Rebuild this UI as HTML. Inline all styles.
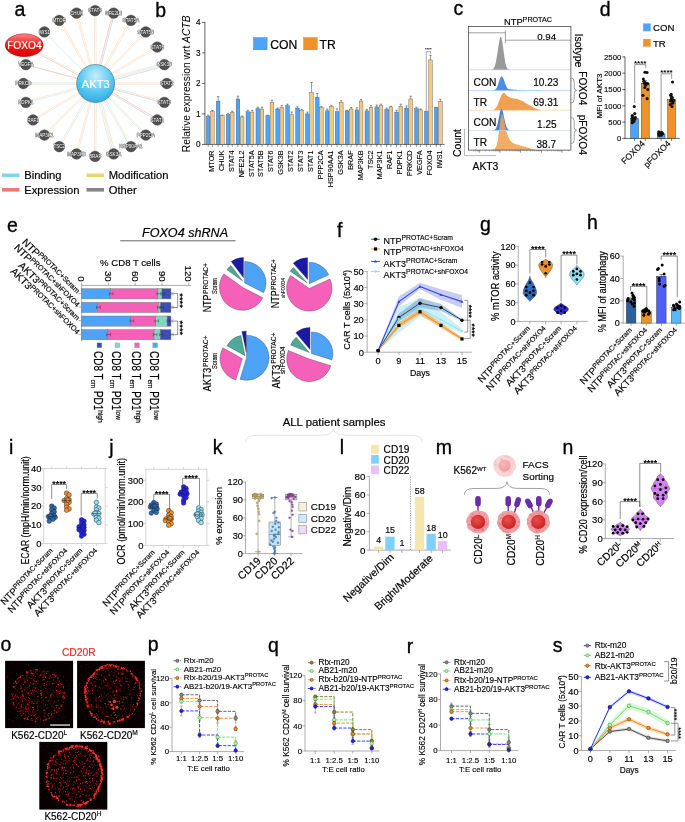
<!DOCTYPE html>
<html lang="en"><head><meta charset="utf-8"><title>Figure</title>
<style>
html,body{margin:0;padding:0;background:#fff;}
body{width:685px;height:822px;overflow:hidden;}
svg{display:block;font-family:"Liberation Sans",Arial,Helvetica,sans-serif;}
</style></head><body>
<svg width="685" height="822" viewBox="0 0 685 822">
<rect width="685" height="822" fill="#fff"/>
<defs><radialGradient id="gAkt" cx="50%" cy="30%" r="75%"><stop offset="0" stop-color="#c9eefc"/><stop offset="0.55" stop-color="#5cc8f2"/><stop offset="1" stop-color="#2aa7de"/></radialGradient><linearGradient id="gFox" x1="0" y1="0" x2="0" y2="1"><stop offset="0" stop-color="#ff8a8a"/><stop offset="0.45" stop-color="#f02222"/><stop offset="1" stop-color="#d80000"/></linearGradient></defs>
<line x1="94.85" y1="83.51" x2="94.35" y2="10.61" stroke="#f8dcc0" stroke-width="0.65" />
<line x1="96.35" y1="83.49" x2="95.85" y2="10.59" stroke="#f8dcc0" stroke-width="0.65" />
<line x1="94.87" y1="83.31" x2="112.93" y2="12.9" stroke="#e9b6b6" stroke-width="0.65" />
<line x1="96.33" y1="83.69" x2="114.38" y2="13.27" stroke="#c9c9cf" stroke-width="0.65" />
<line x1="94.95" y1="83.13" x2="130.3" y2="20" stroke="#f8dcc0" stroke-width="0.65" />
<line x1="96.25" y1="83.87" x2="131.6" y2="20.73" stroke="#f8dcc0" stroke-width="0.65" />
<line x1="95.06" y1="82.98" x2="145.26" y2="31.43" stroke="#f8dcc0" stroke-width="0.65" />
<line x1="96.14" y1="84.02" x2="146.34" y2="32.48" stroke="#f8dcc0" stroke-width="0.65" />
<line x1="95.22" y1="82.85" x2="156.81" y2="46.4" stroke="#f8dcc0" stroke-width="0.65" />
<line x1="95.98" y1="84.15" x2="157.58" y2="47.7" stroke="#f8dcc0" stroke-width="0.65" />
<line x1="95.2" y1="82.05" x2="163.96" y2="63.19" stroke="#f8dcc0" stroke-width="0.65" />
<line x1="95.6" y1="83.5" x2="164.36" y2="64.63" stroke="#bfeaf2" stroke-width="0.65" />
<line x1="96" y1="84.95" x2="164.75" y2="66.08" stroke="#c9c9cf" stroke-width="0.65" />
<line x1="95.6" y1="82.75" x2="166.8" y2="82.75" stroke="#f8dcc0" stroke-width="0.65" />
<line x1="95.6" y1="84.25" x2="166.8" y2="84.25" stroke="#f8dcc0" stroke-width="0.65" />
<line x1="95.8" y1="82.78" x2="164.56" y2="101.64" stroke="#f8dcc0" stroke-width="0.65" />
<line x1="95.4" y1="84.22" x2="164.16" y2="103.09" stroke="#c9c9cf" stroke-width="0.65" />
<line x1="95.98" y1="82.85" x2="157.58" y2="119.3" stroke="#e9b6b6" stroke-width="0.65" />
<line x1="95.22" y1="84.15" x2="156.81" y2="120.6" stroke="#c9c9cf" stroke-width="0.65" />
<line x1="96.14" y1="82.98" x2="146.34" y2="134.52" stroke="#f8dcc0" stroke-width="0.65" />
<line x1="95.06" y1="84.02" x2="145.26" y2="135.57" stroke="#bfeaf2" stroke-width="0.65" />
<line x1="96.25" y1="83.13" x2="131.6" y2="146.27" stroke="#f8dcc0" stroke-width="0.65" />
<line x1="94.95" y1="83.87" x2="130.3" y2="147" stroke="#bfeaf2" stroke-width="0.65" />
<line x1="97.05" y1="83.13" x2="115.11" y2="153.54" stroke="#f8dcc0" stroke-width="0.65" />
<line x1="95.6" y1="83.5" x2="113.66" y2="153.92" stroke="#bfeaf2" stroke-width="0.65" />
<line x1="94.15" y1="83.87" x2="112.2" y2="154.29" stroke="#f8dcc0" stroke-width="0.65" />
<line x1="96.35" y1="83.51" x2="95.85" y2="156.41" stroke="#f8dcc0" stroke-width="0.65" />
<line x1="94.85" y1="83.49" x2="94.35" y2="156.39" stroke="#f8dcc0" stroke-width="0.65" />
<line x1="96.32" y1="83.7" x2="77.27" y2="154.11" stroke="#f8dcc0" stroke-width="0.65" />
<line x1="94.88" y1="83.3" x2="75.82" y2="153.72" stroke="#f8dcc0" stroke-width="0.65" />
<line x1="96.25" y1="83.87" x2="59.9" y2="147.01" stroke="#f8dcc0" stroke-width="0.65" />
<line x1="94.95" y1="83.13" x2="58.6" y2="146.26" stroke="#bfeaf2" stroke-width="0.65" />
<line x1="96.13" y1="84.03" x2="44.93" y2="135.58" stroke="#f8dcc0" stroke-width="0.65" />
<line x1="95.07" y1="82.97" x2="43.87" y2="134.52" stroke="#f8dcc0" stroke-width="0.65" />
<line x1="95.98" y1="84.15" x2="33.38" y2="120.6" stroke="#f8dcc0" stroke-width="0.65" />
<line x1="95.22" y1="82.85" x2="32.63" y2="119.3" stroke="#f8dcc0" stroke-width="0.65" />
<line x1="95.8" y1="84.22" x2="26.04" y2="103.09" stroke="#bfeaf2" stroke-width="0.65" />
<line x1="95.4" y1="82.78" x2="25.65" y2="101.64" stroke="#f8dcc0" stroke-width="0.65" />
<line x1="95.6" y1="84.25" x2="23.4" y2="84.25" stroke="#f8dcc0" stroke-width="0.65" />
<line x1="95.6" y1="82.75" x2="23.4" y2="82.75" stroke="#bfeaf2" stroke-width="0.65" />
<line x1="95.6" y1="83.5" x2="25.84" y2="64.63" stroke="#f0b0a8" stroke-width="0.65" />
<line x1="95.25" y1="84.16" x2="23.85" y2="45.86" stroke="#e9b6b6" stroke-width="0.65" />
<line x1="95.95" y1="82.84" x2="24.55" y2="44.54" stroke="#f8dcc0" stroke-width="0.65" />
<line x1="95.6" y1="83.5" x2="44.4" y2="31.95" stroke="#bfeaf2" stroke-width="0.65" />
<line x1="94.95" y1="83.87" x2="58.6" y2="20.74" stroke="#f8dcc0" stroke-width="0.65" />
<line x1="96.25" y1="83.13" x2="59.9" y2="19.99" stroke="#f8dcc0" stroke-width="0.65" />
<line x1="94.88" y1="83.7" x2="75.82" y2="13.28" stroke="#f8dcc0" stroke-width="0.65" />
<line x1="96.32" y1="83.3" x2="77.27" y2="12.89" stroke="#f8dcc0" stroke-width="0.65" />
<circle cx="95.1" cy="10.6" r="5.4" fill="#505050" stroke="#3a3a3a" stroke-width="0.3" />
<text font-size="4.6" text-anchor="middle" fill="#fff" x="95.1" y="12.2" stroke="#444" stroke-width="0.6" paint-order="stroke" stroke-linejoin="round">STAT4</text>
<circle cx="113.66" cy="13.08" r="5.4" fill="#505050" stroke="#3a3a3a" stroke-width="0.3" />
<text font-size="4.6" text-anchor="middle" fill="#fff" x="113.66" y="14.68" stroke="#444" stroke-width="0.6" paint-order="stroke" stroke-linejoin="round">NFE2L2</text>
<circle cx="130.95" cy="20.37" r="5.4" fill="#505050" stroke="#3a3a3a" stroke-width="0.3" />
<text font-size="4.6" text-anchor="middle" fill="#fff" x="130.95" y="21.97" stroke="#444" stroke-width="0.6" paint-order="stroke" stroke-linejoin="round">STAT5A</text>
<circle cx="145.8" cy="31.95" r="5.4" fill="#505050" stroke="#3a3a3a" stroke-width="0.3" />
<text font-size="4.6" text-anchor="middle" fill="#fff" x="145.8" y="33.55" stroke="#444" stroke-width="0.6" paint-order="stroke" stroke-linejoin="round">STAT5B</text>
<circle cx="157.19" cy="47.05" r="5.4" fill="#505050" stroke="#3a3a3a" stroke-width="0.3" />
<text font-size="4.6" text-anchor="middle" fill="#fff" x="157.19" y="48.65" stroke="#444" stroke-width="0.6" paint-order="stroke" stroke-linejoin="round">STAT6</text>
<circle cx="164.36" cy="64.63" r="5.4" fill="#505050" stroke="#3a3a3a" stroke-width="0.3" />
<text font-size="4.6" text-anchor="middle" fill="#fff" x="164.36" y="66.23" stroke="#444" stroke-width="0.6" paint-order="stroke" stroke-linejoin="round">GSK3B</text>
<circle cx="166.8" cy="83.5" r="5.4" fill="#505050" stroke="#3a3a3a" stroke-width="0.3" />
<text font-size="4.6" text-anchor="middle" fill="#fff" x="166.8" y="85.1" stroke="#444" stroke-width="0.6" paint-order="stroke" stroke-linejoin="round">STAT2</text>
<circle cx="164.36" cy="102.37" r="5.4" fill="#505050" stroke="#3a3a3a" stroke-width="0.3" />
<text font-size="4.6" text-anchor="middle" fill="#fff" x="164.36" y="103.97" stroke="#444" stroke-width="0.6" paint-order="stroke" stroke-linejoin="round">STAT3</text>
<circle cx="157.19" cy="119.95" r="5.4" fill="#505050" stroke="#3a3a3a" stroke-width="0.3" />
<text font-size="4.6" text-anchor="middle" fill="#fff" x="157.19" y="121.55" stroke="#444" stroke-width="0.6" paint-order="stroke" stroke-linejoin="round">STAT1</text>
<circle cx="145.8" cy="135.05" r="5.4" fill="#505050" stroke="#3a3a3a" stroke-width="0.3" />
<text font-size="4.6" text-anchor="middle" fill="#fff" x="145.8" y="136.65" stroke="#444" stroke-width="0.6" paint-order="stroke" stroke-linejoin="round">PPP2CA</text>
<circle cx="130.95" cy="146.63" r="5.4" fill="#505050" stroke="#3a3a3a" stroke-width="0.3" />
<text font-size="4.6" text-anchor="middle" fill="#fff" x="130.95" y="148.23" stroke="#444" stroke-width="0.6" paint-order="stroke" stroke-linejoin="round">HSP90AA1</text>
<circle cx="113.66" cy="153.92" r="5.4" fill="#505050" stroke="#3a3a3a" stroke-width="0.3" />
<text font-size="4.6" text-anchor="middle" fill="#fff" x="113.66" y="155.52" stroke="#444" stroke-width="0.6" paint-order="stroke" stroke-linejoin="round">GSK3A</text>
<circle cx="95.1" cy="156.4" r="5.4" fill="#505050" stroke="#3a3a3a" stroke-width="0.3" />
<text font-size="4.6" text-anchor="middle" fill="#fff" x="95.1" y="158" stroke="#444" stroke-width="0.6" paint-order="stroke" stroke-linejoin="round">BRAF</text>
<circle cx="76.54" cy="153.92" r="5.4" fill="#505050" stroke="#3a3a3a" stroke-width="0.3" />
<text font-size="4.6" text-anchor="middle" fill="#fff" x="76.54" y="155.52" stroke="#444" stroke-width="0.6" paint-order="stroke" stroke-linejoin="round">MAP3KB</text>
<circle cx="59.25" cy="146.63" r="5.4" fill="#505050" stroke="#3a3a3a" stroke-width="0.3" />
<text font-size="4.6" text-anchor="middle" fill="#fff" x="59.25" y="148.23" stroke="#444" stroke-width="0.6" paint-order="stroke" stroke-linejoin="round">TSC2</text>
<circle cx="44.4" cy="135.05" r="5.4" fill="#505050" stroke="#3a3a3a" stroke-width="0.3" />
<text font-size="4.6" text-anchor="middle" fill="#fff" x="44.4" y="136.65" stroke="#444" stroke-width="0.6" paint-order="stroke" stroke-linejoin="round">MAP3K1</text>
<circle cx="33.01" cy="119.95" r="5.4" fill="#505050" stroke="#3a3a3a" stroke-width="0.3" />
<text font-size="4.6" text-anchor="middle" fill="#fff" x="33.01" y="121.55" stroke="#444" stroke-width="0.6" paint-order="stroke" stroke-linejoin="round">RAF1</text>
<circle cx="25.84" cy="102.37" r="5.4" fill="#505050" stroke="#3a3a3a" stroke-width="0.3" />
<text font-size="4.6" text-anchor="middle" fill="#fff" x="25.84" y="103.97" stroke="#444" stroke-width="0.6" paint-order="stroke" stroke-linejoin="round">PDPK1</text>
<circle cx="23.4" cy="83.5" r="5.4" fill="#505050" stroke="#3a3a3a" stroke-width="0.3" />
<text font-size="4.6" text-anchor="middle" fill="#fff" x="23.4" y="85.1" stroke="#444" stroke-width="0.6" paint-order="stroke" stroke-linejoin="round">PRKCD</text>
<circle cx="25.84" cy="64.63" r="5.4" fill="#505050" stroke="#3a3a3a" stroke-width="0.3" />
<text font-size="4.6" text-anchor="middle" fill="#fff" x="25.84" y="66.23" stroke="#444" stroke-width="0.6" paint-order="stroke" stroke-linejoin="round">VEGFA</text>
<circle cx="44.4" cy="31.95" r="5.4" fill="#505050" stroke="#3a3a3a" stroke-width="0.3" />
<text font-size="4.6" text-anchor="middle" fill="#fff" x="44.4" y="33.55" stroke="#444" stroke-width="0.6" paint-order="stroke" stroke-linejoin="round">IWS1</text>
<circle cx="59.25" cy="20.37" r="5.4" fill="#505050" stroke="#3a3a3a" stroke-width="0.3" />
<text font-size="4.6" text-anchor="middle" fill="#fff" x="59.25" y="21.97" stroke="#444" stroke-width="0.6" paint-order="stroke" stroke-linejoin="round">MTOR</text>
<circle cx="76.54" cy="13.08" r="5.4" fill="#505050" stroke="#3a3a3a" stroke-width="0.3" />
<text font-size="4.6" text-anchor="middle" fill="#fff" x="76.54" y="14.68" stroke="#444" stroke-width="0.6" paint-order="stroke" stroke-linejoin="round">CHUK</text>
<ellipse cx="24.2" cy="45.2" rx="19" ry="11.5" fill="url(#gFox)" stroke="#7a1a1a" stroke-width="0.5" />
<text font-size="10.2" text-anchor="middle" fill="#fff" stroke="#fff" stroke-width="0.17" x="24.4" y="48.9" >FOXO4</text>
<circle cx="95.6" cy="83.5" r="19" fill="url(#gAkt)" stroke="#3a5560" stroke-width="0.5" />
<text font-size="11.2" text-anchor="middle" fill="#fff" stroke="#fff" stroke-width="0.19" x="95.8" y="87.5" >AKT3</text>
<line x1="2" y1="175.3" x2="19.5" y2="175.3" stroke="#7fd4f2" stroke-width="3.6" />
<text font-size="11.2" stroke="#000" stroke-width="0.19" x="24.2" y="179.2" >Binding</text>
<line x1="86.5" y1="175.3" x2="104" y2="175.3" stroke="#ead27a" stroke-width="3.6" />
<text font-size="11.2" stroke="#000" stroke-width="0.19" x="108.7" y="179.2" >Modification</text>
<line x1="2" y1="189.8" x2="19.5" y2="189.8" stroke="#f27878" stroke-width="3.6" />
<text font-size="11.2" stroke="#000" stroke-width="0.19" x="24.2" y="193.7" >Expression</text>
<line x1="86.5" y1="189.8" x2="104" y2="189.8" stroke="#858585" stroke-width="3.6" />
<text font-size="11.2" stroke="#000" stroke-width="0.19" x="108.7" y="193.7" >Other</text>
<line x1="204.9" y1="22.1" x2="204.9" y2="144.4" stroke="#222" stroke-width="0.7" />
<line x1="204.6" y1="144.4" x2="444.5" y2="144.4" stroke="#222" stroke-width="0.7" />
<line x1="201.9" y1="144.4" x2="204.9" y2="144.4" stroke="#222" stroke-width="0.7" />
<text font-size="8.2" text-anchor="end" stroke="#000" stroke-width="0.14" x="200.6" y="147.4" >0</text>
<line x1="201.9" y1="113.9" x2="204.9" y2="113.9" stroke="#222" stroke-width="0.7" />
<text font-size="8.2" text-anchor="end" stroke="#000" stroke-width="0.14" x="200.6" y="116.9" >1</text>
<line x1="201.9" y1="83.4" x2="204.9" y2="83.4" stroke="#222" stroke-width="0.7" />
<text font-size="8.2" text-anchor="end" stroke="#000" stroke-width="0.14" x="200.6" y="86.4" >2</text>
<line x1="201.9" y1="52.9" x2="204.9" y2="52.9" stroke="#222" stroke-width="0.7" />
<text font-size="8.2" text-anchor="end" stroke="#000" stroke-width="0.14" x="200.6" y="55.9" >3</text>
<line x1="201.9" y1="22.4" x2="204.9" y2="22.4" stroke="#222" stroke-width="0.7" />
<text font-size="8.2" text-anchor="end" stroke="#000" stroke-width="0.14" x="200.6" y="25.4" >4</text>
<text font-size="10.3" transform="translate(190.2 152.2) rotate(-90)">Relative expression wrt <tspan font-style="italic">ACTB</tspan></text>
<line x1="208.22" y1="116.34" x2="208.22" y2="115.12" stroke="#333" stroke-width="0.5" />
<line x1="207.03" y1="115.12" x2="209.42" y2="115.12" stroke="#333" stroke-width="0.5" />
<rect x="206.4" y="116.34" width="3.65" height="28.06" fill="#4da3f8" stroke="#444" stroke-width="0.35" />
<line x1="208.22" y1="144.4" x2="208.22" y2="147" stroke="#333" stroke-width="0.5" />
<line x1="212.42" y1="111.46" x2="212.42" y2="110.55" stroke="#333" stroke-width="0.5" />
<line x1="211.22" y1="110.55" x2="213.62" y2="110.55" stroke="#333" stroke-width="0.5" />
<rect x="210.6" y="111.46" width="3.65" height="32.94" fill="#f1c884" stroke="#444" stroke-width="0.35" />
<line x1="212.42" y1="144.4" x2="212.42" y2="147" stroke="#333" stroke-width="0.5" />
<text font-size="7.3" text-anchor="end" stroke="#000" stroke-width="0.12" transform="translate(213.9 150.4) rotate(-90)" >MTOR</text>
<line x1="218.14" y1="101.09" x2="218.14" y2="96.52" stroke="#333" stroke-width="0.5" />
<line x1="216.94" y1="96.52" x2="219.34" y2="96.52" stroke="#333" stroke-width="0.5" />
<rect x="216.31" y="101.09" width="3.65" height="43.31" fill="#4da3f8" stroke="#444" stroke-width="0.35" />
<line x1="218.14" y1="144.4" x2="218.14" y2="147" stroke="#333" stroke-width="0.5" />
<line x1="222.34" y1="115.73" x2="222.34" y2="115.12" stroke="#333" stroke-width="0.5" />
<line x1="221.14" y1="115.12" x2="223.54" y2="115.12" stroke="#333" stroke-width="0.5" />
<rect x="220.51" y="115.73" width="3.65" height="28.67" fill="#f1c884" stroke="#444" stroke-width="0.35" />
<line x1="222.34" y1="144.4" x2="222.34" y2="147" stroke="#333" stroke-width="0.5" />
<text font-size="7.3" text-anchor="end" stroke="#000" stroke-width="0.12" transform="translate(223.81 150.4) rotate(-90)" >CHUK</text>
<line x1="228.05" y1="114.51" x2="228.05" y2="113.29" stroke="#333" stroke-width="0.5" />
<line x1="226.85" y1="113.29" x2="229.25" y2="113.29" stroke="#333" stroke-width="0.5" />
<rect x="226.23" y="114.51" width="3.65" height="29.89" fill="#4da3f8" stroke="#444" stroke-width="0.35" />
<line x1="228.05" y1="144.4" x2="228.05" y2="147" stroke="#333" stroke-width="0.5" />
<line x1="232.25" y1="112.38" x2="232.25" y2="111.16" stroke="#333" stroke-width="0.5" />
<line x1="231.05" y1="111.16" x2="233.45" y2="111.16" stroke="#333" stroke-width="0.5" />
<rect x="230.43" y="112.38" width="3.65" height="32.02" fill="#f1c884" stroke="#444" stroke-width="0.35" />
<line x1="232.25" y1="144.4" x2="232.25" y2="147" stroke="#333" stroke-width="0.5" />
<text font-size="7.3" text-anchor="end" stroke="#000" stroke-width="0.12" transform="translate(233.73 150.4) rotate(-90)" >STAT4</text>
<line x1="237.96" y1="98.96" x2="237.96" y2="96.21" stroke="#333" stroke-width="0.5" />
<line x1="236.76" y1="96.21" x2="239.16" y2="96.21" stroke="#333" stroke-width="0.5" />
<rect x="236.14" y="98.96" width="3.65" height="45.45" fill="#4da3f8" stroke="#444" stroke-width="0.35" />
<line x1="237.96" y1="144.4" x2="237.96" y2="147" stroke="#333" stroke-width="0.5" />
<line x1="242.16" y1="116.95" x2="242.16" y2="116.03" stroke="#333" stroke-width="0.5" />
<line x1="240.96" y1="116.03" x2="243.36" y2="116.03" stroke="#333" stroke-width="0.5" />
<rect x="240.34" y="116.95" width="3.65" height="27.45" fill="#f1c884" stroke="#444" stroke-width="0.35" />
<line x1="242.16" y1="144.4" x2="242.16" y2="147" stroke="#333" stroke-width="0.5" />
<text font-size="7.3" text-anchor="end" stroke="#000" stroke-width="0.12" transform="translate(243.64 150.4) rotate(-90)" >NFE2L2</text>
<line x1="247.88" y1="111.77" x2="247.88" y2="110.24" stroke="#333" stroke-width="0.5" />
<line x1="246.68" y1="110.24" x2="249.08" y2="110.24" stroke="#333" stroke-width="0.5" />
<rect x="246.05" y="111.77" width="3.65" height="32.64" fill="#4da3f8" stroke="#444" stroke-width="0.35" />
<line x1="247.88" y1="144.4" x2="247.88" y2="147" stroke="#333" stroke-width="0.5" />
<line x1="252.08" y1="112.07" x2="252.08" y2="110.24" stroke="#333" stroke-width="0.5" />
<line x1="250.88" y1="110.24" x2="253.28" y2="110.24" stroke="#333" stroke-width="0.5" />
<rect x="250.25" y="112.07" width="3.65" height="32.33" fill="#f1c884" stroke="#444" stroke-width="0.35" />
<line x1="252.08" y1="144.4" x2="252.08" y2="147" stroke="#333" stroke-width="0.5" />
<text font-size="7.3" text-anchor="end" stroke="#000" stroke-width="0.12" transform="translate(253.55 150.4) rotate(-90)" >STAT5A</text>
<line x1="257.79" y1="108.72" x2="257.79" y2="107.19" stroke="#333" stroke-width="0.5" />
<line x1="256.59" y1="107.19" x2="258.99" y2="107.19" stroke="#333" stroke-width="0.5" />
<rect x="255.97" y="108.72" width="3.65" height="35.68" fill="#4da3f8" stroke="#444" stroke-width="0.35" />
<line x1="257.79" y1="144.4" x2="257.79" y2="147" stroke="#333" stroke-width="0.5" />
<line x1="261.99" y1="109.02" x2="261.99" y2="107.19" stroke="#333" stroke-width="0.5" />
<line x1="260.79" y1="107.19" x2="263.19" y2="107.19" stroke="#333" stroke-width="0.5" />
<rect x="260.17" y="109.02" width="3.65" height="35.38" fill="#f1c884" stroke="#444" stroke-width="0.35" />
<line x1="261.99" y1="144.4" x2="261.99" y2="147" stroke="#333" stroke-width="0.5" />
<text font-size="7.3" text-anchor="end" stroke="#000" stroke-width="0.12" transform="translate(263.47 150.4) rotate(-90)" >STAT5B</text>
<line x1="267.7" y1="115.73" x2="267.7" y2="115.12" stroke="#333" stroke-width="0.5" />
<line x1="266.5" y1="115.12" x2="268.9" y2="115.12" stroke="#333" stroke-width="0.5" />
<rect x="265.88" y="115.73" width="3.65" height="28.67" fill="#4da3f8" stroke="#444" stroke-width="0.35" />
<line x1="267.7" y1="144.4" x2="267.7" y2="147" stroke="#333" stroke-width="0.5" />
<line x1="271.9" y1="102.31" x2="271.9" y2="100.17" stroke="#333" stroke-width="0.5" />
<line x1="270.7" y1="100.17" x2="273.1" y2="100.17" stroke="#333" stroke-width="0.5" />
<rect x="270.08" y="102.31" width="3.65" height="42.09" fill="#f1c884" stroke="#444" stroke-width="0.35" />
<line x1="271.9" y1="144.4" x2="271.9" y2="147" stroke="#333" stroke-width="0.5" />
<text font-size="7.3" text-anchor="end" stroke="#000" stroke-width="0.12" transform="translate(273.38 150.4) rotate(-90)" >STAT6</text>
<line x1="277.62" y1="109.02" x2="277.62" y2="108.11" stroke="#333" stroke-width="0.5" />
<line x1="276.42" y1="108.11" x2="278.82" y2="108.11" stroke="#333" stroke-width="0.5" />
<rect x="275.79" y="109.02" width="3.65" height="35.38" fill="#4da3f8" stroke="#444" stroke-width="0.35" />
<line x1="277.62" y1="144.4" x2="277.62" y2="147" stroke="#333" stroke-width="0.5" />
<line x1="281.82" y1="107.19" x2="281.82" y2="105.36" stroke="#333" stroke-width="0.5" />
<line x1="280.62" y1="105.36" x2="283.02" y2="105.36" stroke="#333" stroke-width="0.5" />
<rect x="279.99" y="107.19" width="3.65" height="37.21" fill="#f1c884" stroke="#444" stroke-width="0.35" />
<line x1="281.82" y1="144.4" x2="281.82" y2="147" stroke="#333" stroke-width="0.5" />
<text font-size="7.3" text-anchor="end" stroke="#000" stroke-width="0.12" transform="translate(283.29 150.4) rotate(-90)" >GSK3B</text>
<line x1="287.53" y1="105.67" x2="287.53" y2="104.14" stroke="#333" stroke-width="0.5" />
<line x1="286.33" y1="104.14" x2="288.73" y2="104.14" stroke="#333" stroke-width="0.5" />
<rect x="285.7" y="105.67" width="3.65" height="38.73" fill="#4da3f8" stroke="#444" stroke-width="0.35" />
<line x1="287.53" y1="144.4" x2="287.53" y2="147" stroke="#333" stroke-width="0.5" />
<line x1="291.73" y1="114.81" x2="291.73" y2="112.07" stroke="#333" stroke-width="0.5" />
<line x1="290.53" y1="112.07" x2="292.93" y2="112.07" stroke="#333" stroke-width="0.5" />
<rect x="289.9" y="114.81" width="3.65" height="29.59" fill="#f1c884" stroke="#444" stroke-width="0.35" />
<line x1="291.73" y1="144.4" x2="291.73" y2="147" stroke="#333" stroke-width="0.5" />
<text font-size="7.3" text-anchor="end" stroke="#000" stroke-width="0.12" transform="translate(293.2 150.4) rotate(-90)" >STAT2</text>
<line x1="297.44" y1="108.11" x2="297.44" y2="106.89" stroke="#333" stroke-width="0.5" />
<line x1="296.24" y1="106.89" x2="298.64" y2="106.89" stroke="#333" stroke-width="0.5" />
<rect x="295.62" y="108.11" width="3.65" height="36.3" fill="#4da3f8" stroke="#444" stroke-width="0.35" />
<line x1="297.44" y1="144.4" x2="297.44" y2="147" stroke="#333" stroke-width="0.5" />
<line x1="301.64" y1="110.24" x2="301.64" y2="109.33" stroke="#333" stroke-width="0.5" />
<line x1="300.44" y1="109.33" x2="302.84" y2="109.33" stroke="#333" stroke-width="0.5" />
<rect x="299.82" y="110.24" width="3.65" height="34.16" fill="#f1c884" stroke="#444" stroke-width="0.35" />
<line x1="301.64" y1="144.4" x2="301.64" y2="147" stroke="#333" stroke-width="0.5" />
<text font-size="7.3" text-anchor="end" stroke="#000" stroke-width="0.12" transform="translate(303.12 150.4) rotate(-90)" >STAT3</text>
<line x1="307.35" y1="113.9" x2="307.35" y2="112.07" stroke="#333" stroke-width="0.5" />
<line x1="306.15" y1="112.07" x2="308.55" y2="112.07" stroke="#333" stroke-width="0.5" />
<rect x="305.53" y="113.9" width="3.65" height="30.5" fill="#4da3f8" stroke="#444" stroke-width="0.35" />
<line x1="307.35" y1="144.4" x2="307.35" y2="147" stroke="#333" stroke-width="0.5" />
<line x1="311.55" y1="92.55" x2="311.55" y2="82.49" stroke="#333" stroke-width="0.5" />
<line x1="310.35" y1="82.49" x2="312.75" y2="82.49" stroke="#333" stroke-width="0.5" />
<rect x="309.73" y="92.55" width="3.65" height="51.85" fill="#f1c884" stroke="#444" stroke-width="0.35" />
<line x1="311.55" y1="144.4" x2="311.55" y2="147" stroke="#333" stroke-width="0.5" />
<text font-size="7.3" text-anchor="end" stroke="#000" stroke-width="0.12" transform="translate(313.03 150.4) rotate(-90)" >STAT1</text>
<line x1="317.27" y1="97.12" x2="317.27" y2="93.47" stroke="#333" stroke-width="0.5" />
<line x1="316.07" y1="93.47" x2="318.47" y2="93.47" stroke="#333" stroke-width="0.5" />
<rect x="315.44" y="97.12" width="3.65" height="47.27" fill="#4da3f8" stroke="#444" stroke-width="0.35" />
<line x1="317.27" y1="144.4" x2="317.27" y2="147" stroke="#333" stroke-width="0.5" />
<line x1="321.47" y1="107.5" x2="321.47" y2="106.58" stroke="#333" stroke-width="0.5" />
<line x1="320.27" y1="106.58" x2="322.67" y2="106.58" stroke="#333" stroke-width="0.5" />
<rect x="319.64" y="107.5" width="3.65" height="36.91" fill="#f1c884" stroke="#444" stroke-width="0.35" />
<line x1="321.47" y1="144.4" x2="321.47" y2="147" stroke="#333" stroke-width="0.5" />
<text font-size="7.3" text-anchor="end" stroke="#000" stroke-width="0.12" transform="translate(322.94 150.4) rotate(-90)" >PPP2CA</text>
<line x1="327.18" y1="110.85" x2="327.18" y2="109.02" stroke="#333" stroke-width="0.5" />
<line x1="325.98" y1="109.02" x2="328.38" y2="109.02" stroke="#333" stroke-width="0.5" />
<rect x="325.36" y="110.85" width="3.65" height="33.55" fill="#4da3f8" stroke="#444" stroke-width="0.35" />
<line x1="327.18" y1="144.4" x2="327.18" y2="147" stroke="#333" stroke-width="0.5" />
<line x1="331.38" y1="106.58" x2="331.38" y2="105.36" stroke="#333" stroke-width="0.5" />
<line x1="330.18" y1="105.36" x2="332.58" y2="105.36" stroke="#333" stroke-width="0.5" />
<rect x="329.56" y="106.58" width="3.65" height="37.82" fill="#f1c884" stroke="#444" stroke-width="0.35" />
<line x1="331.38" y1="144.4" x2="331.38" y2="147" stroke="#333" stroke-width="0.5" />
<text font-size="7.3" text-anchor="end" stroke="#000" stroke-width="0.12" transform="translate(332.86 150.4) rotate(-90)" >HSP90AA1</text>
<line x1="337.09" y1="111.77" x2="337.09" y2="108.72" stroke="#333" stroke-width="0.5" />
<line x1="335.89" y1="108.72" x2="338.29" y2="108.72" stroke="#333" stroke-width="0.5" />
<rect x="335.27" y="111.77" width="3.65" height="32.64" fill="#4da3f8" stroke="#444" stroke-width="0.35" />
<line x1="337.09" y1="144.4" x2="337.09" y2="147" stroke="#333" stroke-width="0.5" />
<line x1="341.29" y1="102.31" x2="341.29" y2="100.78" stroke="#333" stroke-width="0.5" />
<line x1="340.09" y1="100.78" x2="342.49" y2="100.78" stroke="#333" stroke-width="0.5" />
<rect x="339.47" y="102.31" width="3.65" height="42.09" fill="#f1c884" stroke="#444" stroke-width="0.35" />
<line x1="341.29" y1="144.4" x2="341.29" y2="147" stroke="#333" stroke-width="0.5" />
<text font-size="7.3" text-anchor="end" stroke="#000" stroke-width="0.12" transform="translate(342.77 150.4) rotate(-90)" >GSK3A</text>
<line x1="347.01" y1="110.85" x2="347.01" y2="110.24" stroke="#333" stroke-width="0.5" />
<line x1="345.81" y1="110.24" x2="348.21" y2="110.24" stroke="#333" stroke-width="0.5" />
<rect x="345.18" y="110.85" width="3.65" height="33.55" fill="#4da3f8" stroke="#444" stroke-width="0.35" />
<line x1="347.01" y1="144.4" x2="347.01" y2="147" stroke="#333" stroke-width="0.5" />
<line x1="351.21" y1="109.02" x2="351.21" y2="107.5" stroke="#333" stroke-width="0.5" />
<line x1="350.01" y1="107.5" x2="352.41" y2="107.5" stroke="#333" stroke-width="0.5" />
<rect x="349.38" y="109.02" width="3.65" height="35.38" fill="#f1c884" stroke="#444" stroke-width="0.35" />
<line x1="351.21" y1="144.4" x2="351.21" y2="147" stroke="#333" stroke-width="0.5" />
<text font-size="7.3" text-anchor="end" stroke="#000" stroke-width="0.12" transform="translate(352.68 150.4) rotate(-90)" >BRAF</text>
<line x1="356.92" y1="109.94" x2="356.92" y2="107.8" stroke="#333" stroke-width="0.5" />
<line x1="355.72" y1="107.8" x2="358.12" y2="107.8" stroke="#333" stroke-width="0.5" />
<rect x="355.1" y="109.94" width="3.65" height="34.46" fill="#4da3f8" stroke="#444" stroke-width="0.35" />
<line x1="356.92" y1="144.4" x2="356.92" y2="147" stroke="#333" stroke-width="0.5" />
<line x1="361.12" y1="101.09" x2="361.12" y2="99.56" stroke="#333" stroke-width="0.5" />
<line x1="359.92" y1="99.56" x2="362.32" y2="99.56" stroke="#333" stroke-width="0.5" />
<rect x="359.3" y="101.09" width="3.65" height="43.31" fill="#f1c884" stroke="#444" stroke-width="0.35" />
<line x1="361.12" y1="144.4" x2="361.12" y2="147" stroke="#333" stroke-width="0.5" />
<text font-size="7.3" text-anchor="end" stroke="#000" stroke-width="0.12" transform="translate(362.6 150.4) rotate(-90)" >MAP3KB</text>
<line x1="366.83" y1="110.85" x2="366.83" y2="109.32" stroke="#333" stroke-width="0.5" />
<line x1="365.63" y1="109.32" x2="368.03" y2="109.32" stroke="#333" stroke-width="0.5" />
<rect x="365.01" y="110.85" width="3.65" height="33.55" fill="#4da3f8" stroke="#444" stroke-width="0.35" />
<line x1="366.83" y1="144.4" x2="366.83" y2="147" stroke="#333" stroke-width="0.5" />
<line x1="371.03" y1="107.8" x2="371.03" y2="105.67" stroke="#333" stroke-width="0.5" />
<line x1="369.83" y1="105.67" x2="372.23" y2="105.67" stroke="#333" stroke-width="0.5" />
<rect x="369.21" y="107.8" width="3.65" height="36.6" fill="#f1c884" stroke="#444" stroke-width="0.35" />
<line x1="371.03" y1="144.4" x2="371.03" y2="147" stroke="#333" stroke-width="0.5" />
<text font-size="7.3" text-anchor="end" stroke="#000" stroke-width="0.12" transform="translate(372.51 150.4) rotate(-90)" >TSC2</text>
<line x1="376.75" y1="106.89" x2="376.75" y2="105.06" stroke="#333" stroke-width="0.5" />
<line x1="375.55" y1="105.06" x2="377.95" y2="105.06" stroke="#333" stroke-width="0.5" />
<rect x="374.92" y="106.89" width="3.65" height="37.52" fill="#4da3f8" stroke="#444" stroke-width="0.35" />
<line x1="376.75" y1="144.4" x2="376.75" y2="147" stroke="#333" stroke-width="0.5" />
<line x1="380.95" y1="105.67" x2="380.95" y2="104.14" stroke="#333" stroke-width="0.5" />
<line x1="379.75" y1="104.14" x2="382.15" y2="104.14" stroke="#333" stroke-width="0.5" />
<rect x="379.12" y="105.67" width="3.65" height="38.73" fill="#f1c884" stroke="#444" stroke-width="0.35" />
<line x1="380.95" y1="144.4" x2="380.95" y2="147" stroke="#333" stroke-width="0.5" />
<text font-size="7.3" text-anchor="end" stroke="#000" stroke-width="0.12" transform="translate(382.42 150.4) rotate(-90)" >MAP3K1</text>
<line x1="386.66" y1="109.33" x2="386.66" y2="108.11" stroke="#333" stroke-width="0.5" />
<line x1="385.46" y1="108.11" x2="387.86" y2="108.11" stroke="#333" stroke-width="0.5" />
<rect x="384.83" y="109.33" width="3.65" height="35.07" fill="#4da3f8" stroke="#444" stroke-width="0.35" />
<line x1="386.66" y1="144.4" x2="386.66" y2="147" stroke="#333" stroke-width="0.5" />
<line x1="390.86" y1="106.89" x2="390.86" y2="106.28" stroke="#333" stroke-width="0.5" />
<line x1="389.66" y1="106.28" x2="392.06" y2="106.28" stroke="#333" stroke-width="0.5" />
<rect x="389.03" y="106.89" width="3.65" height="37.52" fill="#f1c884" stroke="#444" stroke-width="0.35" />
<line x1="390.86" y1="144.4" x2="390.86" y2="147" stroke="#333" stroke-width="0.5" />
<text font-size="7.3" text-anchor="end" stroke="#000" stroke-width="0.12" transform="translate(392.33 150.4) rotate(-90)" >RAF1</text>
<line x1="396.57" y1="112.07" x2="396.57" y2="110.24" stroke="#333" stroke-width="0.5" />
<line x1="395.37" y1="110.24" x2="397.77" y2="110.24" stroke="#333" stroke-width="0.5" />
<rect x="394.75" y="112.07" width="3.65" height="32.33" fill="#4da3f8" stroke="#444" stroke-width="0.35" />
<line x1="396.57" y1="144.4" x2="396.57" y2="147" stroke="#333" stroke-width="0.5" />
<line x1="400.77" y1="106.28" x2="400.77" y2="104.14" stroke="#333" stroke-width="0.5" />
<line x1="399.57" y1="104.14" x2="401.97" y2="104.14" stroke="#333" stroke-width="0.5" />
<rect x="398.95" y="106.28" width="3.65" height="38.12" fill="#f1c884" stroke="#444" stroke-width="0.35" />
<line x1="400.77" y1="144.4" x2="400.77" y2="147" stroke="#333" stroke-width="0.5" />
<text font-size="7.3" text-anchor="end" stroke="#000" stroke-width="0.12" transform="translate(402.25 150.4) rotate(-90)" >PDPK1</text>
<line x1="406.48" y1="108.11" x2="406.48" y2="105.97" stroke="#333" stroke-width="0.5" />
<line x1="405.28" y1="105.97" x2="407.68" y2="105.97" stroke="#333" stroke-width="0.5" />
<rect x="404.66" y="108.11" width="3.65" height="36.3" fill="#4da3f8" stroke="#444" stroke-width="0.35" />
<line x1="406.48" y1="144.4" x2="406.48" y2="147" stroke="#333" stroke-width="0.5" />
<line x1="410.68" y1="98.96" x2="410.68" y2="96.21" stroke="#333" stroke-width="0.5" />
<line x1="409.48" y1="96.21" x2="411.88" y2="96.21" stroke="#333" stroke-width="0.5" />
<rect x="408.86" y="98.96" width="3.65" height="45.45" fill="#f1c884" stroke="#444" stroke-width="0.35" />
<line x1="410.68" y1="144.4" x2="410.68" y2="147" stroke="#333" stroke-width="0.5" />
<text font-size="7.3" text-anchor="end" stroke="#000" stroke-width="0.12" transform="translate(412.16 150.4) rotate(-90)" >PRKCD</text>
<line x1="416.4" y1="108.72" x2="416.4" y2="107.19" stroke="#333" stroke-width="0.5" />
<line x1="415.2" y1="107.19" x2="417.6" y2="107.19" stroke="#333" stroke-width="0.5" />
<rect x="414.57" y="108.72" width="3.65" height="35.68" fill="#4da3f8" stroke="#444" stroke-width="0.35" />
<line x1="416.4" y1="144.4" x2="416.4" y2="147" stroke="#333" stroke-width="0.5" />
<line x1="420.6" y1="109.94" x2="420.6" y2="109.02" stroke="#333" stroke-width="0.5" />
<line x1="419.4" y1="109.02" x2="421.8" y2="109.02" stroke="#333" stroke-width="0.5" />
<rect x="418.77" y="109.94" width="3.65" height="34.46" fill="#f1c884" stroke="#444" stroke-width="0.35" />
<line x1="420.6" y1="144.4" x2="420.6" y2="147" stroke="#333" stroke-width="0.5" />
<text font-size="7.3" text-anchor="end" stroke="#000" stroke-width="0.12" transform="translate(422.07 150.4) rotate(-90)" >VEGFA</text>
<line x1="426.31" y1="111.77" x2="426.31" y2="111.16" stroke="#333" stroke-width="0.5" />
<line x1="425.11" y1="111.16" x2="427.51" y2="111.16" stroke="#333" stroke-width="0.5" />
<rect x="424.49" y="111.77" width="3.65" height="32.64" fill="#4da3f8" stroke="#444" stroke-width="0.35" />
<line x1="426.31" y1="144.4" x2="426.31" y2="147" stroke="#333" stroke-width="0.5" />
<line x1="430.51" y1="59.92" x2="430.51" y2="55.34" stroke="#333" stroke-width="0.5" />
<line x1="429.31" y1="55.34" x2="431.71" y2="55.34" stroke="#333" stroke-width="0.5" />
<rect x="428.69" y="59.92" width="3.65" height="84.48" fill="#f1c884" stroke="#444" stroke-width="0.35" />
<line x1="430.51" y1="144.4" x2="430.51" y2="147" stroke="#333" stroke-width="0.5" />
<text font-size="7.3" text-anchor="end" stroke="#000" stroke-width="0.12" transform="translate(431.99 150.4) rotate(-90)" >FOXO4</text>
<line x1="436.22" y1="107.8" x2="436.22" y2="107.19" stroke="#333" stroke-width="0.5" />
<line x1="435.02" y1="107.19" x2="437.42" y2="107.19" stroke="#333" stroke-width="0.5" />
<rect x="434.4" y="107.8" width="3.65" height="36.6" fill="#4da3f8" stroke="#444" stroke-width="0.35" />
<line x1="436.22" y1="144.4" x2="436.22" y2="147" stroke="#333" stroke-width="0.5" />
<line x1="440.42" y1="101.4" x2="440.42" y2="99.26" stroke="#333" stroke-width="0.5" />
<line x1="439.22" y1="99.26" x2="441.62" y2="99.26" stroke="#333" stroke-width="0.5" />
<rect x="438.6" y="101.4" width="3.65" height="43" fill="#f1c884" stroke="#444" stroke-width="0.35" />
<line x1="440.42" y1="144.4" x2="440.42" y2="147" stroke="#333" stroke-width="0.5" />
<text font-size="7.3" text-anchor="end" stroke="#000" stroke-width="0.12" transform="translate(441.9 150.4) rotate(-90)" >IWS1</text>
<rect x="253.5" y="37.6" width="13.6" height="12.2" fill="#4da3f8" stroke="#3b78c0" stroke-width="0.4" />
<text font-size="12.2" stroke="#000" stroke-width="0.21" x="270.2" y="49.2" >CON</text>
<rect x="303.6" y="37.6" width="13.6" height="12.2" fill="#f0922b" stroke="#b87a3a" stroke-width="0.4" />
<text font-size="12.2" stroke="#000" stroke-width="0.21" x="319.6" y="49.2" >TR</text>
<path d="M426.29 110.85 V51.6 H430.49 V54" fill="none" stroke="#444" stroke-width="0.45" />
<text font-size="4.2" text-anchor="middle" font-weight="bold" x="428.39" y="51.2" >****</text>
<text font-size="9.3" stroke="#000" stroke-width="0.16" x="504" y="24.9" >NTP<tspan font-size="7.16" dy="-3.35">PROTAC</tspan><tspan dy="3.35">&#8203;</tspan></text>
<path d="M488 69.8 L488 69.8 L488.4 69.8 L488.8 69.79 L489.2 69.79 L489.6 69.78 L490 69.77 L490.4 69.75 L490.8 69.71 L491.2 69.66 L491.6 69.58 L492 69.47 L492.4 69.3 L492.8 69.06 L493.2 68.73 L493.6 68.28 L494 67.68 L494.4 66.9 L494.8 65.91 L495.2 64.67 L495.6 63.17 L496 61.39 L496.4 59.33 L496.8 57.01 L497.2 54.48 L497.6 51.79 L498 49.03 L498.4 46.3 L498.8 43.71 L499.2 41.37 L499.6 39.42 L500 37.94 L500.4 37.01 L500.8 36.7 L501.2 37.09 L501.6 38.23 L502 40.04 L502.4 42.41 L502.8 45.18 L503.2 48.18 L503.6 51.27 L504 54.28 L504.4 57.11 L504.8 59.66 L505.2 61.89 L505.6 63.78 L506 65.32 L506.4 66.55 L506.8 67.49 L507.2 68.2 L507.6 68.72 L508 69.08 L508.4 69.34 L508.8 69.51 L509.2 69.62 L509.6 69.69 L510 69.74 L510.4 69.76 L510.8 69.78 L511.2 69.79 L511.6 69.79 L512 69.8 L512 69.8 Z" fill="#9a9a9a" stroke="none" stroke-width="0.3" fill-opacity="1"/>
<line x1="468.4" y1="69.8" x2="570.9" y2="69.8" stroke="#b5b5b5" stroke-width="0.5" />
<path d="M491 90.4 L491 90.39 L491.82 90.38 L492.63 90.34 L493.45 90.25 L494.27 90.05 L495.08 89.63 L495.9 88.88 L496.72 87.65 L497.53 85.86 L498.35 83.57 L499.17 81.01 L499.98 78.61 L500.8 76.91 L501.62 76.3 L502.43 76.83 L503.25 78.28 L504.07 80.34 L504.88 82.65 L505.7 84.86 L506.52 86.72 L507.33 88.13 L508.15 88.91 L508.97 89.05 L509.78 89.18 L510.6 89.3 L511.42 89.41 L512.23 89.5 L513.05 89.59 L513.87 89.67 L514.68 89.74 L515.5 89.8 L516.32 89.86 L517.13 89.91 L517.95 89.96 L518.77 90 L519.58 90.04 L520.4 90.08 L521.22 90.11 L522.03 90.14 L522.85 90.16 L523.67 90.19 L524.48 90.21 L525.3 90.23 L526.12 90.24 L526.93 90.26 L527.75 90.27 L528.57 90.28 L529.38 90.3 L530.2 90.31 L531.02 90.31 L531.83 90.32 L532.65 90.33 L533.47 90.34 L534.28 90.34 L535.1 90.35 L535.92 90.35 L536.73 90.36 L537.55 90.36 L538.37 90.37 L539.18 90.37 L540 90.37 L540 90.4 Z" fill="#4a8fe6" stroke="none" stroke-width="0.3" fill-opacity="1"/>
<line x1="468.4" y1="90.4" x2="570.9" y2="90.4" stroke="#8ec4f5" stroke-width="0.6" />
<path d="M492 110.3 L493.1 110.33 L495 108.98 L497.1 106.22 L499.5 99.97 L501.9 94.25 L503.5 92.68 L504.8 93.27 L506.8 95.71 L510 97.55 L513.2 98.49 L516.5 98.78 L519.6 99.88 L523 101.22 L526 103.4 L529 104.98 L532.4 107.04 L535 108.49 L537.3 109.03 L541.3 110.3 Z" fill="#f0a050" stroke="none" stroke-width="0.3" fill-opacity="1"/>
<line x1="468.4" y1="110.3" x2="570.9" y2="110.3" stroke="#f5c79a" stroke-width="0.6" />
<path d="M492 130.4 L492 130.38 L492.37 130.37 L492.73 130.35 L493.1 130.31 L493.47 130.26 L493.83 130.18 L494.2 130.06 L494.57 129.89 L494.93 129.65 L495.3 129.31 L495.67 128.86 L496.03 128.26 L496.4 127.5 L496.77 126.56 L497.13 125.41 L497.5 124.06 L497.87 122.52 L498.23 120.81 L498.6 118.97 L498.97 117.07 L499.33 115.19 L499.7 113.42 L500.07 111.84 L500.43 110.54 L500.8 109.61 L501.17 109.09 L501.53 109.03 L501.9 109.36 L502.27 110.07 L502.63 111.12 L503 112.45 L503.37 113.99 L503.73 115.67 L504.1 117.42 L504.47 119.17 L504.83 120.87 L505.2 122.45 L505.57 123.89 L505.93 125.17 L506.3 126.28 L506.67 127.21 L507.03 127.97 L507.4 128.59 L507.77 129.07 L508.13 129.45 L508.5 129.73 L508.87 129.93 L509.23 130.08 L509.6 130.19 L509.97 130.26 L510.33 130.31 L510.7 130.34 L511.07 130.36 L511.43 130.38 L511.8 130.39 L512.17 130.39 L512.53 130.4 L512.9 130.4 L513.27 130.4 L513.63 130.4 L514 130.4 L514 130.4 Z" fill="#3f86e0" stroke="none" stroke-width="0.3" fill-opacity="1"/>
<path d="M492 150.1 L494.5 149.15 L496.5 145.98 L498 138.99 L499.5 127.73 L500.8 117.53 L501.8 114.01 L502.8 114.89 L504 119.79 L505.2 126.99 L506.3 131.59 L508.5 137.28 L510.7 141.35 L513 143.08 L516 144.28 L520.9 145.69 L525 146.77 L529 148.06 L532.6 149.29 L536.5 150.1 Z" fill="#f0a050" stroke="none" stroke-width="0.3" fill-opacity="0.88"/>
<line x1="468.4" y1="130.4" x2="570.9" y2="130.4" stroke="#b9d9f7" stroke-width="0.7" />
<rect x="468.4" y="26.6" width="102.5" height="123.5" fill="none" stroke="#333" stroke-width="0.7" />
<line x1="468.4" y1="32.8" x2="505.4" y2="32.8" stroke="#444" stroke-width="0.5" />
<line x1="505.4" y1="30.4" x2="505.4" y2="43.3" stroke="#444" stroke-width="0.5" />
<line x1="505.4" y1="40.2" x2="570.9" y2="40.2" stroke="#444" stroke-width="0.5" />
<text font-size="9.7" stroke="#000" stroke-width="0.16" x="537.2" y="40.2" >0.94</text>
<text font-size="10.2" stroke="#000" stroke-width="0.17" x="473.6" y="86.2" >CON</text>
<text font-size="10.2" stroke="#000" stroke-width="0.17" x="473.6" y="105.7" >TR</text>
<text font-size="10.2" stroke="#000" stroke-width="0.17" x="473.6" y="125.6" >CON</text>
<text font-size="10.2" stroke="#000" stroke-width="0.17" x="473.6" y="146.2" >TR</text>
<text font-size="10.05" stroke="#000" stroke-width="0.17" x="533.2" y="86.2" >10.23</text>
<text font-size="10.05" stroke="#000" stroke-width="0.17" x="533.2" y="105.7" >69.31</text>
<text font-size="10.05" stroke="#000" stroke-width="0.17" x="537.1" y="128.2" >1.25</text>
<text font-size="10.05" stroke="#000" stroke-width="0.17" x="536.5" y="148" >38.7</text>
<text font-size="10.5" stroke="#000" stroke-width="0.18" transform="translate(575.3 33.6) rotate(90)" >Isotype</text>
<text font-size="10" stroke="#000" stroke-width="0.17" transform="translate(579 71.3) rotate(90)" >FOXO4</text>
<text font-size="10.2" stroke="#000" stroke-width="0.17" transform="translate(579 114.7) rotate(90)" >pFOXO4</text>
<path d="M571.3 77.9 Q574.2 77.9 574.2 81.9 V87.45 Q574.2 90.45 576.6 90.45 Q574.2 90.45 574.2 93.45 V99 Q574.2 103 571.3 103" fill="none" stroke="#444" stroke-width="0.5" />
<path d="M571.3 117.3 Q574.2 117.3 574.2 121.3 V127.45 Q574.2 130.45 576.6 130.45 Q574.2 130.45 574.2 133.45 V139.6 Q574.2 143.6 571.3 143.6" fill="none" stroke="#444" stroke-width="0.5" />
<line x1="479.6" y1="150.1" x2="479.6" y2="152.7" stroke="#333" stroke-width="0.5" />
<line x1="485.77" y1="150.1" x2="485.77" y2="151.5" stroke="#333" stroke-width="0.35" />
<line x1="489.38" y1="150.1" x2="489.38" y2="151.5" stroke="#333" stroke-width="0.35" />
<line x1="491.94" y1="150.1" x2="491.94" y2="151.5" stroke="#333" stroke-width="0.35" />
<line x1="493.93" y1="150.1" x2="493.93" y2="151.5" stroke="#333" stroke-width="0.35" />
<line x1="495.55" y1="150.1" x2="495.55" y2="151.5" stroke="#333" stroke-width="0.35" />
<line x1="496.92" y1="150.1" x2="496.92" y2="151.5" stroke="#333" stroke-width="0.35" />
<line x1="498.11" y1="150.1" x2="498.11" y2="151.5" stroke="#333" stroke-width="0.35" />
<line x1="499.16" y1="150.1" x2="499.16" y2="151.5" stroke="#333" stroke-width="0.35" />
<line x1="499.9" y1="150.1" x2="499.9" y2="152.7" stroke="#333" stroke-width="0.5" />
<line x1="506.07" y1="150.1" x2="506.07" y2="151.5" stroke="#333" stroke-width="0.35" />
<line x1="509.68" y1="150.1" x2="509.68" y2="151.5" stroke="#333" stroke-width="0.35" />
<line x1="512.24" y1="150.1" x2="512.24" y2="151.5" stroke="#333" stroke-width="0.35" />
<line x1="514.23" y1="150.1" x2="514.23" y2="151.5" stroke="#333" stroke-width="0.35" />
<line x1="515.85" y1="150.1" x2="515.85" y2="151.5" stroke="#333" stroke-width="0.35" />
<line x1="517.22" y1="150.1" x2="517.22" y2="151.5" stroke="#333" stroke-width="0.35" />
<line x1="518.41" y1="150.1" x2="518.41" y2="151.5" stroke="#333" stroke-width="0.35" />
<line x1="519.46" y1="150.1" x2="519.46" y2="151.5" stroke="#333" stroke-width="0.35" />
<line x1="520.5" y1="150.1" x2="520.5" y2="152.7" stroke="#333" stroke-width="0.5" />
<line x1="526.67" y1="150.1" x2="526.67" y2="151.5" stroke="#333" stroke-width="0.35" />
<line x1="530.28" y1="150.1" x2="530.28" y2="151.5" stroke="#333" stroke-width="0.35" />
<line x1="532.84" y1="150.1" x2="532.84" y2="151.5" stroke="#333" stroke-width="0.35" />
<line x1="534.83" y1="150.1" x2="534.83" y2="151.5" stroke="#333" stroke-width="0.35" />
<line x1="536.45" y1="150.1" x2="536.45" y2="151.5" stroke="#333" stroke-width="0.35" />
<line x1="537.82" y1="150.1" x2="537.82" y2="151.5" stroke="#333" stroke-width="0.35" />
<line x1="539.01" y1="150.1" x2="539.01" y2="151.5" stroke="#333" stroke-width="0.35" />
<line x1="540.06" y1="150.1" x2="540.06" y2="151.5" stroke="#333" stroke-width="0.35" />
<line x1="541.5" y1="150.1" x2="541.5" y2="152.7" stroke="#333" stroke-width="0.5" />
<line x1="547.67" y1="150.1" x2="547.67" y2="151.5" stroke="#333" stroke-width="0.35" />
<line x1="551.28" y1="150.1" x2="551.28" y2="151.5" stroke="#333" stroke-width="0.35" />
<line x1="553.84" y1="150.1" x2="553.84" y2="151.5" stroke="#333" stroke-width="0.35" />
<line x1="555.83" y1="150.1" x2="555.83" y2="151.5" stroke="#333" stroke-width="0.35" />
<line x1="557.45" y1="150.1" x2="557.45" y2="151.5" stroke="#333" stroke-width="0.35" />
<line x1="558.82" y1="150.1" x2="558.82" y2="151.5" stroke="#333" stroke-width="0.35" />
<line x1="560.01" y1="150.1" x2="560.01" y2="151.5" stroke="#333" stroke-width="0.35" />
<line x1="561.06" y1="150.1" x2="561.06" y2="151.5" stroke="#333" stroke-width="0.35" />
<line x1="562.1" y1="150.1" x2="562.1" y2="152.7" stroke="#333" stroke-width="0.5" />
<line x1="568.27" y1="150.1" x2="568.27" y2="151.5" stroke="#333" stroke-width="0.35" />
<line x1="473.43" y1="150.1" x2="473.43" y2="151.5" stroke="#333" stroke-width="0.35" />
<line x1="475.05" y1="150.1" x2="475.05" y2="151.5" stroke="#333" stroke-width="0.35" />
<line x1="476.42" y1="150.1" x2="476.42" y2="151.5" stroke="#333" stroke-width="0.35" />
<line x1="477.61" y1="150.1" x2="477.61" y2="151.5" stroke="#333" stroke-width="0.35" />
<line x1="478.66" y1="150.1" x2="478.66" y2="151.5" stroke="#333" stroke-width="0.35" />
<text font-size="10.5" stroke="#000" stroke-width="0.18" transform="translate(460.6 157) rotate(-90)" >Count</text>
<path d="M464.5 128.9 V155.6 H496" fill="none" stroke="#777" stroke-width="0.5" />
<text font-size="10.3" stroke="#000" stroke-width="0.18" x="472.6" y="169.6" >AKT3</text>
<rect x="643.2" y="23.6" width="7.4" height="7.5" fill="#4da3f8" stroke="#4da3f8" stroke-width="0.2" />
<text font-size="9.6" stroke="#000" stroke-width="0.16" x="653" y="30.6" >CON</text>
<rect x="643.2" y="39.1" width="7.4" height="7.5" fill="#f0922b" stroke="#f0922b" stroke-width="0.2" />
<text font-size="9.6" stroke="#000" stroke-width="0.16" x="653" y="46.6" >TR</text>
<line x1="625" y1="56.6" x2="625" y2="138.4" stroke="#222" stroke-width="0.7" />
<line x1="624.7" y1="138.4" x2="679.8" y2="138.4" stroke="#222" stroke-width="0.7" />
<line x1="622.2" y1="138.4" x2="625" y2="138.4" stroke="#222" stroke-width="0.7" />
<text font-size="7.7" text-anchor="end" stroke="#000" stroke-width="0.13" x="621.2" y="141.2" >0</text>
<line x1="622.2" y1="122.1" x2="625" y2="122.1" stroke="#222" stroke-width="0.7" />
<text font-size="7.7" text-anchor="end" stroke="#000" stroke-width="0.13" x="621.2" y="124.9" >500</text>
<line x1="622.2" y1="105.8" x2="625" y2="105.8" stroke="#222" stroke-width="0.7" />
<text font-size="7.7" text-anchor="end" stroke="#000" stroke-width="0.13" x="621.2" y="108.6" >1000</text>
<line x1="622.2" y1="89.5" x2="625" y2="89.5" stroke="#222" stroke-width="0.7" />
<text font-size="7.7" text-anchor="end" stroke="#000" stroke-width="0.13" x="621.2" y="92.3" >1500</text>
<line x1="622.2" y1="73.2" x2="625" y2="73.2" stroke="#222" stroke-width="0.7" />
<text font-size="7.7" text-anchor="end" stroke="#000" stroke-width="0.13" x="621.2" y="76" >2000</text>
<line x1="622.2" y1="56.9" x2="625" y2="56.9" stroke="#222" stroke-width="0.7" />
<text font-size="7.7" text-anchor="end" stroke="#000" stroke-width="0.13" x="621.2" y="59.7" >2500</text>
<text font-size="8.1" stroke="#000" stroke-width="0.14" transform="translate(602.3 118.4) rotate(-90)" >MFI of AKT3</text>
<rect x="630.7" y="118.25" width="7.8" height="20.15" fill="#4da3f8" stroke="#333" stroke-width="0.45" />
<line x1="634.6" y1="119.69" x2="634.6" y2="116.81" stroke="#222" stroke-width="0.5" />
<line x1="632.8" y1="116.81" x2="636.4" y2="116.81" stroke="#222" stroke-width="0.5" />
<line x1="632.8" y1="119.69" x2="636.4" y2="119.69" stroke="#222" stroke-width="0.5" />
<circle cx="633.68" cy="120.14" r="1.55" fill="#111" stroke="none" stroke-width="0.5" />
<circle cx="632.78" cy="118.84" r="1.55" fill="#111" stroke="none" stroke-width="0.5" />
<circle cx="635.38" cy="117.54" r="1.55" fill="#111" stroke="none" stroke-width="0.5" />
<circle cx="632.38" cy="115.58" r="1.55" fill="#111" stroke="none" stroke-width="0.5" />
<circle cx="634.79" cy="113.62" r="1.55" fill="#111" stroke="none" stroke-width="0.5" />
<circle cx="633.9" cy="121.45" r="1.55" fill="#111" stroke="none" stroke-width="0.5" />
<circle cx="632.3" cy="122.75" r="1.55" fill="#111" stroke="none" stroke-width="0.5" />
<circle cx="634.64" cy="119.17" r="1.55" fill="#111" stroke="none" stroke-width="0.5" />
<circle cx="632.19" cy="116.88" r="1.55" fill="#111" stroke="none" stroke-width="0.5" />
<circle cx="634.25" cy="106.45" r="1.55" fill="#111" stroke="none" stroke-width="0.5" />
<circle cx="632.36" cy="120.8" r="1.55" fill="#111" stroke="none" stroke-width="0.5" />
<circle cx="632.47" cy="118.19" r="1.55" fill="#111" stroke="none" stroke-width="0.5" />
<line x1="634.6" y1="138.4" x2="634.6" y2="141" stroke="#222" stroke-width="0.6" />
<rect x="641.4" y="83.31" width="7.8" height="55.09" fill="#f0922b" stroke="#333" stroke-width="0.45" />
<line x1="645.3" y1="85.93" x2="645.3" y2="80.68" stroke="#222" stroke-width="0.5" />
<line x1="643.5" y1="80.68" x2="647.1" y2="80.68" stroke="#222" stroke-width="0.5" />
<line x1="643.5" y1="85.93" x2="647.1" y2="85.93" stroke="#222" stroke-width="0.5" />
<circle cx="644.91" cy="72.22" r="1.55" fill="#111" stroke="none" stroke-width="0.5" />
<circle cx="647" cy="72.55" r="1.55" fill="#111" stroke="none" stroke-width="0.5" />
<circle cx="643.34" cy="79.07" r="1.55" fill="#111" stroke="none" stroke-width="0.5" />
<circle cx="643.86" cy="81.35" r="1.55" fill="#111" stroke="none" stroke-width="0.5" />
<circle cx="645.96" cy="82.98" r="1.55" fill="#111" stroke="none" stroke-width="0.5" />
<circle cx="647.63" cy="83.63" r="1.55" fill="#111" stroke="none" stroke-width="0.5" />
<circle cx="645.7" cy="84.94" r="1.55" fill="#111" stroke="none" stroke-width="0.5" />
<circle cx="644.76" cy="87.54" r="1.55" fill="#111" stroke="none" stroke-width="0.5" />
<circle cx="647.78" cy="89.5" r="1.55" fill="#111" stroke="none" stroke-width="0.5" />
<circle cx="642.94" cy="95.37" r="1.55" fill="#111" stroke="none" stroke-width="0.5" />
<circle cx="647.16" cy="98.63" r="1.55" fill="#111" stroke="none" stroke-width="0.5" />
<circle cx="644.21" cy="83.31" r="1.55" fill="#111" stroke="none" stroke-width="0.5" />
<line x1="645.3" y1="138.4" x2="645.3" y2="141" stroke="#222" stroke-width="0.6" />
<rect x="657.2" y="134" width="7.8" height="4.4" fill="#4da3f8" stroke="#333" stroke-width="0.45" />
<line x1="661.1" y1="134.37" x2="661.1" y2="133.62" stroke="#222" stroke-width="0.5" />
<line x1="659.3" y1="133.62" x2="662.9" y2="133.62" stroke="#222" stroke-width="0.5" />
<line x1="659.3" y1="134.37" x2="662.9" y2="134.37" stroke="#222" stroke-width="0.5" />
<circle cx="659.25" cy="135.47" r="1.55" fill="#111" stroke="none" stroke-width="0.5" />
<circle cx="659.11" cy="134.81" r="1.55" fill="#111" stroke="none" stroke-width="0.5" />
<circle cx="660.1" cy="134.16" r="1.55" fill="#111" stroke="none" stroke-width="0.5" />
<circle cx="662.74" cy="133.51" r="1.55" fill="#111" stroke="none" stroke-width="0.5" />
<circle cx="659.44" cy="132.86" r="1.55" fill="#111" stroke="none" stroke-width="0.5" />
<circle cx="661.52" cy="132.21" r="1.55" fill="#111" stroke="none" stroke-width="0.5" />
<circle cx="661.82" cy="134.49" r="1.55" fill="#111" stroke="none" stroke-width="0.5" />
<circle cx="660.44" cy="133.84" r="1.55" fill="#111" stroke="none" stroke-width="0.5" />
<circle cx="661.35" cy="135.14" r="1.55" fill="#111" stroke="none" stroke-width="0.5" />
<circle cx="658.83" cy="133.18" r="1.55" fill="#111" stroke="none" stroke-width="0.5" />
<circle cx="658.81" cy="131.88" r="1.55" fill="#111" stroke="none" stroke-width="0.5" />
<circle cx="659.57" cy="134.33" r="1.55" fill="#111" stroke="none" stroke-width="0.5" />
<line x1="661.1" y1="138.4" x2="661.1" y2="141" stroke="#222" stroke-width="0.6" />
<rect x="667.7" y="99.61" width="7.8" height="38.79" fill="#f0922b" stroke="#333" stroke-width="0.45" />
<line x1="671.6" y1="101.71" x2="671.6" y2="97.5" stroke="#222" stroke-width="0.5" />
<line x1="669.8" y1="97.5" x2="673.4" y2="97.5" stroke="#222" stroke-width="0.5" />
<line x1="669.8" y1="101.71" x2="673.4" y2="101.71" stroke="#222" stroke-width="0.5" />
<circle cx="672.54" cy="82" r="1.55" fill="#111" stroke="none" stroke-width="0.5" />
<circle cx="671.22" cy="94.39" r="1.55" fill="#111" stroke="none" stroke-width="0.5" />
<circle cx="670.63" cy="95.37" r="1.55" fill="#111" stroke="none" stroke-width="0.5" />
<circle cx="672.04" cy="97.32" r="1.55" fill="#111" stroke="none" stroke-width="0.5" />
<circle cx="671.36" cy="99.28" r="1.55" fill="#111" stroke="none" stroke-width="0.5" />
<circle cx="670.56" cy="100.91" r="1.55" fill="#111" stroke="none" stroke-width="0.5" />
<circle cx="673.13" cy="101.89" r="1.55" fill="#111" stroke="none" stroke-width="0.5" />
<circle cx="672.63" cy="103.19" r="1.55" fill="#111" stroke="none" stroke-width="0.5" />
<circle cx="670.27" cy="104.5" r="1.55" fill="#111" stroke="none" stroke-width="0.5" />
<circle cx="671.99" cy="106.45" r="1.55" fill="#111" stroke="none" stroke-width="0.5" />
<circle cx="671.73" cy="98.3" r="1.55" fill="#111" stroke="none" stroke-width="0.5" />
<circle cx="673.55" cy="100.26" r="1.55" fill="#111" stroke="none" stroke-width="0.5" />
<line x1="671.6" y1="138.4" x2="671.6" y2="141" stroke="#222" stroke-width="0.6" />
<path d="M634.7 103 V64.6 H645.8 V67.9" fill="none" stroke="#333" stroke-width="0.5" />
<text font-size="8" text-anchor="middle" font-weight="bold" x="640.2" y="65.8" >****</text>
<path d="M661.1 131 V73.8 H671.7 V78.8" fill="none" stroke="#333" stroke-width="0.5" />
<text font-size="8" text-anchor="middle" font-weight="bold" x="666.4" y="75" >****</text>
<text font-size="8.6" text-anchor="end" stroke="#000" stroke-width="0.15" transform="translate(645.4 144.2) rotate(-45)" >FOXO4</text>
<text font-size="8.6" text-anchor="end" stroke="#000" stroke-width="0.15" transform="translate(671.2 144.2) rotate(-45)" >pFOXO4</text>
<text font-size="12.6" text-anchor="middle" font-style="italic" stroke="#000" stroke-width="0.21" x="185" y="237.2" >FOXO4 shRNA</text>
<line x1="120.2" y1="240.8" x2="235.6" y2="240.8" stroke="#222" stroke-width="0.7" />
<text font-size="9.6" text-anchor="middle" stroke="#000" stroke-width="0.16" x="130.3" y="266.1" >% CD8 T cells</text>
<line x1="81.6" y1="285.4" x2="191.2" y2="285.4" stroke="#8a8a8a" stroke-width="0.7" />
<line x1="81.6" y1="285.4" x2="81.6" y2="341.2" stroke="#8a8a8a" stroke-width="0.7" />
<line x1="81.6" y1="282.6" x2="81.6" y2="285.4" stroke="#8a8a8a" stroke-width="0.7" />
<text font-size="9.7" text-anchor="end" stroke="#000" stroke-width="0.16" transform="translate(78.1 281.7) rotate(90)" >0</text>
<line x1="108.4" y1="282.6" x2="108.4" y2="285.4" stroke="#8a8a8a" stroke-width="0.7" />
<text font-size="9.7" text-anchor="end" stroke="#000" stroke-width="0.16" transform="translate(104.9 281.7) rotate(90)" >30</text>
<line x1="135.2" y1="282.6" x2="135.2" y2="285.4" stroke="#8a8a8a" stroke-width="0.7" />
<text font-size="9.7" text-anchor="end" stroke="#000" stroke-width="0.16" transform="translate(131.7 281.7) rotate(90)" >60</text>
<line x1="162" y1="282.6" x2="162" y2="285.4" stroke="#8a8a8a" stroke-width="0.7" />
<text font-size="9.7" text-anchor="end" stroke="#000" stroke-width="0.16" transform="translate(158.5 281.7) rotate(90)" >90</text>
<line x1="188.8" y1="282.6" x2="188.8" y2="285.4" stroke="#8a8a8a" stroke-width="0.7" />
<text font-size="9.7" text-anchor="end" stroke="#000" stroke-width="0.16" transform="translate(185.3 281.7) rotate(90)" >120</text>
<rect x="81.6" y="288.7" width="28.59" height="10.2" fill="#4da3f8" stroke="#777" stroke-width="0.45" />
<rect x="110.19" y="288.7" width="47.7" height="10.2" fill="#f561b9" stroke="#777" stroke-width="0.45" />
<rect x="157.89" y="288.7" width="4.11" height="10.2" fill="#86d5c3" stroke="#777" stroke-width="0.45" />
<rect x="162" y="288.7" width="8.93" height="10.2" fill="#3b4db8" stroke="#777" stroke-width="0.45" />
<line x1="109.39" y1="293.7" x2="112.99" y2="293.7" stroke="#333" stroke-width="0.45" />
<line x1="109.39" y1="292" x2="109.39" y2="295.4" stroke="#333" stroke-width="0.45" />
<line x1="112.99" y1="292" x2="112.99" y2="295.4" stroke="#333" stroke-width="0.45" />
<line x1="157.09" y1="293.7" x2="160.69" y2="293.7" stroke="#333" stroke-width="0.45" />
<line x1="157.09" y1="292" x2="157.09" y2="295.4" stroke="#333" stroke-width="0.45" />
<line x1="160.69" y1="292" x2="160.69" y2="295.4" stroke="#333" stroke-width="0.45" />
<line x1="161.9" y1="293.7" x2="164.1" y2="293.7" stroke="#333" stroke-width="0.45" />
<line x1="161.9" y1="292" x2="161.9" y2="295.4" stroke="#333" stroke-width="0.45" />
<line x1="164.1" y1="292" x2="164.1" y2="295.4" stroke="#333" stroke-width="0.45" />
<line x1="170.83" y1="293.7" x2="173.03" y2="293.7" stroke="#333" stroke-width="0.45" />
<line x1="170.83" y1="292" x2="170.83" y2="295.4" stroke="#333" stroke-width="0.45" />
<line x1="173.03" y1="292" x2="173.03" y2="295.4" stroke="#333" stroke-width="0.45" />
<line x1="78.6" y1="293.5" x2="81.6" y2="293.5" stroke="#8a8a8a" stroke-width="0.7" />
<text font-size="10.1" text-anchor="end" stroke="#000" stroke-width="0.17" transform="translate(74.6 295.9) rotate(45)" >NTP<tspan font-size="7.27" dy="-3.03">PROTAC+Scram</tspan><tspan dy="3.03">&#8203;</tspan></text>
<rect x="81.6" y="302.3" width="15.9" height="10.2" fill="#4da3f8" stroke="#777" stroke-width="0.45" />
<rect x="97.5" y="302.3" width="60.74" height="10.2" fill="#f561b9" stroke="#777" stroke-width="0.45" />
<rect x="158.25" y="302.3" width="2.41" height="10.2" fill="#86d5c3" stroke="#777" stroke-width="0.45" />
<rect x="160.66" y="302.3" width="10.27" height="10.2" fill="#3b4db8" stroke="#777" stroke-width="0.45" />
<line x1="96.7" y1="307.3" x2="100.3" y2="307.3" stroke="#333" stroke-width="0.45" />
<line x1="96.7" y1="305.6" x2="96.7" y2="309" stroke="#333" stroke-width="0.45" />
<line x1="100.3" y1="305.6" x2="100.3" y2="309" stroke="#333" stroke-width="0.45" />
<line x1="157.45" y1="307.3" x2="161.05" y2="307.3" stroke="#333" stroke-width="0.45" />
<line x1="157.45" y1="305.6" x2="157.45" y2="309" stroke="#333" stroke-width="0.45" />
<line x1="161.05" y1="305.6" x2="161.05" y2="309" stroke="#333" stroke-width="0.45" />
<line x1="159.86" y1="307.3" x2="163.46" y2="307.3" stroke="#333" stroke-width="0.45" />
<line x1="159.86" y1="305.6" x2="159.86" y2="309" stroke="#333" stroke-width="0.45" />
<line x1="163.46" y1="305.6" x2="163.46" y2="309" stroke="#333" stroke-width="0.45" />
<line x1="170.83" y1="307.3" x2="173.03" y2="307.3" stroke="#333" stroke-width="0.45" />
<line x1="170.83" y1="305.6" x2="170.83" y2="309" stroke="#333" stroke-width="0.45" />
<line x1="173.03" y1="305.6" x2="173.03" y2="309" stroke="#333" stroke-width="0.45" />
<line x1="78.6" y1="307" x2="81.6" y2="307" stroke="#8a8a8a" stroke-width="0.7" />
<text font-size="10.1" text-anchor="end" stroke="#000" stroke-width="0.17" transform="translate(74.6 309.4) rotate(45)" >NTP<tspan font-size="7.27" dy="-3.03">PROTAC+shFOXO4</tspan><tspan dy="3.03">&#8203;</tspan></text>
<rect x="81.6" y="316" width="49.31" height="10.2" fill="#4da3f8" stroke="#777" stroke-width="0.45" />
<rect x="130.91" y="316" width="24.83" height="10.2" fill="#f561b9" stroke="#777" stroke-width="0.45" />
<rect x="155.74" y="316" width="11.43" height="10.2" fill="#86d5c3" stroke="#777" stroke-width="0.45" />
<rect x="167.18" y="316" width="3.75" height="10.2" fill="#3b4db8" stroke="#777" stroke-width="0.45" />
<line x1="130.11" y1="321" x2="133.71" y2="321" stroke="#333" stroke-width="0.45" />
<line x1="130.11" y1="319.3" x2="130.11" y2="322.7" stroke="#333" stroke-width="0.45" />
<line x1="133.71" y1="319.3" x2="133.71" y2="322.7" stroke="#333" stroke-width="0.45" />
<line x1="154.94" y1="321" x2="158.54" y2="321" stroke="#333" stroke-width="0.45" />
<line x1="154.94" y1="319.3" x2="154.94" y2="322.7" stroke="#333" stroke-width="0.45" />
<line x1="158.54" y1="319.3" x2="158.54" y2="322.7" stroke="#333" stroke-width="0.45" />
<line x1="167.08" y1="321" x2="169.28" y2="321" stroke="#333" stroke-width="0.45" />
<line x1="167.08" y1="319.3" x2="167.08" y2="322.7" stroke="#333" stroke-width="0.45" />
<line x1="169.28" y1="319.3" x2="169.28" y2="322.7" stroke="#333" stroke-width="0.45" />
<line x1="170.83" y1="321" x2="173.03" y2="321" stroke="#333" stroke-width="0.45" />
<line x1="170.83" y1="319.3" x2="170.83" y2="322.7" stroke="#333" stroke-width="0.45" />
<line x1="173.03" y1="319.3" x2="173.03" y2="322.7" stroke="#333" stroke-width="0.45" />
<line x1="78.6" y1="320.5" x2="81.6" y2="320.5" stroke="#8a8a8a" stroke-width="0.7" />
<text font-size="10.1" text-anchor="end" stroke="#000" stroke-width="0.17" transform="translate(74.6 322.9) rotate(45)" >AKT3<tspan font-size="7.27" dy="-3.03">PROTAC+Scram</tspan><tspan dy="3.03">&#8203;</tspan></text>
<rect x="81.6" y="329.6" width="26" height="10.2" fill="#4da3f8" stroke="#777" stroke-width="0.45" />
<rect x="107.6" y="329.6" width="46.54" height="10.2" fill="#f561b9" stroke="#777" stroke-width="0.45" />
<rect x="154.14" y="329.6" width="6.16" height="10.2" fill="#86d5c3" stroke="#777" stroke-width="0.45" />
<rect x="160.3" y="329.6" width="10.63" height="10.2" fill="#3b4db8" stroke="#777" stroke-width="0.45" />
<line x1="106.8" y1="334.6" x2="110.4" y2="334.6" stroke="#333" stroke-width="0.45" />
<line x1="106.8" y1="332.9" x2="106.8" y2="336.3" stroke="#333" stroke-width="0.45" />
<line x1="110.4" y1="332.9" x2="110.4" y2="336.3" stroke="#333" stroke-width="0.45" />
<line x1="153.34" y1="334.6" x2="156.94" y2="334.6" stroke="#333" stroke-width="0.45" />
<line x1="153.34" y1="332.9" x2="153.34" y2="336.3" stroke="#333" stroke-width="0.45" />
<line x1="156.94" y1="332.9" x2="156.94" y2="336.3" stroke="#333" stroke-width="0.45" />
<line x1="159.5" y1="334.6" x2="163.1" y2="334.6" stroke="#333" stroke-width="0.45" />
<line x1="159.5" y1="332.9" x2="159.5" y2="336.3" stroke="#333" stroke-width="0.45" />
<line x1="163.1" y1="332.9" x2="163.1" y2="336.3" stroke="#333" stroke-width="0.45" />
<line x1="170.83" y1="334.6" x2="173.03" y2="334.6" stroke="#333" stroke-width="0.45" />
<line x1="170.83" y1="332.9" x2="170.83" y2="336.3" stroke="#333" stroke-width="0.45" />
<line x1="173.03" y1="332.9" x2="173.03" y2="336.3" stroke="#333" stroke-width="0.45" />
<line x1="78.6" y1="334.4" x2="81.6" y2="334.4" stroke="#8a8a8a" stroke-width="0.7" />
<text font-size="10.1" text-anchor="end" stroke="#000" stroke-width="0.17" transform="translate(74.6 336.8) rotate(45)" >AKT3<tspan font-size="7.27" dy="-3.03">PROTAC+shFOXO4</tspan><tspan dy="3.03">&#8203;</tspan></text>
<path d="M173.8 293.6 H177.7 V307.5 H173" fill="none" stroke="#333" stroke-width="0.55" />
<text font-size="9.4" text-anchor="middle" font-weight="bold" transform="translate(177.2 300.55) rotate(90)" stroke="none">****</text>
<path d="M173.8 321.1 H177.7 V334.7 H173" fill="none" stroke="#333" stroke-width="0.55" />
<text font-size="9.4" text-anchor="middle" font-weight="bold" transform="translate(177.2 327.9) rotate(90)" stroke="none">****</text>
<rect x="97" y="342.9" width="4.8" height="4.8" fill="#3b4db8" stroke="#999" stroke-width="0.3" />
<text font-size="9.9" stroke="#000" stroke-width="0.17" transform="translate(93.6 351.1) rotate(90) scale(1 1.2)" >CD8 T<tspan font-size="6.53" dy="1.78">cm</tspan><tspan dy="-1.78">&#8203;</tspan> PD1<tspan font-size="6.53" dy="-3.56">high</tspan><tspan dy="3.56">&#8203;</tspan></text>
<rect x="115" y="342.9" width="4.8" height="4.8" fill="#86d5c3" stroke="#999" stroke-width="0.3" />
<text font-size="9.9" stroke="#000" stroke-width="0.17" transform="translate(111.9 351.1) rotate(90) scale(1 1.2)" >CD8 T<tspan font-size="6.53" dy="1.78">cm</tspan><tspan dy="-1.78">&#8203;</tspan> PD1<tspan font-size="6.53" dy="-3.56">low</tspan><tspan dy="3.56">&#8203;</tspan></text>
<rect x="134.6" y="342.9" width="4.8" height="4.8" fill="#f561b9" stroke="#999" stroke-width="0.3" />
<text font-size="9.9" stroke="#000" stroke-width="0.17" transform="translate(131.8 351.1) rotate(90) scale(1 1.2)" >CD8 T<tspan font-size="6.53" dy="1.78">em</tspan><tspan dy="-1.78">&#8203;</tspan> PD1<tspan font-size="6.53" dy="-3.56">high</tspan><tspan dy="3.56">&#8203;</tspan></text>
<rect x="152.8" y="342.9" width="4.8" height="4.8" fill="#4da3f8" stroke="#999" stroke-width="0.3" />
<text font-size="9.9" stroke="#000" stroke-width="0.17" transform="translate(149.9 351.1) rotate(90) scale(1 1.2)" >CD8 T<tspan font-size="6.53" dy="1.78">em</tspan><tspan dy="-1.78">&#8203;</tspan> PD1<tspan font-size="6.53" dy="-3.56">low</tspan><tspan dy="3.56">&#8203;</tspan></text>
<path d="M244.6 282.9 L244.6 261.5 A21.4 21.4 0 0 1 263.61 292.74 Z" fill="#4da3f8" stroke="#333" stroke-width="0.35" stroke-linejoin="round"/>
<path d="M242.4 287.3 L262.83 297.87 A23 23 0 1 1 223.79 273.78 Z" fill="#f561b9" stroke="#333" stroke-width="0.35" stroke-linejoin="round"/>
<path d="M242.6 281.1 L226.91 269.7 A19.4 19.4 0 0 1 230.9 265.62 Z" fill="#4fa898" stroke="#333" stroke-width="0.35" stroke-linejoin="round"/>
<path d="M243.5 277.8 L231.2 261.52 A20.4 20.4 0 0 1 243.5 257.4 Z" fill="#1a1aa6" stroke="#333" stroke-width="0.35" stroke-linejoin="round"/>
<path d="M309.3 283.7 L309.3 262.3 A21.4 21.4 0 0 1 328.78 274.83 Z" fill="#4da3f8" stroke="#333" stroke-width="0.35" stroke-linejoin="round"/>
<path d="M309.3 288.4 L329.96 278.99 A22.7 22.7 0 1 1 290.61 275.52 Z" fill="#f561b9" stroke="#333" stroke-width="0.35" stroke-linejoin="round"/>
<path d="M307.1 282.9 L290.22 271.27 A20.5 20.5 0 0 1 293.54 267.52 Z" fill="#4fa898" stroke="#333" stroke-width="0.35" stroke-linejoin="round"/>
<path d="M307.7 279.6 L293.28 263.25 A21.8 21.8 0 0 1 307.7 257.8 Z" fill="#1a1aa6" stroke="#333" stroke-width="0.35" stroke-linejoin="round"/>
<path d="M246.6 357.7 L246.6 335.2 A22.5 22.5 0 1 1 240.05 379.23 Z" fill="#4da3f8" stroke="#333" stroke-width="0.35" stroke-linejoin="round"/>
<path d="M242.3 358.7 L235.81 380.03 A22.3 22.3 0 0 1 222.83 347.83 Z" fill="#f561b9" stroke="#333" stroke-width="0.35" stroke-linejoin="round"/>
<path d="M245 355.7 L227.01 345.66 A20.6 20.6 0 0 1 240.76 335.54 Z" fill="#4fa898" stroke="#333" stroke-width="0.35" stroke-linejoin="round"/>
<path d="M246.2 352.1 L241.88 331.55 A21 21 0 0 1 246.2 331.1 Z" fill="#1a1aa6" stroke="#333" stroke-width="0.35" stroke-linejoin="round"/>
<path d="M311.4 353.5 L311.4 332 A21.5 21.5 0 0 1 331.93 359.89 Z" fill="#4da3f8" stroke="#333" stroke-width="0.35" stroke-linejoin="round"/>
<path d="M309.3 359 L330.88 365.71 A22.6 22.6 0 1 1 288.34 350.55 Z" fill="#f561b9" stroke="#333" stroke-width="0.35" stroke-linejoin="round"/>
<path d="M309.3 352.6 L290.57 345.05 A20.2 20.2 0 0 1 296.23 337.2 Z" fill="#4fa898" stroke="#333" stroke-width="0.35" stroke-linejoin="round"/>
<path d="M310 349.5 L295.76 332.73 A22 22 0 0 1 310 327.5 Z" fill="#1a1aa6" stroke="#333" stroke-width="0.35" stroke-linejoin="round"/>
<text font-size="8.9" stroke="#000" stroke-width="0.15" transform="translate(210.6 312.3) rotate(-90) scale(1 1.19)" >NTP</text>
<text font-size="6.6" stroke="#000" stroke-width="0.11" transform="translate(208.2 293.9) rotate(-90) scale(1 1.12)" >PROTAC+</text>
<text font-size="5.6" stroke="#000" stroke-width="0.1" transform="translate(216.8 293.9) rotate(-90) scale(1 1.15)" >Scram</text>
<text font-size="8.9" stroke="#000" stroke-width="0.15" transform="translate(279.1 308.2) rotate(-90) scale(1 1.19)" >NTP</text>
<text font-size="6.6" stroke="#000" stroke-width="0.11" transform="translate(275.6 289.9) rotate(-90) scale(1 1.12)" >PROTAC+</text>
<text font-size="4.5" stroke="#000" stroke-width="0.08" transform="translate(284.8 298) rotate(-90) scale(1 1.15)" >shFOXO4</text>
<text font-size="9.4" stroke="#000" stroke-width="0.16" transform="translate(211.2 391.4) rotate(-90) scale(1 1.19)" >AKT3</text>
<text font-size="6.7" stroke="#000" stroke-width="0.11" transform="translate(208.2 366.9) rotate(-90) scale(1 1.12)" >PROTAC+</text>
<text font-size="5.6" stroke="#000" stroke-width="0.1" transform="translate(216.8 368.9) rotate(-90) scale(1 1.15)" >Scram</text>
<text font-size="9.4" stroke="#000" stroke-width="0.16" transform="translate(279.7 388.4) rotate(-90) scale(1 1.19)" >AKT3</text>
<text font-size="6.7" stroke="#000" stroke-width="0.11" transform="translate(276 363.8) rotate(-90) scale(1 1.12)" >PROTAC+</text>
<text font-size="6.2" stroke="#000" stroke-width="0.11" transform="translate(285.4 374) rotate(-90) scale(1 1.15)" >shFOXO4</text>
<line x1="367.2" y1="271.1" x2="367.2" y2="352.2" stroke="#8a8a8a" stroke-width="0.7" />
<line x1="366.9" y1="352.2" x2="471.9" y2="352.2" stroke="#8a8a8a" stroke-width="0.7" />
<line x1="364.4" y1="352.2" x2="367.2" y2="352.2" stroke="#8a8a8a" stroke-width="0.7" />
<text font-size="9.3" text-anchor="end" stroke="#000" stroke-width="0.16" x="363.8" y="355.5" >0</text>
<line x1="364.4" y1="336.04" x2="367.2" y2="336.04" stroke="#8a8a8a" stroke-width="0.7" />
<text font-size="9.3" text-anchor="end" stroke="#000" stroke-width="0.16" x="363.8" y="339.34" >10</text>
<line x1="364.4" y1="319.88" x2="367.2" y2="319.88" stroke="#8a8a8a" stroke-width="0.7" />
<text font-size="9.3" text-anchor="end" stroke="#000" stroke-width="0.16" x="363.8" y="323.18" >20</text>
<line x1="364.4" y1="303.72" x2="367.2" y2="303.72" stroke="#8a8a8a" stroke-width="0.7" />
<text font-size="9.3" text-anchor="end" stroke="#000" stroke-width="0.16" x="363.8" y="307.02" >30</text>
<line x1="364.4" y1="287.56" x2="367.2" y2="287.56" stroke="#8a8a8a" stroke-width="0.7" />
<text font-size="9.3" text-anchor="end" stroke="#000" stroke-width="0.16" x="363.8" y="290.86" >40</text>
<line x1="364.4" y1="271.4" x2="367.2" y2="271.4" stroke="#8a8a8a" stroke-width="0.7" />
<text font-size="9.3" text-anchor="end" stroke="#000" stroke-width="0.16" x="363.8" y="274.7" >50</text>
<line x1="378.1" y1="352.2" x2="378.1" y2="355" stroke="#8a8a8a" stroke-width="0.7" />
<text font-size="9.3" text-anchor="middle" stroke="#000" stroke-width="0.16" x="378.1" y="364" >0</text>
<line x1="398.9" y1="352.2" x2="398.9" y2="355" stroke="#8a8a8a" stroke-width="0.7" />
<text font-size="9.3" text-anchor="middle" stroke="#000" stroke-width="0.16" x="398.9" y="364" >9</text>
<line x1="420" y1="352.2" x2="420" y2="355" stroke="#8a8a8a" stroke-width="0.7" />
<text font-size="9.3" text-anchor="middle" stroke="#000" stroke-width="0.16" x="420" y="364" >11</text>
<line x1="441" y1="352.2" x2="441" y2="355" stroke="#8a8a8a" stroke-width="0.7" />
<text font-size="9.3" text-anchor="middle" stroke="#000" stroke-width="0.16" x="441" y="364" >13</text>
<line x1="462" y1="352.2" x2="462" y2="355" stroke="#8a8a8a" stroke-width="0.7" />
<text font-size="9.3" text-anchor="middle" stroke="#000" stroke-width="0.16" x="462" y="364" >15</text>
<text font-size="8.8" text-anchor="middle" stroke="#000" stroke-width="0.15" x="420" y="376.1" >Days</text>
<text font-size="9.2" stroke="#000" stroke-width="0.16" transform="translate(350.4 349.8) rotate(-90)" >CAR T cells (5x10<tspan font-size="5.52" dy="-3.31">4</tspan><tspan dy="3.31">&#8203;</tspan>)</text>
<path d="M378.1 350.58 L398.9 306.95 L420 298.06 L441 311.8 L462 329.09 L462 333.29 L441 324.73 L420 316.65 L398.9 332.81 L378.1 350.58 Z" fill="#b8ebf5" stroke="none" stroke-width="0.6" fill-opacity="0.75"/>
<path d="M378.1 350.58 L398.9 313.42 L420 298.06 L441 304.04 L462 319.23 L462 321.17 L441 310.99 L420 307.76 L398.9 321.5 L378.1 350.58 Z" fill="#7fa3c8" stroke="none" stroke-width="0.6" fill-opacity="0.6"/>
<path d="M378.1 350.58 L398.9 322.3 L420 308.57 L441 322.63 L462 337.33 L462 340.56 L441 328.12 L420 314.55 L398.9 327.96 L378.1 350.58 Z" fill="#f5b868" stroke="none" stroke-width="0.6" fill-opacity="0.8"/>
<path d="M378.1 350.58 L398.9 296.45 L420 282.71 L441 289.34 L462 294.99 L462 308.08 L441 299.68 L420 289.18 L398.9 306.14 L378.1 350.58 Z" fill="#a9b2ee" stroke="none" stroke-width="0.6" fill-opacity="0.65"/>
<path d="M378.1 350.58 L398.9 319.07 L420 308.57 L441 319.88 L462 331.19" fill="none" stroke="#8fe1f3" stroke-width="1.0" stroke-linejoin="round"/>
<path d="M378.1 350.58 L398.9 317.46 L420 303.24 L441 307.6 L462 320.2" fill="none" stroke="#1f4b80" stroke-width="1.0" stroke-linejoin="round"/>
<path d="M378.1 350.58 L398.9 325.37 L420 311.8 L441 325.37 L462 338.95" fill="none" stroke="#f0962e" stroke-width="1.1" stroke-linejoin="round"/>
<path d="M378.1 350.58 L398.9 301.62 L420 286.59 L441 294.67 L462 301.62" fill="none" stroke="#2f3ff0" stroke-width="1.1" stroke-linejoin="round"/>
<circle cx="378.1" cy="350.58" r="1.7" fill="#000" stroke="none" stroke-width="0.5" />
<circle cx="398.9" cy="317.46" r="1.7" fill="#000" stroke="none" stroke-width="0.5" />
<circle cx="420" cy="303.24" r="1.7" fill="#000" stroke="none" stroke-width="0.5" />
<circle cx="441" cy="307.6" r="1.7" fill="#000" stroke="none" stroke-width="0.5" />
<circle cx="462" cy="320.2" r="1.7" fill="#000" stroke="none" stroke-width="0.5" />
<rect x="376.5" y="348.98" width="3.2" height="3.2" fill="#000" stroke="none" stroke-width="0.5" />
<rect x="397.3" y="323.77" width="3.2" height="3.2" fill="#000" stroke="none" stroke-width="0.5" />
<rect x="418.4" y="310.2" width="3.2" height="3.2" fill="#000" stroke="none" stroke-width="0.5" />
<rect x="439.4" y="323.77" width="3.2" height="3.2" fill="#000" stroke="none" stroke-width="0.5" />
<rect x="460.4" y="337.35" width="3.2" height="3.2" fill="#000" stroke="none" stroke-width="0.5" />
<path d="M397.4 302.82 H400.4 L398.9 300.12 Z" fill="#2f3ff0" stroke="none" stroke-width="0.6" />
<path d="M418.5 287.79 H421.5 L420 285.09 Z" fill="#2f3ff0" stroke="none" stroke-width="0.6" />
<path d="M439.5 295.87 H442.5 L441 293.17 Z" fill="#2f3ff0" stroke="none" stroke-width="0.6" />
<path d="M460.5 302.82 H463.5 L462 300.12 Z" fill="#2f3ff0" stroke="none" stroke-width="0.6" />
<path d="M397.4 317.87 H400.4 L398.9 320.57 Z" fill="#8fe1f3" stroke="none" stroke-width="0.6" />
<path d="M418.5 307.37 H421.5 L420 310.07 Z" fill="#8fe1f3" stroke="none" stroke-width="0.6" />
<path d="M439.5 318.68 H442.5 L441 321.38 Z" fill="#8fe1f3" stroke="none" stroke-width="0.6" />
<path d="M460.5 329.99 H463.5 L462 332.69 Z" fill="#8fe1f3" stroke="none" stroke-width="0.6" />
<line x1="371.1" y1="239.2" x2="379.9" y2="239.2" stroke="#1f4b80" stroke-width="1.0" />
<circle cx="375.5" cy="239.2" r="1.7" fill="#000" stroke="none" stroke-width="0.5" />
<text font-size="9" stroke="#000" stroke-width="0.15" x="383.6" y="243.6" >NTP<tspan font-size="6.79" dy="-3.24">PROTAC+Scram</tspan><tspan dy="3.24">&#8203;</tspan></text>
<line x1="371.1" y1="249" x2="379.9" y2="249" stroke="#f0962e" stroke-width="1.0" />
<rect x="373.9" y="247.4" width="3.2" height="3.2" fill="#000" stroke="none" stroke-width="0.5" />
<text font-size="9" stroke="#000" stroke-width="0.15" x="383.6" y="254.6" >NTP<tspan font-size="6.79" dy="-3.24">PROTAC+shFOXO4</tspan><tspan dy="3.24">&#8203;</tspan></text>
<line x1="371.1" y1="261.4" x2="379.9" y2="261.4" stroke="#2f3ff0" stroke-width="1.0" />
<path d="M374 262.6 H377 L375.5 259.9 Z" fill="#2f3ff0" stroke="none" stroke-width="0.6" />
<text font-size="9" stroke="#000" stroke-width="0.15" x="383.6" y="266.6" >AKT3<tspan font-size="6.79" dy="-3.24">PROTAC+Scram</tspan><tspan dy="3.24">&#8203;</tspan></text>
<line x1="371.1" y1="271.6" x2="379.9" y2="271.6" stroke="#8fe1f3" stroke-width="1.0" />
<path d="M374 270.4 H377 L375.5 273.1 Z" fill="#8fe1f3" stroke="none" stroke-width="0.6" />
<text font-size="9" stroke="#000" stroke-width="0.15" x="383.6" y="277.6" >AKT3<tspan font-size="6.79" dy="-3.24">PROTAC+shFOXO4</tspan><tspan dy="3.24">&#8203;</tspan></text>
<path d="M464.3 300.4 H467.7 V332.1 H464.3" fill="none" stroke="#333" stroke-width="0.5" />
<text font-size="8.5" text-anchor="middle" font-weight="bold" transform="translate(466.4 311.3) rotate(90)" >****</text>
<path d="M463.6 320.2 H470.2 V338.6 H463.9" fill="none" stroke="#333" stroke-width="0.5" />
<text font-size="8.5" text-anchor="middle" font-weight="bold" transform="translate(468.7 330.2) rotate(90)" >****</text>
<line x1="518.2" y1="246.1" x2="518.2" y2="321.4" stroke="#8a8a8a" stroke-width="0.7" />
<line x1="517.9" y1="321.4" x2="587.6" y2="321.4" stroke="#8a8a8a" stroke-width="0.7" />
<line x1="515.4" y1="321.4" x2="518.2" y2="321.4" stroke="#8a8a8a" stroke-width="0.7" />
<text font-size="9" text-anchor="end" stroke="#000" stroke-width="0.15" x="515.6" y="324.6" >0</text>
<line x1="515.4" y1="302.65" x2="518.2" y2="302.65" stroke="#8a8a8a" stroke-width="0.7" />
<text font-size="9" text-anchor="end" stroke="#000" stroke-width="0.15" x="515.6" y="305.85" >30</text>
<line x1="515.4" y1="283.9" x2="518.2" y2="283.9" stroke="#8a8a8a" stroke-width="0.7" />
<text font-size="9" text-anchor="end" stroke="#000" stroke-width="0.15" x="515.6" y="287.1" >60</text>
<line x1="515.4" y1="265.15" x2="518.2" y2="265.15" stroke="#8a8a8a" stroke-width="0.7" />
<text font-size="9" text-anchor="end" stroke="#000" stroke-width="0.15" x="515.6" y="268.35" >90</text>
<line x1="515.4" y1="246.4" x2="518.2" y2="246.4" stroke="#8a8a8a" stroke-width="0.7" />
<text font-size="9" text-anchor="end" stroke="#000" stroke-width="0.15" x="515.6" y="249.6" >120</text>
<text font-size="9.36" stroke="#000" stroke-width="0.16" transform="translate(498.8 321) rotate(-90) scale(1 1.08)" >% mTOR activity</text>
<path d="M529.9 275.9 L529.56 277.57 L528.88 279.25 L528.01 280.92 L527.04 282.6 L526.05 284.27 L525.13 285.95 L524.33 287.62 L523.72 289.3 L523.33 290.97 L523.2 292.65 L523.31 293.52 L523.62 294.4 L524.13 295.27 L524.81 296.15 L525.63 297.02 L526.54 297.9 L527.5 298.77 L528.44 299.65 L529.3 300.52 L529.9 301.4 L529.9 301.4 L530.5 300.52 L531.36 299.65 L532.3 298.77 L533.26 297.9 L534.17 297.02 L534.99 296.15 L535.67 295.27 L536.18 294.4 L536.49 293.52 L536.6 292.65 L536.47 290.97 L536.08 289.3 L535.47 287.62 L534.67 285.95 L533.75 284.27 L532.76 282.6 L531.79 280.92 L530.92 279.25 L530.24 277.57 L529.9 275.9 Z" fill="#2f6db5" stroke="#222" stroke-width="0.35" />
<line x1="525.21" y1="292.65" x2="534.59" y2="292.65" stroke="#222" stroke-width="0.35" stroke-dasharray="1 0.7"/>
<circle cx="529.9" cy="282.65" r="1.35" fill="#000" stroke="none" stroke-width="0.5" />
<circle cx="526.3" cy="287.02" r="1.35" fill="#000" stroke="none" stroke-width="0.5" />
<circle cx="533.5" cy="287.02" r="1.35" fill="#000" stroke="none" stroke-width="0.5" />
<circle cx="526.3" cy="290.77" r="1.35" fill="#000" stroke="none" stroke-width="0.5" />
<circle cx="533.5" cy="290.77" r="1.35" fill="#000" stroke="none" stroke-width="0.5" />
<circle cx="526.3" cy="295.15" r="1.35" fill="#000" stroke="none" stroke-width="0.5" />
<circle cx="533.5" cy="295.15" r="1.35" fill="#000" stroke="none" stroke-width="0.5" />
<circle cx="529.9" cy="292.65" r="1.35" fill="#000" stroke="none" stroke-width="0.5" />
<line x1="529.9" y1="321.4" x2="529.9" y2="324.2" stroke="#8a8a8a" stroke-width="0.7" />
<path d="M545.7 258.9 L545.34 259.46 L544.63 260.02 L543.72 260.59 L542.71 261.15 L541.68 261.71 L540.71 262.27 L539.88 262.84 L539.24 263.4 L538.84 263.96 L538.7 264.52 L538.81 265.84 L539.14 267.15 L539.68 268.46 L540.39 269.77 L541.24 271.09 L542.19 272.4 L543.19 273.71 L544.18 275.02 L545.07 276.34 L545.7 277.65 L545.7 277.65 L546.33 276.34 L547.22 275.02 L548.21 273.71 L549.21 272.4 L550.16 271.09 L551.01 269.77 L551.72 268.46 L552.26 267.15 L552.59 265.84 L552.7 264.52 L552.56 263.96 L552.16 263.4 L551.52 262.84 L550.69 262.27 L549.72 261.71 L548.69 261.15 L547.68 260.59 L546.77 260.02 L546.06 259.46 L545.7 258.9 Z" fill="#f0922b" stroke="#222" stroke-width="0.35" />
<line x1="540.8" y1="264.52" x2="550.6" y2="264.52" stroke="#222" stroke-width="0.35" stroke-dasharray="1 0.7"/>
<circle cx="542.1" cy="262.02" r="1.35" fill="#000" stroke="none" stroke-width="0.5" />
<circle cx="549.3" cy="262.02" r="1.35" fill="#000" stroke="none" stroke-width="0.5" />
<circle cx="542.1" cy="264.52" r="1.35" fill="#000" stroke="none" stroke-width="0.5" />
<circle cx="549.3" cy="264.52" r="1.35" fill="#000" stroke="none" stroke-width="0.5" />
<circle cx="545.7" cy="266.4" r="1.35" fill="#000" stroke="none" stroke-width="0.5" />
<circle cx="545.7" cy="273.27" r="1.35" fill="#000" stroke="none" stroke-width="0.5" />
<line x1="545.7" y1="321.4" x2="545.7" y2="324.2" stroke="#8a8a8a" stroke-width="0.7" />
<path d="M561.1 302.65 L560.72 303.31 L559.97 303.96 L559.01 304.62 L557.94 305.27 L556.85 305.93 L555.83 306.59 L554.95 307.24 L554.27 307.9 L553.85 308.56 L553.7 309.21 L553.82 309.82 L554.17 310.42 L554.73 311.03 L555.48 311.64 L556.38 312.24 L557.39 312.85 L558.45 313.46 L559.49 314.06 L560.44 314.67 L561.1 315.27 L561.1 315.27 L561.76 314.67 L562.71 314.06 L563.75 313.46 L564.81 312.85 L565.82 312.24 L566.72 311.64 L567.47 311.03 L568.03 310.42 L568.38 309.82 L568.5 309.21 L568.35 308.56 L567.93 307.9 L567.25 307.24 L566.37 306.59 L565.35 305.93 L564.26 305.27 L563.19 304.62 L562.23 303.96 L561.48 303.31 L561.1 302.65 Z" fill="#2a2af0" stroke="#222" stroke-width="0.35" />
<line x1="555.92" y1="309.21" x2="566.28" y2="309.21" stroke="#222" stroke-width="0.35" stroke-dasharray="1 0.7"/>
<circle cx="561.1" cy="305.77" r="1.35" fill="#000" stroke="none" stroke-width="0.5" />
<circle cx="557.5" cy="307.65" r="1.35" fill="#000" stroke="none" stroke-width="0.5" />
<circle cx="564.7" cy="307.65" r="1.35" fill="#000" stroke="none" stroke-width="0.5" />
<circle cx="561.1" cy="310.77" r="1.35" fill="#000" stroke="none" stroke-width="0.5" />
<circle cx="557.5" cy="312.65" r="1.35" fill="#000" stroke="none" stroke-width="0.5" />
<circle cx="564.7" cy="312.65" r="1.35" fill="#000" stroke="none" stroke-width="0.5" />
<line x1="561.1" y1="321.4" x2="561.1" y2="324.2" stroke="#8a8a8a" stroke-width="0.7" />
<path d="M576.9 265.15 L576.52 266.04 L575.78 266.92 L574.84 267.81 L573.78 268.7 L572.71 269.59 L571.7 270.47 L570.83 271.36 L570.16 272.25 L569.74 273.14 L569.6 274.02 L569.72 275.14 L570.06 276.25 L570.62 277.36 L571.36 278.47 L572.25 279.59 L573.24 280.7 L574.28 281.81 L575.31 282.92 L576.25 284.04 L576.9 285.15 L576.9 285.15 L577.55 284.04 L578.49 282.92 L579.52 281.81 L580.56 280.7 L581.55 279.59 L582.44 278.47 L583.18 277.36 L583.74 276.25 L584.08 275.14 L584.2 274.02 L584.06 273.14 L583.64 272.25 L582.97 271.36 L582.1 270.47 L581.09 269.59 L580.02 268.7 L578.96 267.81 L578.02 266.92 L577.28 266.04 L576.9 265.15 Z" fill="#8fe1f3" stroke="#222" stroke-width="0.35" />
<line x1="571.79" y1="274.02" x2="582.01" y2="274.02" stroke="#222" stroke-width="0.35" stroke-dasharray="1 0.7"/>
<circle cx="576.9" cy="268.9" r="1.35" fill="#000" stroke="none" stroke-width="0.5" />
<circle cx="573.3" cy="271.4" r="1.35" fill="#000" stroke="none" stroke-width="0.5" />
<circle cx="580.5" cy="271.4" r="1.35" fill="#000" stroke="none" stroke-width="0.5" />
<circle cx="573.3" cy="275.15" r="1.35" fill="#000" stroke="none" stroke-width="0.5" />
<circle cx="580.5" cy="275.15" r="1.35" fill="#000" stroke="none" stroke-width="0.5" />
<circle cx="576.9" cy="279.52" r="1.35" fill="#000" stroke="none" stroke-width="0.5" />
<circle cx="576.9" cy="273.9" r="1.35" fill="#000" stroke="none" stroke-width="0.5" />
<line x1="576.9" y1="321.4" x2="576.9" y2="324.2" stroke="#8a8a8a" stroke-width="0.7" />
<path d="M529.9 273.2 V249.5 H545.7 V257.4" fill="none" stroke="#333" stroke-width="0.55" />
<text font-size="8.8" text-anchor="middle" font-weight="bold" x="537.8" y="251.8" >****</text>
<path d="M561.1 301.2 V255.1 H576.9 V264.4" fill="none" stroke="#333" stroke-width="0.55" />
<text font-size="8.8" text-anchor="middle" font-weight="bold" x="569" y="257.4" >****</text>
<text font-size="9.7" text-anchor="end" stroke="#000" stroke-width="0.16" transform="translate(532.5 330.8) rotate(-46)" >NTP<tspan font-size="7.08" dy="-2.91">PROTAC+Scram</tspan><tspan dy="2.91">&#8203;</tspan></text>
<text font-size="9.7" text-anchor="end" stroke="#000" stroke-width="0.16" transform="translate(548.3 330.8) rotate(-46)" >NTP<tspan font-size="7.08" dy="-2.91">PROTAC+shFOXO4</tspan><tspan dy="2.91">&#8203;</tspan></text>
<text font-size="9.7" text-anchor="end" stroke="#000" stroke-width="0.16" transform="translate(563.7 330.8) rotate(-46)" >AKT3<tspan font-size="7.08" dy="-2.91">PROTAC+Scram</tspan><tspan dy="2.91">&#8203;</tspan></text>
<text font-size="9.7" text-anchor="end" stroke="#000" stroke-width="0.16" transform="translate(579.5 330.8) rotate(-46)" >AKT3<tspan font-size="7.08" dy="-2.91">PROTAC+shFOXO4</tspan><tspan dy="2.91">&#8203;</tspan></text>
<line x1="623.2" y1="255.8" x2="623.2" y2="323.1" stroke="#8a8a8a" stroke-width="0.7" />
<line x1="622.9" y1="323.1" x2="685" y2="323.1" stroke="#8a8a8a" stroke-width="0.7" />
<line x1="620.4" y1="323.1" x2="623.2" y2="323.1" stroke="#8a8a8a" stroke-width="0.7" />
<text font-size="9" text-anchor="end" stroke="#000" stroke-width="0.15" x="619.8" y="326.3" >0</text>
<line x1="620.4" y1="300.77" x2="623.2" y2="300.77" stroke="#8a8a8a" stroke-width="0.7" />
<text font-size="9" text-anchor="end" stroke="#000" stroke-width="0.15" x="619.8" y="303.97" >20</text>
<line x1="620.4" y1="278.44" x2="623.2" y2="278.44" stroke="#8a8a8a" stroke-width="0.7" />
<text font-size="9" text-anchor="end" stroke="#000" stroke-width="0.15" x="619.8" y="281.64" >40</text>
<line x1="620.4" y1="256.11" x2="623.2" y2="256.11" stroke="#8a8a8a" stroke-width="0.7" />
<text font-size="9" text-anchor="end" stroke="#000" stroke-width="0.15" x="619.8" y="259.31" >60</text>
<text font-size="9.08" stroke="#000" stroke-width="0.15" transform="translate(606.4 332.3) rotate(-90) scale(1 1.12)" >% MFI of autophagy</text>
<rect x="626.3" y="299.65" width="9.6" height="23.45" fill="#2c5f9e" stroke="#333" stroke-width="0.45" />
<line x1="631.1" y1="301.33" x2="631.1" y2="297.98" stroke="#222" stroke-width="0.5" />
<line x1="629.1" y1="297.98" x2="633.1" y2="297.98" stroke="#222" stroke-width="0.5" />
<circle cx="632.03" cy="292.95" r="1.5" fill="#000" stroke="none" stroke-width="0.5" />
<circle cx="632.94" cy="295.19" r="1.5" fill="#000" stroke="none" stroke-width="0.5" />
<circle cx="633.34" cy="296.3" r="1.5" fill="#000" stroke="none" stroke-width="0.5" />
<circle cx="634.46" cy="297.42" r="1.5" fill="#000" stroke="none" stroke-width="0.5" />
<circle cx="632.92" cy="298.54" r="1.5" fill="#000" stroke="none" stroke-width="0.5" />
<circle cx="634.31" cy="299.65" r="1.5" fill="#000" stroke="none" stroke-width="0.5" />
<circle cx="627.52" cy="300.77" r="1.5" fill="#000" stroke="none" stroke-width="0.5" />
<circle cx="630.84" cy="301.89" r="1.5" fill="#000" stroke="none" stroke-width="0.5" />
<circle cx="634.47" cy="303" r="1.5" fill="#000" stroke="none" stroke-width="0.5" />
<circle cx="632.23" cy="304.12" r="1.5" fill="#000" stroke="none" stroke-width="0.5" />
<circle cx="634.15" cy="306.35" r="1.5" fill="#000" stroke="none" stroke-width="0.5" />
<circle cx="628.16" cy="298.54" r="1.5" fill="#000" stroke="none" stroke-width="0.5" />
<line x1="631.1" y1="323.1" x2="631.1" y2="325.9" stroke="#8a8a8a" stroke-width="0.7" />
<rect x="641.6" y="311.15" width="9.6" height="11.95" fill="#f0922b" stroke="#333" stroke-width="0.45" />
<line x1="646.4" y1="312.83" x2="646.4" y2="309.48" stroke="#222" stroke-width="0.5" />
<line x1="644.4" y1="309.48" x2="648.4" y2="309.48" stroke="#222" stroke-width="0.5" />
<circle cx="646.16" cy="308.59" r="1.5" fill="#000" stroke="none" stroke-width="0.5" />
<circle cx="644.47" cy="309.7" r="1.5" fill="#000" stroke="none" stroke-width="0.5" />
<circle cx="646.73" cy="309.7" r="1.5" fill="#000" stroke="none" stroke-width="0.5" />
<circle cx="646.96" cy="310.82" r="1.5" fill="#000" stroke="none" stroke-width="0.5" />
<circle cx="642.7" cy="310.82" r="1.5" fill="#000" stroke="none" stroke-width="0.5" />
<circle cx="644.25" cy="311.94" r="1.5" fill="#000" stroke="none" stroke-width="0.5" />
<circle cx="644.72" cy="311.94" r="1.5" fill="#000" stroke="none" stroke-width="0.5" />
<circle cx="649.56" cy="313.05" r="1.5" fill="#000" stroke="none" stroke-width="0.5" />
<circle cx="648.42" cy="314.17" r="1.5" fill="#000" stroke="none" stroke-width="0.5" />
<circle cx="643.81" cy="315.28" r="1.5" fill="#000" stroke="none" stroke-width="0.5" />
<circle cx="648.66" cy="310.82" r="1.5" fill="#000" stroke="none" stroke-width="0.5" />
<circle cx="643.65" cy="311.94" r="1.5" fill="#000" stroke="none" stroke-width="0.5" />
<line x1="646.4" y1="323.1" x2="646.4" y2="325.9" stroke="#8a8a8a" stroke-width="0.7" />
<rect x="656.5" y="276.21" width="9.6" height="46.89" fill="#5060ff" stroke="#333" stroke-width="0.45" />
<line x1="661.3" y1="277.88" x2="661.3" y2="274.53" stroke="#222" stroke-width="0.5" />
<line x1="659.3" y1="274.53" x2="663.3" y2="274.53" stroke="#222" stroke-width="0.5" />
<circle cx="662.19" cy="265.04" r="1.5" fill="#000" stroke="none" stroke-width="0.5" />
<circle cx="658.46" cy="268.39" r="1.5" fill="#000" stroke="none" stroke-width="0.5" />
<circle cx="657.51" cy="269.51" r="1.5" fill="#000" stroke="none" stroke-width="0.5" />
<circle cx="664.12" cy="273.97" r="1.5" fill="#000" stroke="none" stroke-width="0.5" />
<circle cx="659.09" cy="278.44" r="1.5" fill="#000" stroke="none" stroke-width="0.5" />
<circle cx="659.14" cy="280.67" r="1.5" fill="#000" stroke="none" stroke-width="0.5" />
<circle cx="664.97" cy="285.14" r="1.5" fill="#000" stroke="none" stroke-width="0.5" />
<circle cx="664.13" cy="286.26" r="1.5" fill="#000" stroke="none" stroke-width="0.5" />
<circle cx="659.7" cy="284.02" r="1.5" fill="#000" stroke="none" stroke-width="0.5" />
<line x1="661.3" y1="323.1" x2="661.3" y2="325.9" stroke="#8a8a8a" stroke-width="0.7" />
<rect x="671.4" y="307.47" width="9.6" height="15.63" fill="#5ab8f8" stroke="#333" stroke-width="0.45" />
<line x1="676.2" y1="309.14" x2="676.2" y2="305.79" stroke="#222" stroke-width="0.5" />
<line x1="674.2" y1="305.79" x2="678.2" y2="305.79" stroke="#222" stroke-width="0.5" />
<circle cx="679.71" cy="301.89" r="1.5" fill="#000" stroke="none" stroke-width="0.5" />
<circle cx="676.5" cy="304.12" r="1.5" fill="#000" stroke="none" stroke-width="0.5" />
<circle cx="677.55" cy="305.24" r="1.5" fill="#000" stroke="none" stroke-width="0.5" />
<circle cx="673.96" cy="306.35" r="1.5" fill="#000" stroke="none" stroke-width="0.5" />
<circle cx="679.55" cy="306.35" r="1.5" fill="#000" stroke="none" stroke-width="0.5" />
<circle cx="677.65" cy="307.47" r="1.5" fill="#000" stroke="none" stroke-width="0.5" />
<circle cx="679.75" cy="307.47" r="1.5" fill="#000" stroke="none" stroke-width="0.5" />
<circle cx="679.19" cy="308.59" r="1.5" fill="#000" stroke="none" stroke-width="0.5" />
<circle cx="674.67" cy="308.59" r="1.5" fill="#000" stroke="none" stroke-width="0.5" />
<circle cx="675.15" cy="309.7" r="1.5" fill="#000" stroke="none" stroke-width="0.5" />
<circle cx="673.66" cy="309.7" r="1.5" fill="#000" stroke="none" stroke-width="0.5" />
<circle cx="673.51" cy="305.24" r="1.5" fill="#000" stroke="none" stroke-width="0.5" />
<line x1="676.2" y1="323.1" x2="676.2" y2="325.9" stroke="#8a8a8a" stroke-width="0.7" />
<path d="M630.5 290.7 V286.3 H646.8 V307.5" fill="none" stroke="#333" stroke-width="0.55" />
<text font-size="8.8" text-anchor="middle" font-weight="bold" x="638.65" y="288.6" >****</text>
<path d="M661.2 260 V256.1 H677.3 V297.3" fill="none" stroke="#333" stroke-width="0.55" />
<text font-size="8.8" text-anchor="middle" font-weight="bold" x="669.25" y="258.4" >****</text>
<text font-size="9.7" text-anchor="end" stroke="#000" stroke-width="0.16" transform="translate(634.5 332.5) rotate(-46)" >NTP<tspan font-size="7.08" dy="-2.91">PROTAC+Scram</tspan><tspan dy="2.91">&#8203;</tspan></text>
<text font-size="9.7" text-anchor="end" stroke="#000" stroke-width="0.16" transform="translate(649.8 332.5) rotate(-46)" >NTP<tspan font-size="7.08" dy="-2.91">PROTAC+shFOXO4</tspan><tspan dy="2.91">&#8203;</tspan></text>
<text font-size="9.7" text-anchor="end" stroke="#000" stroke-width="0.16" transform="translate(664.7 332.5) rotate(-46)" >AKT3<tspan font-size="7.08" dy="-2.91">PROTAC+Scram</tspan><tspan dy="2.91">&#8203;</tspan></text>
<text font-size="9.7" text-anchor="end" stroke="#000" stroke-width="0.16" transform="translate(679.6 332.5) rotate(-46)" >AKT3<tspan font-size="7.08" dy="-2.91">PROTAC+shFOXO4</tspan><tspan dy="2.91">&#8203;</tspan></text>
<rect x="43.8" y="468.6" width="61.3" height="75" fill="none" stroke="#c4c4c4" stroke-width="0.7" />
<line x1="41" y1="543.6" x2="43.8" y2="543.6" stroke="#c4c4c4" stroke-width="0.7" />
<line x1="105.1" y1="543.6" x2="107.5" y2="543.6" stroke="#c4c4c4" stroke-width="0.7" />
<line x1="41" y1="524.85" x2="43.8" y2="524.85" stroke="#c4c4c4" stroke-width="0.7" />
<line x1="105.1" y1="524.85" x2="107.5" y2="524.85" stroke="#c4c4c4" stroke-width="0.7" />
<line x1="41" y1="506.1" x2="43.8" y2="506.1" stroke="#c4c4c4" stroke-width="0.7" />
<line x1="105.1" y1="506.1" x2="107.5" y2="506.1" stroke="#c4c4c4" stroke-width="0.7" />
<line x1="41" y1="487.35" x2="43.8" y2="487.35" stroke="#c4c4c4" stroke-width="0.7" />
<line x1="105.1" y1="487.35" x2="107.5" y2="487.35" stroke="#c4c4c4" stroke-width="0.7" />
<line x1="41" y1="468.6" x2="43.8" y2="468.6" stroke="#c4c4c4" stroke-width="0.7" />
<line x1="105.1" y1="468.6" x2="107.5" y2="468.6" stroke="#c4c4c4" stroke-width="0.7" />
<line x1="51.7" y1="543.6" x2="51.7" y2="546.4" stroke="#c4c4c4" stroke-width="0.7" />
<line x1="51.7" y1="466.4" x2="51.7" y2="468.6" stroke="#c4c4c4" stroke-width="0.7" />
<line x1="66.6" y1="543.6" x2="66.6" y2="546.4" stroke="#c4c4c4" stroke-width="0.7" />
<line x1="66.6" y1="466.4" x2="66.6" y2="468.6" stroke="#c4c4c4" stroke-width="0.7" />
<line x1="81.5" y1="543.6" x2="81.5" y2="546.4" stroke="#c4c4c4" stroke-width="0.7" />
<line x1="81.5" y1="466.4" x2="81.5" y2="468.6" stroke="#c4c4c4" stroke-width="0.7" />
<line x1="96.4" y1="543.6" x2="96.4" y2="546.4" stroke="#c4c4c4" stroke-width="0.7" />
<line x1="96.4" y1="466.4" x2="96.4" y2="468.6" stroke="#c4c4c4" stroke-width="0.7" />
<text font-size="9.4" text-anchor="end" stroke="#000" stroke-width="0.16" x="41.4" y="546.9" >0</text>
<text font-size="9.4" text-anchor="end" stroke="#000" stroke-width="0.16" x="41.4" y="528.15" >10</text>
<text font-size="9.4" text-anchor="end" stroke="#000" stroke-width="0.16" x="41.4" y="509.4" >20</text>
<text font-size="9.4" text-anchor="end" stroke="#000" stroke-width="0.16" x="41.4" y="490.65" >30</text>
<text font-size="9.4" text-anchor="end" stroke="#000" stroke-width="0.16" x="41.4" y="471.9" >40</text>
<text font-size="8.9" stroke="#000" stroke-width="0.15" transform="translate(28.6 564.6) rotate(-90) scale(1 1.2)" >ECAR (mpH/min/norm.unit)</text>
<circle cx="51.7" cy="506.1" r="2.3" fill="#2c6bb0" stroke="#1a1a2a" stroke-width="0.45" />
<circle cx="54.2" cy="507.98" r="2.3" fill="#2c6bb0" stroke="#1a1a2a" stroke-width="0.45" />
<circle cx="51.7" cy="509.85" r="2.3" fill="#2c6bb0" stroke="#1a1a2a" stroke-width="0.45" />
<circle cx="54.2" cy="511.73" r="2.3" fill="#2c6bb0" stroke="#1a1a2a" stroke-width="0.45" />
<circle cx="51.7" cy="513.6" r="2.3" fill="#2c6bb0" stroke="#1a1a2a" stroke-width="0.45" />
<circle cx="54.2" cy="515.48" r="2.3" fill="#2c6bb0" stroke="#1a1a2a" stroke-width="0.45" />
<circle cx="51.7" cy="516.23" r="2.3" fill="#2c6bb0" stroke="#1a1a2a" stroke-width="0.45" />
<circle cx="48.3" cy="516.6" r="2.3" fill="#2c6bb0" stroke="#1a1a2a" stroke-width="0.45" />
<circle cx="55.1" cy="517.35" r="2.3" fill="#2c6bb0" stroke="#1a1a2a" stroke-width="0.45" />
<circle cx="50.4" cy="518.29" r="2.3" fill="#2c6bb0" stroke="#1a1a2a" stroke-width="0.45" />
<circle cx="53" cy="519.23" r="2.3" fill="#2c6bb0" stroke="#1a1a2a" stroke-width="0.45" />
<circle cx="49.2" cy="521.1" r="2.3" fill="#2c6bb0" stroke="#1a1a2a" stroke-width="0.45" />
<circle cx="50.4" cy="515.85" r="2.3" fill="#2c6bb0" stroke="#1a1a2a" stroke-width="0.45" />
<line x1="47.1" y1="516.41" x2="56.3" y2="516.41" stroke="#222" stroke-width="0.5" />
<circle cx="66.6" cy="493.16" r="2.3" fill="#f0922b" stroke="#1a1a2a" stroke-width="0.45" />
<circle cx="69.1" cy="494.85" r="2.3" fill="#f0922b" stroke="#1a1a2a" stroke-width="0.45" />
<circle cx="66.6" cy="498.6" r="2.3" fill="#f0922b" stroke="#1a1a2a" stroke-width="0.45" />
<circle cx="69.1" cy="499.73" r="2.3" fill="#f0922b" stroke="#1a1a2a" stroke-width="0.45" />
<circle cx="64.1" cy="500.48" r="2.3" fill="#f0922b" stroke="#1a1a2a" stroke-width="0.45" />
<circle cx="66.6" cy="500.85" r="2.3" fill="#f0922b" stroke="#1a1a2a" stroke-width="0.45" />
<circle cx="69.1" cy="502.35" r="2.3" fill="#f0922b" stroke="#1a1a2a" stroke-width="0.45" />
<circle cx="66.6" cy="504.23" r="2.3" fill="#f0922b" stroke="#1a1a2a" stroke-width="0.45" />
<circle cx="66.6" cy="507.04" r="2.3" fill="#f0922b" stroke="#1a1a2a" stroke-width="0.45" />
<circle cx="69.1" cy="508.91" r="2.3" fill="#f0922b" stroke="#1a1a2a" stroke-width="0.45" />
<circle cx="66.6" cy="510.23" r="2.3" fill="#f0922b" stroke="#1a1a2a" stroke-width="0.45" />
<circle cx="67.9" cy="500.1" r="2.3" fill="#f0922b" stroke="#1a1a2a" stroke-width="0.45" />
<line x1="62" y1="500.48" x2="71.2" y2="500.48" stroke="#222" stroke-width="0.5" />
<circle cx="81.5" cy="519.79" r="2.3" fill="#2222ee" stroke="#1a1a2a" stroke-width="0.45" />
<circle cx="84" cy="521.1" r="2.3" fill="#2222ee" stroke="#1a1a2a" stroke-width="0.45" />
<circle cx="81.5" cy="522.98" r="2.3" fill="#2222ee" stroke="#1a1a2a" stroke-width="0.45" />
<circle cx="84" cy="524.85" r="2.3" fill="#2222ee" stroke="#1a1a2a" stroke-width="0.45" />
<circle cx="81.5" cy="525.98" r="2.3" fill="#2222ee" stroke="#1a1a2a" stroke-width="0.45" />
<circle cx="79" cy="526.73" r="2.3" fill="#2222ee" stroke="#1a1a2a" stroke-width="0.45" />
<circle cx="84" cy="527.48" r="2.3" fill="#2222ee" stroke="#1a1a2a" stroke-width="0.45" />
<circle cx="81.5" cy="528.6" r="2.3" fill="#2222ee" stroke="#1a1a2a" stroke-width="0.45" />
<circle cx="79" cy="529.73" r="2.3" fill="#2222ee" stroke="#1a1a2a" stroke-width="0.45" />
<circle cx="84" cy="530.48" r="2.3" fill="#2222ee" stroke="#1a1a2a" stroke-width="0.45" />
<circle cx="81.5" cy="532.35" r="2.3" fill="#2222ee" stroke="#1a1a2a" stroke-width="0.45" />
<circle cx="84" cy="534.23" r="2.3" fill="#2222ee" stroke="#1a1a2a" stroke-width="0.45" />
<circle cx="81.5" cy="536.1" r="2.3" fill="#2222ee" stroke="#1a1a2a" stroke-width="0.45" />
<circle cx="82.8" cy="527.1" r="2.3" fill="#2222ee" stroke="#1a1a2a" stroke-width="0.45" />
<line x1="76.9" y1="527.48" x2="86.1" y2="527.48" stroke="#222" stroke-width="0.5" />
<circle cx="96.4" cy="502.35" r="2.3" fill="#8fe1f3" stroke="#1a1a2a" stroke-width="0.45" />
<circle cx="96.4" cy="507.04" r="2.3" fill="#8fe1f3" stroke="#1a1a2a" stroke-width="0.45" />
<circle cx="98.9" cy="507.98" r="2.3" fill="#8fe1f3" stroke="#1a1a2a" stroke-width="0.45" />
<circle cx="96.4" cy="509.85" r="2.3" fill="#8fe1f3" stroke="#1a1a2a" stroke-width="0.45" />
<circle cx="96.4" cy="512.66" r="2.3" fill="#8fe1f3" stroke="#1a1a2a" stroke-width="0.45" />
<circle cx="98.9" cy="513.6" r="2.3" fill="#8fe1f3" stroke="#1a1a2a" stroke-width="0.45" />
<circle cx="93.9" cy="513.98" r="2.3" fill="#8fe1f3" stroke="#1a1a2a" stroke-width="0.45" />
<circle cx="96.4" cy="517.35" r="2.3" fill="#8fe1f3" stroke="#1a1a2a" stroke-width="0.45" />
<circle cx="98.9" cy="518.29" r="2.3" fill="#8fe1f3" stroke="#1a1a2a" stroke-width="0.45" />
<circle cx="96.4" cy="520.16" r="2.3" fill="#8fe1f3" stroke="#1a1a2a" stroke-width="0.45" />
<circle cx="98.9" cy="522.6" r="2.3" fill="#8fe1f3" stroke="#1a1a2a" stroke-width="0.45" />
<circle cx="95.1" cy="513.23" r="2.3" fill="#8fe1f3" stroke="#1a1a2a" stroke-width="0.45" />
<line x1="91.8" y1="513.6" x2="101" y2="513.6" stroke="#222" stroke-width="0.5" />
<path d="M51.7 499 V484.4 H66.6 V489" fill="none" stroke="#333" stroke-width="0.55" />
<text font-size="8.8" text-anchor="middle" font-weight="bold" x="59.15" y="486.7" >****</text>
<path d="M81.2 515.6 V493.3 H97.2 V498.4" fill="none" stroke="#333" stroke-width="0.55" />
<text font-size="8.8" text-anchor="middle" font-weight="bold" x="89.2" y="495.6" >****</text>
<text font-size="9.7" text-anchor="end" stroke="#000" stroke-width="0.16" transform="translate(55.1 553) rotate(-46)" >NTP<tspan font-size="7.08" dy="-2.91">PROTAC+Scram</tspan><tspan dy="2.91">&#8203;</tspan></text>
<text font-size="9.7" text-anchor="end" stroke="#000" stroke-width="0.16" transform="translate(70 553) rotate(-46)" >NTP<tspan font-size="7.08" dy="-2.91">PROTAC+shFOXO4</tspan><tspan dy="2.91">&#8203;</tspan></text>
<text font-size="9.7" text-anchor="end" stroke="#000" stroke-width="0.16" transform="translate(84.9 553) rotate(-46)" >AKT3<tspan font-size="7.08" dy="-2.91">PROTAC+Scram</tspan><tspan dy="2.91">&#8203;</tspan></text>
<text font-size="9.7" text-anchor="end" stroke="#000" stroke-width="0.16" transform="translate(99.8 553) rotate(-46)" >AKT3<tspan font-size="7.08" dy="-2.91">PROTAC+shFOXO4</tspan><tspan dy="2.91">&#8203;</tspan></text>
<rect x="145.9" y="469.2" width="61" height="76.2" fill="none" stroke="#c4c4c4" stroke-width="0.7" />
<line x1="143.1" y1="545.4" x2="145.9" y2="545.4" stroke="#c4c4c4" stroke-width="0.7" />
<line x1="206.9" y1="545.4" x2="209.3" y2="545.4" stroke="#c4c4c4" stroke-width="0.7" />
<line x1="143.1" y1="523.68" x2="145.9" y2="523.68" stroke="#c4c4c4" stroke-width="0.7" />
<line x1="206.9" y1="523.68" x2="209.3" y2="523.68" stroke="#c4c4c4" stroke-width="0.7" />
<line x1="143.1" y1="501.96" x2="145.9" y2="501.96" stroke="#c4c4c4" stroke-width="0.7" />
<line x1="206.9" y1="501.96" x2="209.3" y2="501.96" stroke="#c4c4c4" stroke-width="0.7" />
<line x1="143.1" y1="480.24" x2="145.9" y2="480.24" stroke="#c4c4c4" stroke-width="0.7" />
<line x1="206.9" y1="480.24" x2="209.3" y2="480.24" stroke="#c4c4c4" stroke-width="0.7" />
<line x1="153.8" y1="545.4" x2="153.8" y2="548.2" stroke="#c4c4c4" stroke-width="0.7" />
<line x1="153.8" y1="467" x2="153.8" y2="469.2" stroke="#c4c4c4" stroke-width="0.7" />
<line x1="168.7" y1="545.4" x2="168.7" y2="548.2" stroke="#c4c4c4" stroke-width="0.7" />
<line x1="168.7" y1="467" x2="168.7" y2="469.2" stroke="#c4c4c4" stroke-width="0.7" />
<line x1="183.6" y1="545.4" x2="183.6" y2="548.2" stroke="#c4c4c4" stroke-width="0.7" />
<line x1="183.6" y1="467" x2="183.6" y2="469.2" stroke="#c4c4c4" stroke-width="0.7" />
<line x1="198.6" y1="545.4" x2="198.6" y2="548.2" stroke="#c4c4c4" stroke-width="0.7" />
<line x1="198.6" y1="467" x2="198.6" y2="469.2" stroke="#c4c4c4" stroke-width="0.7" />
<text font-size="9.4" text-anchor="end" stroke="#000" stroke-width="0.16" x="143.5" y="548.7" >0</text>
<text font-size="9.4" text-anchor="end" stroke="#000" stroke-width="0.16" x="143.5" y="526.98" >100</text>
<text font-size="9.4" text-anchor="end" stroke="#000" stroke-width="0.16" x="143.5" y="505.26" >200</text>
<text font-size="9.4" text-anchor="end" stroke="#000" stroke-width="0.16" x="143.5" y="483.54" >300</text>
<text font-size="9.15" stroke="#000" stroke-width="0.16" transform="translate(125 564.6) rotate(-90) scale(1 1.2)" >OCR (pmol/min/norm.unit)</text>
<circle cx="153.8" cy="502.61" r="2.3" fill="#2c6bb0" stroke="#1a1a2a" stroke-width="0.45" />
<circle cx="156.3" cy="504.13" r="2.3" fill="#2c6bb0" stroke="#1a1a2a" stroke-width="0.45" />
<circle cx="151.3" cy="505" r="2.3" fill="#2c6bb0" stroke="#1a1a2a" stroke-width="0.45" />
<circle cx="153.8" cy="505.87" r="2.3" fill="#2c6bb0" stroke="#1a1a2a" stroke-width="0.45" />
<circle cx="156.3" cy="506.74" r="2.3" fill="#2c6bb0" stroke="#1a1a2a" stroke-width="0.45" />
<circle cx="150.4" cy="506.96" r="2.3" fill="#2c6bb0" stroke="#1a1a2a" stroke-width="0.45" />
<circle cx="152.5" cy="507.17" r="2.3" fill="#2c6bb0" stroke="#1a1a2a" stroke-width="0.45" />
<circle cx="155.1" cy="508.04" r="2.3" fill="#2c6bb0" stroke="#1a1a2a" stroke-width="0.45" />
<circle cx="157.2" cy="508.91" r="2.3" fill="#2c6bb0" stroke="#1a1a2a" stroke-width="0.45" />
<circle cx="153.8" cy="510.65" r="2.3" fill="#2c6bb0" stroke="#1a1a2a" stroke-width="0.45" />
<circle cx="156.3" cy="512.39" r="2.3" fill="#2c6bb0" stroke="#1a1a2a" stroke-width="0.45" />
<circle cx="151.3" cy="513.04" r="2.3" fill="#2c6bb0" stroke="#1a1a2a" stroke-width="0.45" />
<circle cx="155.1" cy="506.3" r="2.3" fill="#2c6bb0" stroke="#1a1a2a" stroke-width="0.45" />
<line x1="149.2" y1="506.96" x2="158.4" y2="506.96" stroke="#222" stroke-width="0.5" />
<circle cx="168.7" cy="510.65" r="2.3" fill="#f0922b" stroke="#1a1a2a" stroke-width="0.45" />
<circle cx="171.2" cy="512.82" r="2.3" fill="#f0922b" stroke="#1a1a2a" stroke-width="0.45" />
<circle cx="168.7" cy="514.99" r="2.3" fill="#f0922b" stroke="#1a1a2a" stroke-width="0.45" />
<circle cx="171.2" cy="516.51" r="2.3" fill="#f0922b" stroke="#1a1a2a" stroke-width="0.45" />
<circle cx="168.7" cy="517.6" r="2.3" fill="#f0922b" stroke="#1a1a2a" stroke-width="0.45" />
<circle cx="166.2" cy="518.9" r="2.3" fill="#f0922b" stroke="#1a1a2a" stroke-width="0.45" />
<circle cx="171.2" cy="519.12" r="2.3" fill="#f0922b" stroke="#1a1a2a" stroke-width="0.45" />
<circle cx="168.7" cy="519.34" r="2.3" fill="#f0922b" stroke="#1a1a2a" stroke-width="0.45" />
<circle cx="165.3" cy="520.42" r="2.3" fill="#f0922b" stroke="#1a1a2a" stroke-width="0.45" />
<circle cx="168.7" cy="521.94" r="2.3" fill="#f0922b" stroke="#1a1a2a" stroke-width="0.45" />
<circle cx="171.2" cy="523.68" r="2.3" fill="#f0922b" stroke="#1a1a2a" stroke-width="0.45" />
<circle cx="168.7" cy="525.2" r="2.3" fill="#f0922b" stroke="#1a1a2a" stroke-width="0.45" />
<circle cx="170" cy="518.47" r="2.3" fill="#f0922b" stroke="#1a1a2a" stroke-width="0.45" />
<line x1="164.1" y1="519.12" x2="173.3" y2="519.12" stroke="#222" stroke-width="0.5" />
<circle cx="183.6" cy="486.76" r="2.3" fill="#2222ee" stroke="#1a1a2a" stroke-width="0.45" />
<circle cx="186.1" cy="488.49" r="2.3" fill="#2222ee" stroke="#1a1a2a" stroke-width="0.45" />
<circle cx="183.6" cy="490.01" r="2.3" fill="#2222ee" stroke="#1a1a2a" stroke-width="0.45" />
<circle cx="186.1" cy="491.1" r="2.3" fill="#2222ee" stroke="#1a1a2a" stroke-width="0.45" />
<circle cx="181.1" cy="492.19" r="2.3" fill="#2222ee" stroke="#1a1a2a" stroke-width="0.45" />
<circle cx="183.6" cy="493.27" r="2.3" fill="#2222ee" stroke="#1a1a2a" stroke-width="0.45" />
<circle cx="187" cy="493.71" r="2.3" fill="#2222ee" stroke="#1a1a2a" stroke-width="0.45" />
<circle cx="180.2" cy="494.14" r="2.3" fill="#2222ee" stroke="#1a1a2a" stroke-width="0.45" />
<circle cx="183.6" cy="495.88" r="2.3" fill="#2222ee" stroke="#1a1a2a" stroke-width="0.45" />
<circle cx="186.1" cy="497.62" r="2.3" fill="#2222ee" stroke="#1a1a2a" stroke-width="0.45" />
<circle cx="183.6" cy="500.22" r="2.3" fill="#2222ee" stroke="#1a1a2a" stroke-width="0.45" />
<circle cx="183.6" cy="503.05" r="2.3" fill="#2222ee" stroke="#1a1a2a" stroke-width="0.45" />
<circle cx="184.9" cy="492.84" r="2.3" fill="#2222ee" stroke="#1a1a2a" stroke-width="0.45" />
<line x1="179" y1="493.71" x2="188.2" y2="493.71" stroke="#222" stroke-width="0.5" />
<circle cx="198.6" cy="507.82" r="2.3" fill="#8fe1f3" stroke="#1a1a2a" stroke-width="0.45" />
<circle cx="201.1" cy="509.56" r="2.3" fill="#8fe1f3" stroke="#1a1a2a" stroke-width="0.45" />
<circle cx="198.6" cy="511.08" r="2.3" fill="#8fe1f3" stroke="#1a1a2a" stroke-width="0.45" />
<circle cx="201.1" cy="512.39" r="2.3" fill="#8fe1f3" stroke="#1a1a2a" stroke-width="0.45" />
<circle cx="198.6" cy="513.69" r="2.3" fill="#8fe1f3" stroke="#1a1a2a" stroke-width="0.45" />
<circle cx="196.1" cy="514.56" r="2.3" fill="#8fe1f3" stroke="#1a1a2a" stroke-width="0.45" />
<circle cx="202" cy="514.77" r="2.3" fill="#8fe1f3" stroke="#1a1a2a" stroke-width="0.45" />
<circle cx="199.9" cy="514.99" r="2.3" fill="#8fe1f3" stroke="#1a1a2a" stroke-width="0.45" />
<circle cx="197.3" cy="516.73" r="2.3" fill="#8fe1f3" stroke="#1a1a2a" stroke-width="0.45" />
<circle cx="201.1" cy="518.47" r="2.3" fill="#8fe1f3" stroke="#1a1a2a" stroke-width="0.45" />
<circle cx="198.6" cy="520.42" r="2.3" fill="#8fe1f3" stroke="#1a1a2a" stroke-width="0.45" />
<circle cx="201.1" cy="522.59" r="2.3" fill="#8fe1f3" stroke="#1a1a2a" stroke-width="0.45" />
<circle cx="197.3" cy="514.12" r="2.3" fill="#8fe1f3" stroke="#1a1a2a" stroke-width="0.45" />
<line x1="194" y1="514.77" x2="203.2" y2="514.77" stroke="#222" stroke-width="0.5" />
<path d="M153.8 500.7 V494.2 H169.5 V509.5" fill="none" stroke="#333" stroke-width="0.55" />
<text font-size="8.8" text-anchor="middle" font-weight="bold" x="161.65" y="496.5" >****</text>
<path d="M182.7 484 V478.4 H199.5 V505.1" fill="none" stroke="#333" stroke-width="0.55" />
<text font-size="8.8" text-anchor="middle" font-weight="bold" x="191.1" y="480.7" >****</text>
<text font-size="9.7" text-anchor="end" stroke="#000" stroke-width="0.16" transform="translate(157.2 554.8) rotate(-46)" >NTP<tspan font-size="7.08" dy="-2.91">PROTAC+Scram</tspan><tspan dy="2.91">&#8203;</tspan></text>
<text font-size="9.7" text-anchor="end" stroke="#000" stroke-width="0.16" transform="translate(172.1 554.8) rotate(-46)" >NTP<tspan font-size="7.08" dy="-2.91">PROTAC+shFOXO4</tspan><tspan dy="2.91">&#8203;</tspan></text>
<text font-size="9.7" text-anchor="end" stroke="#000" stroke-width="0.16" transform="translate(187 554.8) rotate(-46)" >AKT3<tspan font-size="7.08" dy="-2.91">PROTAC+Scram</tspan><tspan dy="2.91">&#8203;</tspan></text>
<text font-size="9.7" text-anchor="end" stroke="#000" stroke-width="0.16" transform="translate(202 554.8) rotate(-46)" >AKT3<tspan font-size="7.08" dy="-2.91">PROTAC+shFOXO4</tspan><tspan dy="2.91">&#8203;</tspan></text>
<text font-size="11.4" stroke="#000" stroke-width="0.19" x="282.7" y="425.7" >ALL patient samples</text>
<path d="M245.5 441.5 Q246 435.6 256 435.4 L322 435.2 Q332 435 333.6 429.6 Q335.2 435 345 435.2 L412 435.4 Q421.5 435.6 422 441.5" fill="none" stroke="#d8d8d8" stroke-width="0.7" />
<line x1="245.5" y1="481.6" x2="245.5" y2="553.6" stroke="#8a8a8a" stroke-width="0.7" />
<line x1="245.2" y1="553.6" x2="302.5" y2="553.6" stroke="#8a8a8a" stroke-width="0.7" />
<line x1="242.7" y1="553.6" x2="245.5" y2="553.6" stroke="#8a8a8a" stroke-width="0.7" />
<text font-size="9.2" text-anchor="end" stroke="#000" stroke-width="0.16" x="242.9" y="556.9" >0</text>
<line x1="242.7" y1="535.7" x2="245.5" y2="535.7" stroke="#8a8a8a" stroke-width="0.7" />
<text font-size="9.2" text-anchor="end" stroke="#000" stroke-width="0.16" x="242.9" y="539" >30</text>
<line x1="242.7" y1="517.8" x2="245.5" y2="517.8" stroke="#8a8a8a" stroke-width="0.7" />
<text font-size="9.2" text-anchor="end" stroke="#000" stroke-width="0.16" x="242.9" y="521.1" >60</text>
<line x1="242.7" y1="499.9" x2="245.5" y2="499.9" stroke="#8a8a8a" stroke-width="0.7" />
<text font-size="9.2" text-anchor="end" stroke="#000" stroke-width="0.16" x="242.9" y="503.2" >90</text>
<line x1="242.7" y1="482" x2="245.5" y2="482" stroke="#8a8a8a" stroke-width="0.7" />
<text font-size="9.2" text-anchor="end" stroke="#000" stroke-width="0.16" x="242.9" y="485.3" >120</text>
<text font-size="9.7" stroke="#000" stroke-width="0.16" transform="translate(221.5 545.1) rotate(-90)" >% expression</text>
<line x1="258" y1="493.93" x2="258" y2="494.53" stroke="#555" stroke-width="0.45" />
<line x1="258" y1="498.71" x2="258" y2="551.81" stroke="#555" stroke-width="0.45" />
<line x1="255" y1="551.81" x2="261" y2="551.81" stroke="#555" stroke-width="0.45" />
<line x1="255" y1="493.93" x2="261" y2="493.93" stroke="#555" stroke-width="0.45" />
<rect x="252.2" y="494.53" width="11.6" height="4.18" fill="#f3e7b4" stroke="#666" stroke-width="0.45" />
<line x1="252.2" y1="496.32" x2="263.8" y2="496.32" stroke="#555" stroke-width="0.45" />
<circle cx="255.36" cy="493.93" r="1.05" fill="#d9b84a" stroke="#444" stroke-width="0.2" fill-opacity="0.85"/>
<circle cx="254.03" cy="494.53" r="1.05" fill="#d9b84a" stroke="#444" stroke-width="0.2" fill-opacity="0.85"/>
<circle cx="256.96" cy="495.13" r="1.05" fill="#d9b84a" stroke="#444" stroke-width="0.2" fill-opacity="0.85"/>
<circle cx="254.55" cy="495.13" r="1.05" fill="#d9b84a" stroke="#444" stroke-width="0.2" fill-opacity="0.85"/>
<circle cx="253.67" cy="495.72" r="1.05" fill="#d9b84a" stroke="#444" stroke-width="0.2" fill-opacity="0.85"/>
<circle cx="257.02" cy="495.72" r="1.05" fill="#d9b84a" stroke="#444" stroke-width="0.2" fill-opacity="0.85"/>
<circle cx="262.18" cy="496.32" r="1.05" fill="#d9b84a" stroke="#444" stroke-width="0.2" fill-opacity="0.85"/>
<circle cx="261" cy="496.32" r="1.05" fill="#d9b84a" stroke="#444" stroke-width="0.2" fill-opacity="0.85"/>
<circle cx="260.65" cy="496.92" r="1.05" fill="#d9b84a" stroke="#444" stroke-width="0.2" fill-opacity="0.85"/>
<circle cx="255.22" cy="496.92" r="1.05" fill="#d9b84a" stroke="#444" stroke-width="0.2" fill-opacity="0.85"/>
<circle cx="258.37" cy="497.51" r="1.05" fill="#d9b84a" stroke="#444" stroke-width="0.2" fill-opacity="0.85"/>
<circle cx="255.77" cy="498.11" r="1.05" fill="#d9b84a" stroke="#444" stroke-width="0.2" fill-opacity="0.85"/>
<circle cx="254.73" cy="498.71" r="1.05" fill="#d9b84a" stroke="#444" stroke-width="0.2" fill-opacity="0.85"/>
<circle cx="254.06" cy="494.53" r="1.05" fill="#d9b84a" stroke="#444" stroke-width="0.2" fill-opacity="0.85"/>
<circle cx="255.14" cy="495.13" r="1.05" fill="#d9b84a" stroke="#444" stroke-width="0.2" fill-opacity="0.85"/>
<circle cx="262.27" cy="495.72" r="1.05" fill="#d9b84a" stroke="#444" stroke-width="0.2" fill-opacity="0.85"/>
<circle cx="261.29" cy="496.32" r="1.05" fill="#d9b84a" stroke="#444" stroke-width="0.2" fill-opacity="0.85"/>
<circle cx="261.07" cy="493.93" r="1.05" fill="#d9b84a" stroke="#444" stroke-width="0.2" fill-opacity="0.85"/>
<circle cx="258.96" cy="501.09" r="1.05" fill="#d9b84a" stroke="#444" stroke-width="0.2" fill-opacity="0.85"/>
<circle cx="257.02" cy="502.88" r="1.05" fill="#d9b84a" stroke="#444" stroke-width="0.2" fill-opacity="0.85"/>
<circle cx="257.39" cy="505.87" r="1.05" fill="#d9b84a" stroke="#444" stroke-width="0.2" fill-opacity="0.85"/>
<circle cx="258.41" cy="508.85" r="1.05" fill="#d9b84a" stroke="#444" stroke-width="0.2" fill-opacity="0.85"/>
<circle cx="258.74" cy="511.83" r="1.05" fill="#d9b84a" stroke="#444" stroke-width="0.2" fill-opacity="0.85"/>
<circle cx="259.13" cy="514.22" r="1.05" fill="#d9b84a" stroke="#444" stroke-width="0.2" fill-opacity="0.85"/>
<circle cx="259.22" cy="520.78" r="1.05" fill="#d9b84a" stroke="#444" stroke-width="0.2" fill-opacity="0.85"/>
<circle cx="256.68" cy="533.91" r="1.05" fill="#d9b84a" stroke="#444" stroke-width="0.2" fill-opacity="0.85"/>
<circle cx="258.34" cy="551.81" r="1.05" fill="#d9b84a" stroke="#444" stroke-width="0.2" fill-opacity="0.85"/>
<circle cx="259.72" cy="499.3" r="1.05" fill="#d9b84a" stroke="#444" stroke-width="0.2" fill-opacity="0.85"/>
<line x1="258" y1="553.6" x2="258" y2="556.4" stroke="#8a8a8a" stroke-width="0.7" />
<line x1="274.8" y1="497.51" x2="274.8" y2="521.98" stroke="#555" stroke-width="0.45" />
<line x1="274.8" y1="545.25" x2="274.8" y2="553.6" stroke="#555" stroke-width="0.45" />
<line x1="271.8" y1="553.6" x2="277.8" y2="553.6" stroke="#555" stroke-width="0.45" />
<line x1="271.8" y1="497.51" x2="277.8" y2="497.51" stroke="#555" stroke-width="0.45" />
<rect x="269" y="521.98" width="11.6" height="23.27" fill="#c4e4f8" stroke="#666" stroke-width="0.45" />
<line x1="269" y1="534.51" x2="280.6" y2="534.51" stroke="#555" stroke-width="0.45" />
<circle cx="274.86" cy="497.51" r="1.05" fill="#2f86e0" stroke="#444" stroke-width="0.2" fill-opacity="0.85"/>
<circle cx="271.58" cy="498.11" r="1.05" fill="#2f86e0" stroke="#444" stroke-width="0.2" fill-opacity="0.85"/>
<circle cx="274.72" cy="511.83" r="1.05" fill="#2f86e0" stroke="#444" stroke-width="0.2" fill-opacity="0.85"/>
<circle cx="273.49" cy="513.03" r="1.05" fill="#2f86e0" stroke="#444" stroke-width="0.2" fill-opacity="0.85"/>
<circle cx="276.19" cy="520.78" r="1.05" fill="#2f86e0" stroke="#444" stroke-width="0.2" fill-opacity="0.85"/>
<circle cx="278.45" cy="522.57" r="1.05" fill="#2f86e0" stroke="#444" stroke-width="0.2" fill-opacity="0.85"/>
<circle cx="275.28" cy="523.77" r="1.05" fill="#2f86e0" stroke="#444" stroke-width="0.2" fill-opacity="0.85"/>
<circle cx="272.8" cy="526.75" r="1.05" fill="#2f86e0" stroke="#444" stroke-width="0.2" fill-opacity="0.85"/>
<circle cx="278.89" cy="527.35" r="1.05" fill="#2f86e0" stroke="#444" stroke-width="0.2" fill-opacity="0.85"/>
<circle cx="275.52" cy="529.73" r="1.05" fill="#2f86e0" stroke="#444" stroke-width="0.2" fill-opacity="0.85"/>
<circle cx="278.62" cy="532.12" r="1.05" fill="#2f86e0" stroke="#444" stroke-width="0.2" fill-opacity="0.85"/>
<circle cx="278.28" cy="533.91" r="1.05" fill="#2f86e0" stroke="#444" stroke-width="0.2" fill-opacity="0.85"/>
<circle cx="274.88" cy="534.51" r="1.05" fill="#2f86e0" stroke="#444" stroke-width="0.2" fill-opacity="0.85"/>
<circle cx="273.94" cy="535.7" r="1.05" fill="#2f86e0" stroke="#444" stroke-width="0.2" fill-opacity="0.85"/>
<circle cx="275.79" cy="536.89" r="1.05" fill="#2f86e0" stroke="#444" stroke-width="0.2" fill-opacity="0.85"/>
<circle cx="274.11" cy="538.68" r="1.05" fill="#2f86e0" stroke="#444" stroke-width="0.2" fill-opacity="0.85"/>
<circle cx="271.41" cy="540.47" r="1.05" fill="#2f86e0" stroke="#444" stroke-width="0.2" fill-opacity="0.85"/>
<circle cx="272.85" cy="541.67" r="1.05" fill="#2f86e0" stroke="#444" stroke-width="0.2" fill-opacity="0.85"/>
<circle cx="277.93" cy="542.86" r="1.05" fill="#2f86e0" stroke="#444" stroke-width="0.2" fill-opacity="0.85"/>
<circle cx="270.23" cy="544.65" r="1.05" fill="#2f86e0" stroke="#444" stroke-width="0.2" fill-opacity="0.85"/>
<circle cx="273.35" cy="546.44" r="1.05" fill="#2f86e0" stroke="#444" stroke-width="0.2" fill-opacity="0.85"/>
<circle cx="275.2" cy="547.63" r="1.05" fill="#2f86e0" stroke="#444" stroke-width="0.2" fill-opacity="0.85"/>
<circle cx="274.1" cy="548.83" r="1.05" fill="#2f86e0" stroke="#444" stroke-width="0.2" fill-opacity="0.85"/>
<circle cx="274.91" cy="550.62" r="1.05" fill="#2f86e0" stroke="#444" stroke-width="0.2" fill-opacity="0.85"/>
<circle cx="274.71" cy="552.41" r="1.05" fill="#2f86e0" stroke="#444" stroke-width="0.2" fill-opacity="0.85"/>
<circle cx="274.3" cy="553.6" r="1.05" fill="#2f86e0" stroke="#444" stroke-width="0.2" fill-opacity="0.85"/>
<circle cx="276.39" cy="517.8" r="1.05" fill="#2f86e0" stroke="#444" stroke-width="0.2" fill-opacity="0.85"/>
<circle cx="271.76" cy="530.93" r="1.05" fill="#2f86e0" stroke="#444" stroke-width="0.2" fill-opacity="0.85"/>
<line x1="274.8" y1="553.6" x2="274.8" y2="556.4" stroke="#8a8a8a" stroke-width="0.7" />
<line x1="291.1" y1="493.93" x2="291.1" y2="494.53" stroke="#555" stroke-width="0.45" />
<line x1="291.1" y1="499.9" x2="291.1" y2="536.89" stroke="#555" stroke-width="0.45" />
<line x1="288.1" y1="536.89" x2="294.1" y2="536.89" stroke="#555" stroke-width="0.45" />
<line x1="288.1" y1="493.93" x2="294.1" y2="493.93" stroke="#555" stroke-width="0.45" />
<rect x="285.3" y="494.53" width="11.6" height="5.37" fill="#ead2f3" stroke="#666" stroke-width="0.45" />
<line x1="285.3" y1="496.92" x2="296.9" y2="496.92" stroke="#555" stroke-width="0.45" />
<circle cx="290.23" cy="493.93" r="1.05" fill="#9a3aa8" stroke="#444" stroke-width="0.2" fill-opacity="0.85"/>
<circle cx="288.13" cy="494.53" r="1.05" fill="#9a3aa8" stroke="#444" stroke-width="0.2" fill-opacity="0.85"/>
<circle cx="292.43" cy="495.13" r="1.05" fill="#9a3aa8" stroke="#444" stroke-width="0.2" fill-opacity="0.85"/>
<circle cx="288.86" cy="495.13" r="1.05" fill="#9a3aa8" stroke="#444" stroke-width="0.2" fill-opacity="0.85"/>
<circle cx="289.66" cy="495.72" r="1.05" fill="#9a3aa8" stroke="#444" stroke-width="0.2" fill-opacity="0.85"/>
<circle cx="293.57" cy="495.72" r="1.05" fill="#9a3aa8" stroke="#444" stroke-width="0.2" fill-opacity="0.85"/>
<circle cx="289.31" cy="496.32" r="1.05" fill="#9a3aa8" stroke="#444" stroke-width="0.2" fill-opacity="0.85"/>
<circle cx="291.69" cy="496.32" r="1.05" fill="#9a3aa8" stroke="#444" stroke-width="0.2" fill-opacity="0.85"/>
<circle cx="295.14" cy="496.92" r="1.05" fill="#9a3aa8" stroke="#444" stroke-width="0.2" fill-opacity="0.85"/>
<circle cx="287.11" cy="496.92" r="1.05" fill="#9a3aa8" stroke="#444" stroke-width="0.2" fill-opacity="0.85"/>
<circle cx="286.72" cy="497.51" r="1.05" fill="#9a3aa8" stroke="#444" stroke-width="0.2" fill-opacity="0.85"/>
<circle cx="288.39" cy="498.11" r="1.05" fill="#9a3aa8" stroke="#444" stroke-width="0.2" fill-opacity="0.85"/>
<circle cx="293.75" cy="498.71" r="1.05" fill="#9a3aa8" stroke="#444" stroke-width="0.2" fill-opacity="0.85"/>
<circle cx="292.25" cy="494.53" r="1.05" fill="#9a3aa8" stroke="#444" stroke-width="0.2" fill-opacity="0.85"/>
<circle cx="288.47" cy="495.13" r="1.05" fill="#9a3aa8" stroke="#444" stroke-width="0.2" fill-opacity="0.85"/>
<circle cx="289.41" cy="495.72" r="1.05" fill="#9a3aa8" stroke="#444" stroke-width="0.2" fill-opacity="0.85"/>
<circle cx="287.88" cy="496.32" r="1.05" fill="#9a3aa8" stroke="#444" stroke-width="0.2" fill-opacity="0.85"/>
<circle cx="290.69" cy="493.93" r="1.05" fill="#9a3aa8" stroke="#444" stroke-width="0.2" fill-opacity="0.85"/>
<circle cx="289.64" cy="501.09" r="1.05" fill="#9a3aa8" stroke="#444" stroke-width="0.2" fill-opacity="0.85"/>
<circle cx="291.73" cy="502.29" r="1.05" fill="#9a3aa8" stroke="#444" stroke-width="0.2" fill-opacity="0.85"/>
<circle cx="292.37" cy="504.67" r="1.05" fill="#9a3aa8" stroke="#444" stroke-width="0.2" fill-opacity="0.85"/>
<circle cx="292.56" cy="507.06" r="1.05" fill="#9a3aa8" stroke="#444" stroke-width="0.2" fill-opacity="0.85"/>
<circle cx="291.85" cy="510.64" r="1.05" fill="#9a3aa8" stroke="#444" stroke-width="0.2" fill-opacity="0.85"/>
<circle cx="292.57" cy="514.82" r="1.05" fill="#9a3aa8" stroke="#444" stroke-width="0.2" fill-opacity="0.85"/>
<circle cx="289.56" cy="517.8" r="1.05" fill="#9a3aa8" stroke="#444" stroke-width="0.2" fill-opacity="0.85"/>
<circle cx="290.42" cy="529.73" r="1.05" fill="#9a3aa8" stroke="#444" stroke-width="0.2" fill-opacity="0.85"/>
<circle cx="292.59" cy="530.93" r="1.05" fill="#9a3aa8" stroke="#444" stroke-width="0.2" fill-opacity="0.85"/>
<circle cx="291.98" cy="536.89" r="1.05" fill="#9a3aa8" stroke="#444" stroke-width="0.2" fill-opacity="0.85"/>
<line x1="291.1" y1="553.6" x2="291.1" y2="556.4" stroke="#8a8a8a" stroke-width="0.7" />
<text font-size="10.6" text-anchor="end" stroke="#000" stroke-width="0.18" transform="translate(261.6 561.8) rotate(-43)" >CD19</text>
<text font-size="10.6" text-anchor="end" stroke="#000" stroke-width="0.18" transform="translate(278.4 561.8) rotate(-43)" >CD20</text>
<text font-size="10.6" text-anchor="end" stroke="#000" stroke-width="0.18" transform="translate(294.7 561.8) rotate(-43)" >CD22</text>
<rect x="298.9" y="502.7" width="7.6" height="8.3" fill="#f8f2d4" stroke="#666" stroke-width="0.45" />
<text font-size="9.9" stroke="#000" stroke-width="0.17" x="310.8" y="510.2" >CD19</text>
<rect x="298.9" y="514.2" width="7.6" height="8.3" fill="#cfeafb" stroke="#666" stroke-width="0.45" />
<text font-size="9.9" stroke="#000" stroke-width="0.17" x="310.8" y="521.7" >CD20</text>
<rect x="298.9" y="525.6" width="7.6" height="8.3" fill="#efdcf7" stroke="#666" stroke-width="0.45" />
<text font-size="9.9" stroke="#000" stroke-width="0.17" x="310.8" y="533.1" >CD22</text>
<rect x="371.1" y="444.8" width="7.7" height="8.6" fill="#f5e6b0" stroke="none" stroke-width="0.5" />
<text font-size="10.1" stroke="#000" stroke-width="0.17" x="383.6" y="452.9" >CD19</text>
<rect x="371.1" y="455.1" width="7.7" height="8.6" fill="#7fd0fa" stroke="none" stroke-width="0.5" />
<text font-size="10.1" stroke="#000" stroke-width="0.17" x="383.6" y="463.5" >CD20</text>
<rect x="371.1" y="465.6" width="7.7" height="8.6" fill="#e8c0f5" stroke="none" stroke-width="0.5" />
<text font-size="10.1" stroke="#000" stroke-width="0.17" x="383.6" y="473.7" >CD22</text>
<line x1="369.4" y1="476.3" x2="369.4" y2="550.1" stroke="#8a8a8a" stroke-width="0.7" />
<line x1="369.1" y1="550.1" x2="451" y2="550.1" stroke="#8a8a8a" stroke-width="0.7" />
<line x1="366.6" y1="550.1" x2="369.4" y2="550.1" stroke="#8a8a8a" stroke-width="0.7" />
<text font-size="9.8" text-anchor="end" stroke="#000" stroke-width="0.17" x="365.4" y="553.5" >0</text>
<line x1="366.6" y1="531.72" x2="369.4" y2="531.72" stroke="#8a8a8a" stroke-width="0.7" />
<text font-size="9.8" text-anchor="end" stroke="#000" stroke-width="0.17" x="365.4" y="535.12" >20</text>
<line x1="366.6" y1="513.34" x2="369.4" y2="513.34" stroke="#8a8a8a" stroke-width="0.7" />
<text font-size="9.8" text-anchor="end" stroke="#000" stroke-width="0.17" x="365.4" y="516.74" >40</text>
<line x1="366.6" y1="494.96" x2="369.4" y2="494.96" stroke="#8a8a8a" stroke-width="0.7" />
<text font-size="9.8" text-anchor="end" stroke="#000" stroke-width="0.17" x="365.4" y="498.36" >60</text>
<line x1="366.6" y1="476.58" x2="369.4" y2="476.58" stroke="#8a8a8a" stroke-width="0.7" />
<text font-size="9.8" text-anchor="end" stroke="#000" stroke-width="0.17" x="365.4" y="479.98" >80</text>
<text font-size="10" stroke="#000" stroke-width="0.17" transform="translate(350.5 546.6) rotate(-90)" >Negative/Dim</text>
<line x1="410.5" y1="476.6" x2="410.5" y2="550.1" stroke="#555" stroke-width="0.5" stroke-dasharray="1.4 1"/>
<rect x="374" y="546.61" width="9.3" height="3.49" fill="#f5e6b0" stroke="none" stroke-width="0.5" />
<text font-size="8.9" text-anchor="middle" stroke="#000" stroke-width="0.15" x="378.8" y="543.31" >4</text>
<line x1="378.7" y1="550.1" x2="378.7" y2="552.9" stroke="#8a8a8a" stroke-width="0.7" />
<rect x="385.3" y="536.68" width="9.3" height="13.42" fill="#7fd0fa" stroke="none" stroke-width="0.5" />
<text font-size="8.9" text-anchor="middle" stroke="#000" stroke-width="0.15" x="390.1" y="533.38" >15</text>
<line x1="390" y1="550.1" x2="390" y2="552.9" stroke="#8a8a8a" stroke-width="0.7" />
<rect x="397.2" y="549.18" width="9.3" height="0.92" fill="#e8c0f5" stroke="none" stroke-width="0.5" />
<text font-size="8.9" text-anchor="middle" stroke="#000" stroke-width="0.15" x="402" y="545.88" >1</text>
<line x1="401.9" y1="550.1" x2="401.9" y2="552.9" stroke="#8a8a8a" stroke-width="0.7" />
<rect x="414.9" y="496.8" width="9.3" height="53.3" fill="#f5e6b0" stroke="none" stroke-width="0.5" />
<text font-size="8.9" text-anchor="middle" stroke="#000" stroke-width="0.15" x="419.7" y="493.5" >58</text>
<line x1="419.6" y1="550.1" x2="419.6" y2="552.9" stroke="#8a8a8a" stroke-width="0.7" />
<rect x="426.5" y="533.83" width="9.3" height="16.27" fill="#7fd0fa" stroke="none" stroke-width="0.5" />
<text font-size="8.9" text-anchor="middle" stroke="#000" stroke-width="0.15" x="431.3" y="530.53" >18</text>
<line x1="431.2" y1="550.1" x2="431.2" y2="552.9" stroke="#8a8a8a" stroke-width="0.7" />
<rect x="437.9" y="541.09" width="9.3" height="9.01" fill="#e8c0f5" stroke="none" stroke-width="0.5" />
<text font-size="8.9" text-anchor="middle" stroke="#000" stroke-width="0.15" x="442.7" y="537.79" >10</text>
<line x1="442.6" y1="550.1" x2="442.6" y2="552.9" stroke="#8a8a8a" stroke-width="0.7" />
<text font-size="10.8" text-anchor="end" stroke="#000" stroke-width="0.18" transform="translate(394.6 558.2) rotate(-43)" >Negative/Dim</text>
<text font-size="10.6" text-anchor="end" stroke="#000" stroke-width="0.18" transform="translate(433.6 559.2) rotate(-43)" >Bright/Moderate</text>
<defs><radialGradient id="gCore" cx="40%" cy="35%" r="70%"><stop offset="0" stop-color="#e8504a"/><stop offset="1" stop-color="#c81e22"/></radialGradient><radialGradient id="gCoreP" cx="40%" cy="35%" r="70%"><stop offset="0" stop-color="#f7b8b8"/><stop offset="1" stop-color="#f29a9e"/></radialGradient></defs>
<text font-size="10.06" stroke="#000" stroke-width="0.17" x="453.5" y="474.4" >K562<tspan font-size="6.04" dy="-3.62">WT</tspan><tspan dy="3.62">&#8203;</tspan></text>
<path d="M516.21 465.7 L515.91 468.28 L514.33 470.39 L513.07 472.45 L511.77 474.69 L509.55 475.98 L507.13 476.77 L504.6 476.73 L502.09 476.71 L499.7 475.88 L497.57 474.51 L496.08 472.49 L494.57 470.53 L493.77 468.17 L493.2 465.7 L493.25 463.11 L494.15 460.67 L495.81 458.69 L497.65 456.98 L499.83 455.8 L502.2 455.19 L504.6 454.92 L507.09 454.81 L509.39 455.76 L511.52 457.03 L513.63 458.5 L514.71 460.83 L515.57 463.2 Z" fill="#fad6d6" stroke="none" stroke-width="0.6" />
<circle cx="505.16" cy="472.07" r="0.7" fill="#f4b4b4" stroke="none" stroke-width="0.5" fill-opacity="0.55"/>
<circle cx="510.05" cy="472.02" r="1.1" fill="#f4b4b4" stroke="none" stroke-width="0.5" fill-opacity="0.55"/>
<circle cx="501.39" cy="459.45" r="1.04" fill="#f4b4b4" stroke="none" stroke-width="0.5" fill-opacity="0.55"/>
<circle cx="507.28" cy="456.86" r="1.04" fill="#f4b4b4" stroke="none" stroke-width="0.5" fill-opacity="0.55"/>
<circle cx="505.37" cy="456.27" r="0.71" fill="#f4b4b4" stroke="none" stroke-width="0.5" fill-opacity="0.55"/>
<circle cx="514.68" cy="464.49" r="0.6" fill="#f4b4b4" stroke="none" stroke-width="0.5" fill-opacity="0.55"/>
<circle cx="504.83" cy="456.54" r="0.78" fill="#f4b4b4" stroke="none" stroke-width="0.5" fill-opacity="0.55"/>
<circle cx="496.49" cy="464.13" r="1.05" fill="#f4b4b4" stroke="none" stroke-width="0.5" fill-opacity="0.55"/>
<circle cx="494.97" cy="465.65" r="0.71" fill="#f4b4b4" stroke="none" stroke-width="0.5" fill-opacity="0.55"/>
<circle cx="511.94" cy="459.05" r="0.78" fill="#f4b4b4" stroke="none" stroke-width="0.5" fill-opacity="0.55"/>
<circle cx="495.5" cy="461.58" r="0.93" fill="#f4b4b4" stroke="none" stroke-width="0.5" fill-opacity="0.55"/>
<circle cx="497.44" cy="466.3" r="0.69" fill="#f4b4b4" stroke="none" stroke-width="0.5" fill-opacity="0.55"/>
<circle cx="502.43" cy="459.08" r="1.04" fill="#f4b4b4" stroke="none" stroke-width="0.5" fill-opacity="0.55"/>
<circle cx="503.47" cy="475.58" r="0.69" fill="#f4b4b4" stroke="none" stroke-width="0.5" fill-opacity="0.55"/>
<circle cx="513.4" cy="463.28" r="0.8" fill="#f4b4b4" stroke="none" stroke-width="0.5" fill-opacity="0.55"/>
<circle cx="495.75" cy="464.71" r="0.85" fill="#f4b4b4" stroke="none" stroke-width="0.5" fill-opacity="0.55"/>
<circle cx="501.9" cy="472.3" r="0.81" fill="#f4b4b4" stroke="none" stroke-width="0.5" fill-opacity="0.55"/>
<circle cx="512.65" cy="462.16" r="0.55" fill="#f4b4b4" stroke="none" stroke-width="0.5" fill-opacity="0.55"/>
<circle cx="508.54" cy="457.38" r="1.04" fill="#f4b4b4" stroke="none" stroke-width="0.5" fill-opacity="0.55"/>
<circle cx="507.94" cy="474.36" r="0.54" fill="#f4b4b4" stroke="none" stroke-width="0.5" fill-opacity="0.55"/>
<circle cx="500.36" cy="459.64" r="0.64" fill="#f4b4b4" stroke="none" stroke-width="0.5" fill-opacity="0.55"/>
<circle cx="509.37" cy="460.96" r="0.81" fill="#f4b4b4" stroke="none" stroke-width="0.5" fill-opacity="0.55"/>
<circle cx="509.02" cy="459.92" r="0.63" fill="#f4b4b4" stroke="none" stroke-width="0.5" fill-opacity="0.55"/>
<circle cx="510.45" cy="460.25" r="0.93" fill="#f4b4b4" stroke="none" stroke-width="0.5" fill-opacity="0.55"/>
<circle cx="512.2" cy="467.24" r="0.6" fill="#f4b4b4" stroke="none" stroke-width="0.5" fill-opacity="0.55"/>
<circle cx="501.51" cy="459.83" r="1.07" fill="#f4b4b4" stroke="none" stroke-width="0.5" fill-opacity="0.55"/>
<circle cx="504.6" cy="465.7" r="6" fill="url(#gCoreP)" stroke="none" stroke-width="0.5" />
<text font-size="9.95" stroke="#000" stroke-width="0.17" x="522.6" y="467.7" >FACS</text>
<text font-size="9.95" stroke="#000" stroke-width="0.17" x="522.6" y="480.4" >Sorting</text>
<path d="M464.3 494.7 Q464.6 488.6 473 488.5 L497 488.4 Q506 488.2 507 481.8 Q508 488.2 517 488.4 L541 488.5 Q549.3 488.6 549.6 494.7" fill="none" stroke="#666" stroke-width="0.6" />
<line x1="478" y1="515" x2="478" y2="505" stroke="#6a2fa8" stroke-width="1.4" />
<rect x="475.2" y="496" width="5.6" height="10.4" rx="2.8" ry="3.2" fill="#6a2fa8" transform="rotate(0 478 501.2)"/>
<line x1="508.2" y1="515" x2="508.2" y2="505" stroke="#6a2fa8" stroke-width="1.4" />
<rect x="505.4" y="496" width="5.6" height="10.4" rx="2.8" ry="3.2" fill="#6a2fa8" transform="rotate(0 508.2 501.2)"/>
<line x1="513.6" y1="515.4" x2="516.52" y2="505.84" stroke="#6a2fa8" stroke-width="1.4" />
<rect x="514.83" y="497" width="5.6" height="10.4" rx="2.8" ry="3.2" fill="#6a2fa8" transform="rotate(17 517.63 502.2)"/>
<line x1="535.4" y1="515.6" x2="530.71" y2="506.77" stroke="#6a2fa8" stroke-width="1.4" />
<rect x="526.12" y="498.22" width="5.6" height="10.4" rx="2.8" ry="3.2" fill="#6a2fa8" transform="rotate(-28 528.92 503.42)"/>
<line x1="538.8" y1="515" x2="538.8" y2="505" stroke="#6a2fa8" stroke-width="1.4" />
<rect x="536" y="496" width="5.6" height="10.4" rx="2.8" ry="3.2" fill="#6a2fa8" transform="rotate(0 538.8 501.2)"/>
<line x1="542.4" y1="515.6" x2="547.09" y2="506.77" stroke="#6a2fa8" stroke-width="1.4" />
<rect x="546.08" y="498.22" width="5.6" height="10.4" rx="2.8" ry="3.2" fill="#6a2fa8" transform="rotate(28 548.88 503.42)"/>
<path d="M489.67 521.9 L489.24 524.47 L488.52 526.96 L486.86 528.96 L485.41 531.2 L483.16 532.62 L480.61 533.35 L478 533.18 L475.41 533.23 L473.04 532.21 L470.91 530.79 L468.6 529.39 L467.13 527.13 L467.1 524.39 L466.07 521.9 L466.6 519.3 L467.65 516.91 L469.09 514.79 L470.67 512.7 L472.98 511.48 L475.38 510.42 L478 510.15 L480.51 510.92 L483.14 511.22 L485.51 512.48 L487.41 514.4 L488.55 516.82 L488.9 519.41 Z" fill="#f0a0a4" stroke="none" stroke-width="0.6" />
<circle cx="485.97" cy="522.1" r="1.06" fill="#e06a70" stroke="none" stroke-width="0.5" fill-opacity="0.55"/>
<circle cx="475.16" cy="530.12" r="1.04" fill="#e06a70" stroke="none" stroke-width="0.5" fill-opacity="0.55"/>
<circle cx="474.35" cy="530.42" r="0.76" fill="#e06a70" stroke="none" stroke-width="0.5" fill-opacity="0.55"/>
<circle cx="486.61" cy="525.62" r="1.01" fill="#e06a70" stroke="none" stroke-width="0.5" fill-opacity="0.55"/>
<circle cx="482.58" cy="528.77" r="0.75" fill="#e06a70" stroke="none" stroke-width="0.5" fill-opacity="0.55"/>
<circle cx="486.86" cy="523.99" r="0.99" fill="#e06a70" stroke="none" stroke-width="0.5" fill-opacity="0.55"/>
<circle cx="472.96" cy="514.18" r="1.01" fill="#e06a70" stroke="none" stroke-width="0.5" fill-opacity="0.55"/>
<circle cx="483.5" cy="529.43" r="0.72" fill="#e06a70" stroke="none" stroke-width="0.5" fill-opacity="0.55"/>
<circle cx="471.64" cy="517.2" r="0.97" fill="#e06a70" stroke="none" stroke-width="0.5" fill-opacity="0.55"/>
<circle cx="484.63" cy="526.51" r="0.98" fill="#e06a70" stroke="none" stroke-width="0.5" fill-opacity="0.55"/>
<circle cx="486.43" cy="519.02" r="0.75" fill="#e06a70" stroke="none" stroke-width="0.5" fill-opacity="0.55"/>
<circle cx="478.24" cy="530.31" r="0.87" fill="#e06a70" stroke="none" stroke-width="0.5" fill-opacity="0.55"/>
<circle cx="481.45" cy="529.04" r="0.77" fill="#e06a70" stroke="none" stroke-width="0.5" fill-opacity="0.55"/>
<circle cx="482.88" cy="530.14" r="0.99" fill="#e06a70" stroke="none" stroke-width="0.5" fill-opacity="0.55"/>
<circle cx="479.56" cy="512.98" r="0.71" fill="#e06a70" stroke="none" stroke-width="0.5" fill-opacity="0.55"/>
<circle cx="471.05" cy="524.92" r="0.93" fill="#e06a70" stroke="none" stroke-width="0.5" fill-opacity="0.55"/>
<circle cx="473.8" cy="529.35" r="0.55" fill="#e06a70" stroke="none" stroke-width="0.5" fill-opacity="0.55"/>
<circle cx="469.12" cy="524.91" r="0.73" fill="#e06a70" stroke="none" stroke-width="0.5" fill-opacity="0.55"/>
<circle cx="484.59" cy="514.84" r="0.64" fill="#e06a70" stroke="none" stroke-width="0.5" fill-opacity="0.55"/>
<circle cx="467.74" cy="520.25" r="0.81" fill="#e06a70" stroke="none" stroke-width="0.5" fill-opacity="0.55"/>
<circle cx="471.79" cy="517.26" r="0.79" fill="#e06a70" stroke="none" stroke-width="0.5" fill-opacity="0.55"/>
<circle cx="469.45" cy="524.01" r="0.75" fill="#e06a70" stroke="none" stroke-width="0.5" fill-opacity="0.55"/>
<circle cx="470.05" cy="517.2" r="0.79" fill="#e06a70" stroke="none" stroke-width="0.5" fill-opacity="0.55"/>
<circle cx="482.51" cy="529.61" r="1.08" fill="#e06a70" stroke="none" stroke-width="0.5" fill-opacity="0.55"/>
<circle cx="471.39" cy="525.8" r="0.5" fill="#e06a70" stroke="none" stroke-width="0.5" fill-opacity="0.55"/>
<circle cx="470.47" cy="520.2" r="0.56" fill="#e06a70" stroke="none" stroke-width="0.5" fill-opacity="0.55"/>
<circle cx="478" cy="521.9" r="7.2" fill="url(#gCore)" stroke="none" stroke-width="0.5" />
<path d="M520.26 521.9 L520.06 524.49 L519.51 527.1 L517.74 529.11 L515.94 530.97 L513.77 532.42 L511.22 532.92 L508.7 533.51 L506.09 533.33 L503.55 532.6 L501.7 530.67 L499.77 529.02 L498.59 526.77 L497.11 524.55 L496.92 521.9 L497.81 519.41 L497.85 516.67 L499.29 514.4 L501.38 512.72 L503.62 511.35 L506.19 510.9 L508.7 510.75 L511.29 510.57 L513.56 511.82 L515.75 513.06 L517.58 514.82 L518.76 517.06 L519.98 519.33 Z" fill="#f0a0a4" stroke="none" stroke-width="0.6" />
<circle cx="499.22" cy="525.62" r="0.81" fill="#e06a70" stroke="none" stroke-width="0.5" fill-opacity="0.55"/>
<circle cx="502.9" cy="514.87" r="0.9" fill="#e06a70" stroke="none" stroke-width="0.5" fill-opacity="0.55"/>
<circle cx="500.58" cy="524.13" r="1.1" fill="#e06a70" stroke="none" stroke-width="0.5" fill-opacity="0.55"/>
<circle cx="518.87" cy="521.62" r="0.92" fill="#e06a70" stroke="none" stroke-width="0.5" fill-opacity="0.55"/>
<circle cx="505.4" cy="529.49" r="0.67" fill="#e06a70" stroke="none" stroke-width="0.5" fill-opacity="0.55"/>
<circle cx="517.69" cy="526.15" r="0.74" fill="#e06a70" stroke="none" stroke-width="0.5" fill-opacity="0.55"/>
<circle cx="513.7" cy="514.7" r="1.07" fill="#e06a70" stroke="none" stroke-width="0.5" fill-opacity="0.55"/>
<circle cx="513.04" cy="515.71" r="0.63" fill="#e06a70" stroke="none" stroke-width="0.5" fill-opacity="0.55"/>
<circle cx="516.33" cy="517.08" r="1.09" fill="#e06a70" stroke="none" stroke-width="0.5" fill-opacity="0.55"/>
<circle cx="502.47" cy="526.58" r="0.88" fill="#e06a70" stroke="none" stroke-width="0.5" fill-opacity="0.55"/>
<circle cx="510.2" cy="513.63" r="0.55" fill="#e06a70" stroke="none" stroke-width="0.5" fill-opacity="0.55"/>
<circle cx="503.46" cy="531.07" r="0.95" fill="#e06a70" stroke="none" stroke-width="0.5" fill-opacity="0.55"/>
<circle cx="514.84" cy="527.52" r="0.56" fill="#e06a70" stroke="none" stroke-width="0.5" fill-opacity="0.55"/>
<circle cx="518.04" cy="525.59" r="0.61" fill="#e06a70" stroke="none" stroke-width="0.5" fill-opacity="0.55"/>
<circle cx="500.36" cy="518.64" r="0.61" fill="#e06a70" stroke="none" stroke-width="0.5" fill-opacity="0.55"/>
<circle cx="507.8" cy="513.98" r="0.89" fill="#e06a70" stroke="none" stroke-width="0.5" fill-opacity="0.55"/>
<circle cx="515.3" cy="527.83" r="0.63" fill="#e06a70" stroke="none" stroke-width="0.5" fill-opacity="0.55"/>
<circle cx="507.39" cy="532.4" r="0.98" fill="#e06a70" stroke="none" stroke-width="0.5" fill-opacity="0.55"/>
<circle cx="505.26" cy="531.62" r="0.63" fill="#e06a70" stroke="none" stroke-width="0.5" fill-opacity="0.55"/>
<circle cx="500.65" cy="528.2" r="0.89" fill="#e06a70" stroke="none" stroke-width="0.5" fill-opacity="0.55"/>
<circle cx="517.29" cy="528.17" r="0.63" fill="#e06a70" stroke="none" stroke-width="0.5" fill-opacity="0.55"/>
<circle cx="508.18" cy="531.85" r="0.7" fill="#e06a70" stroke="none" stroke-width="0.5" fill-opacity="0.55"/>
<circle cx="506.46" cy="529.36" r="0.55" fill="#e06a70" stroke="none" stroke-width="0.5" fill-opacity="0.55"/>
<circle cx="501.48" cy="517.77" r="0.86" fill="#e06a70" stroke="none" stroke-width="0.5" fill-opacity="0.55"/>
<circle cx="502.49" cy="528.37" r="1.08" fill="#e06a70" stroke="none" stroke-width="0.5" fill-opacity="0.55"/>
<circle cx="499.4" cy="522.85" r="1.02" fill="#e06a70" stroke="none" stroke-width="0.5" fill-opacity="0.55"/>
<circle cx="508.7" cy="521.9" r="7.2" fill="url(#gCore)" stroke="none" stroke-width="0.5" />
<path d="M549.88 521.9 L549.75 524.51 L548.89 527 L547.11 528.93 L545.25 530.61 L543.28 532.25 L540.83 533 L538.3 533.79 L535.68 533.38 L533.23 532.44 L531.03 531.01 L529.11 529.23 L528.15 526.79 L527.05 524.47 L527.01 521.9 L526.62 519.23 L528.22 517.04 L529 514.48 L531.31 513.14 L533.19 511.29 L535.75 510.74 L538.3 510.39 L540.95 510.28 L543.14 511.85 L545.28 513.15 L547.67 514.43 L548.76 516.86 L549.24 519.4 Z" fill="#f0a0a4" stroke="none" stroke-width="0.6" />
<circle cx="548.77" cy="521.05" r="0.57" fill="#e06a70" stroke="none" stroke-width="0.5" fill-opacity="0.55"/>
<circle cx="531.23" cy="525.6" r="0.69" fill="#e06a70" stroke="none" stroke-width="0.5" fill-opacity="0.55"/>
<circle cx="532.47" cy="516.32" r="0.92" fill="#e06a70" stroke="none" stroke-width="0.5" fill-opacity="0.55"/>
<circle cx="545.98" cy="524.47" r="0.99" fill="#e06a70" stroke="none" stroke-width="0.5" fill-opacity="0.55"/>
<circle cx="531.11" cy="527.09" r="0.86" fill="#e06a70" stroke="none" stroke-width="0.5" fill-opacity="0.55"/>
<circle cx="529.64" cy="523.17" r="0.52" fill="#e06a70" stroke="none" stroke-width="0.5" fill-opacity="0.55"/>
<circle cx="536.73" cy="511.45" r="1.09" fill="#e06a70" stroke="none" stroke-width="0.5" fill-opacity="0.55"/>
<circle cx="533.82" cy="514.48" r="0.72" fill="#e06a70" stroke="none" stroke-width="0.5" fill-opacity="0.55"/>
<circle cx="534.75" cy="512.92" r="0.57" fill="#e06a70" stroke="none" stroke-width="0.5" fill-opacity="0.55"/>
<circle cx="539.12" cy="530.55" r="0.81" fill="#e06a70" stroke="none" stroke-width="0.5" fill-opacity="0.55"/>
<circle cx="541.66" cy="513.43" r="0.52" fill="#e06a70" stroke="none" stroke-width="0.5" fill-opacity="0.55"/>
<circle cx="542.22" cy="513.91" r="0.81" fill="#e06a70" stroke="none" stroke-width="0.5" fill-opacity="0.55"/>
<circle cx="539.85" cy="530.65" r="0.73" fill="#e06a70" stroke="none" stroke-width="0.5" fill-opacity="0.55"/>
<circle cx="539.38" cy="514.1" r="0.83" fill="#e06a70" stroke="none" stroke-width="0.5" fill-opacity="0.55"/>
<circle cx="542.55" cy="530.65" r="0.52" fill="#e06a70" stroke="none" stroke-width="0.5" fill-opacity="0.55"/>
<circle cx="536.87" cy="530.41" r="0.88" fill="#e06a70" stroke="none" stroke-width="0.5" fill-opacity="0.55"/>
<circle cx="546.81" cy="524.79" r="0.63" fill="#e06a70" stroke="none" stroke-width="0.5" fill-opacity="0.55"/>
<circle cx="536.5" cy="530.76" r="1.08" fill="#e06a70" stroke="none" stroke-width="0.5" fill-opacity="0.55"/>
<circle cx="527.84" cy="523.15" r="0.6" fill="#e06a70" stroke="none" stroke-width="0.5" fill-opacity="0.55"/>
<circle cx="546.03" cy="517.92" r="0.61" fill="#e06a70" stroke="none" stroke-width="0.5" fill-opacity="0.55"/>
<circle cx="538.2" cy="511.5" r="0.5" fill="#e06a70" stroke="none" stroke-width="0.5" fill-opacity="0.55"/>
<circle cx="537.16" cy="531.79" r="0.71" fill="#e06a70" stroke="none" stroke-width="0.5" fill-opacity="0.55"/>
<circle cx="538.7" cy="529.48" r="0.52" fill="#e06a70" stroke="none" stroke-width="0.5" fill-opacity="0.55"/>
<circle cx="530.52" cy="514.67" r="1.1" fill="#e06a70" stroke="none" stroke-width="0.5" fill-opacity="0.55"/>
<circle cx="530.67" cy="521.73" r="0.69" fill="#e06a70" stroke="none" stroke-width="0.5" fill-opacity="0.55"/>
<circle cx="540.66" cy="512.03" r="0.88" fill="#e06a70" stroke="none" stroke-width="0.5" fill-opacity="0.55"/>
<circle cx="538.3" cy="521.9" r="7.2" fill="url(#gCore)" stroke="none" stroke-width="0.5" />
<text font-size="10.2" stroke="#000" stroke-width="0.17" transform="translate(482.2 564.2) rotate(-90) scale(1 1.15)" >CD20<tspan font-size="6.32" dy="-3.06">L</tspan><tspan dy="3.06">&#8203;</tspan></text>
<text font-size="10.2" stroke="#000" stroke-width="0.17" transform="translate(514.8 565.4) rotate(-90) scale(1 1.15)" >CD20<tspan font-size="6.32" dy="-3.06">M</tspan><tspan dy="3.06">&#8203;</tspan></text>
<text font-size="10.2" stroke="#000" stroke-width="0.17" transform="translate(543.8 565.8) rotate(-90) scale(1 1.15)" >CD20<tspan font-size="6.32" dy="-3.06">H</tspan><tspan dy="3.06">&#8203;</tspan></text>
<line x1="605.3" y1="463.5" x2="605.3" y2="538.5" stroke="#8a8a8a" stroke-width="0.7" />
<line x1="605" y1="538.5" x2="674" y2="538.5" stroke="#8a8a8a" stroke-width="0.7" />
<line x1="602.5" y1="538.5" x2="605.3" y2="538.5" stroke="#8a8a8a" stroke-width="0.7" />
<text font-size="9.5" text-anchor="end" stroke="#000" stroke-width="0.16" x="602.7" y="541.8" >0</text>
<line x1="602.5" y1="519.85" x2="605.3" y2="519.85" stroke="#8a8a8a" stroke-width="0.7" />
<text font-size="9.5" text-anchor="end" stroke="#000" stroke-width="0.16" x="602.7" y="523.15" >30</text>
<line x1="602.5" y1="501.2" x2="605.3" y2="501.2" stroke="#8a8a8a" stroke-width="0.7" />
<text font-size="9.5" text-anchor="end" stroke="#000" stroke-width="0.16" x="602.7" y="504.5" >60</text>
<line x1="602.5" y1="482.55" x2="605.3" y2="482.55" stroke="#8a8a8a" stroke-width="0.7" />
<text font-size="9.5" text-anchor="end" stroke="#000" stroke-width="0.16" x="602.7" y="485.85" >90</text>
<line x1="602.5" y1="463.9" x2="605.3" y2="463.9" stroke="#8a8a8a" stroke-width="0.7" />
<text font-size="9.5" text-anchor="end" stroke="#000" stroke-width="0.16" x="602.7" y="467.2" >120</text>
<text font-size="9.25" stroke="#000" stroke-width="0.16" transform="translate(586.5 553.6) rotate(-90) scale(1 1.1)" >% CD20 expression/cell</text>
<path d="M620.2 522.34 L619.9 522.85 L619.08 523.37 L617.95 523.89 L616.83 524.41 L616 524.93 L615.7 525.45 L615.38 526.07 L614.5 526.69 L613.3 527.31 L612.1 527.93 L611.22 528.55 L610.9 529.17 L611.19 529.8 L611.98 530.42 L613.05 531.04 L614.12 531.66 L614.91 532.28 L615.2 532.9 L615.53 533.42 L616.45 533.94 L617.7 534.46 L618.95 534.98 L619.87 535.5 L620.2 536.01 L620.2 536.01 L620.53 535.5 L621.45 534.98 L622.7 534.46 L623.95 533.94 L624.87 533.42 L625.2 532.9 L625.49 532.28 L626.28 531.66 L627.35 531.04 L628.43 530.42 L629.21 529.8 L629.5 529.17 L629.18 528.55 L628.3 527.93 L627.1 527.31 L625.9 526.69 L625.02 526.07 L624.7 525.45 L624.4 524.93 L623.58 524.41 L622.45 523.89 L621.33 523.37 L620.5 522.85 L620.2 522.34 Z" fill="#d580f5" stroke="#222" stroke-width="0.35" stroke-linejoin="round"/>
<line x1="613.2" y1="529.17" x2="627.2" y2="529.17" stroke="#222" stroke-width="0.35" stroke-dasharray="1 0.7"/>
<circle cx="613.2" cy="526.38" r="1.4" fill="#000" stroke="none" stroke-width="0.5" />
<circle cx="617.7" cy="526.69" r="1.4" fill="#000" stroke="none" stroke-width="0.5" />
<circle cx="622.7" cy="525.76" r="1.4" fill="#000" stroke="none" stroke-width="0.5" />
<circle cx="627.2" cy="526.69" r="1.4" fill="#000" stroke="none" stroke-width="0.5" />
<circle cx="615.2" cy="529.8" r="1.4" fill="#000" stroke="none" stroke-width="0.5" />
<circle cx="620.2" cy="529.49" r="1.4" fill="#000" stroke="none" stroke-width="0.5" />
<circle cx="625.2" cy="529.8" r="1.4" fill="#000" stroke="none" stroke-width="0.5" />
<circle cx="613.2" cy="533.22" r="1.4" fill="#000" stroke="none" stroke-width="0.5" />
<circle cx="617.7" cy="532.59" r="1.4" fill="#000" stroke="none" stroke-width="0.5" />
<circle cx="622.7" cy="533.22" r="1.4" fill="#000" stroke="none" stroke-width="0.5" />
<circle cx="627.2" cy="532.28" r="1.4" fill="#000" stroke="none" stroke-width="0.5" />
<line x1="620.2" y1="538.5" x2="620.2" y2="541.3" stroke="#8a8a8a" stroke-width="0.7" />
<path d="M640.3 508.91 L640.03 509.7 L639.3 510.48 L638.3 511.27 L637.3 512.06 L636.57 512.85 L636.3 513.63 L635.96 514.57 L635.02 515.5 L633.75 516.43 L632.47 517.36 L631.54 518.3 L631.2 519.23 L631.47 520.16 L632.22 521.09 L633.25 522.03 L634.27 522.96 L635.03 523.89 L635.3 524.82 L635.63 525.83 L636.55 526.83 L637.8 527.84 L639.05 528.84 L639.97 529.85 L640.3 530.85 L640.3 530.85 L640.63 529.85 L641.55 528.84 L642.8 527.84 L644.05 526.83 L644.97 525.83 L645.3 524.82 L645.57 523.89 L646.32 522.96 L647.35 522.03 L648.38 521.09 L649.13 520.16 L649.4 519.23 L649.06 518.3 L648.12 517.36 L646.85 516.43 L645.57 515.5 L644.64 514.57 L644.3 513.63 L644.03 512.85 L643.3 512.06 L642.3 511.27 L641.3 510.48 L640.57 509.7 L640.3 508.91 Z" fill="#d580f5" stroke="#222" stroke-width="0.35" stroke-linejoin="round"/>
<line x1="633.3" y1="519.23" x2="647.3" y2="519.23" stroke="#222" stroke-width="0.35" stroke-dasharray="1 0.7"/>
<circle cx="638.1" cy="513.82" r="1.4" fill="#000" stroke="none" stroke-width="0.5" />
<circle cx="642.5" cy="513.82" r="1.4" fill="#000" stroke="none" stroke-width="0.5" />
<circle cx="633" cy="519.85" r="1.4" fill="#000" stroke="none" stroke-width="0.5" />
<circle cx="638.1" cy="518.92" r="1.4" fill="#000" stroke="none" stroke-width="0.5" />
<circle cx="643" cy="519.23" r="1.4" fill="#000" stroke="none" stroke-width="0.5" />
<circle cx="647.9" cy="518.92" r="1.4" fill="#000" stroke="none" stroke-width="0.5" />
<circle cx="635.7" cy="522.65" r="1.4" fill="#000" stroke="none" stroke-width="0.5" />
<circle cx="640.3" cy="523.58" r="1.4" fill="#000" stroke="none" stroke-width="0.5" />
<circle cx="645.7" cy="522.65" r="1.4" fill="#000" stroke="none" stroke-width="0.5" />
<circle cx="636.7" cy="527" r="1.4" fill="#000" stroke="none" stroke-width="0.5" />
<circle cx="643.9" cy="526.38" r="1.4" fill="#000" stroke="none" stroke-width="0.5" />
<line x1="640.3" y1="538.5" x2="640.3" y2="541.3" stroke="#8a8a8a" stroke-width="0.7" />
<path d="M660.4 473.23 L660.17 473.95 L659.52 474.68 L658.65 475.4 L657.77 476.13 L657.13 476.85 L656.9 477.58 L656.67 478.61 L656.02 479.65 L655.15 480.69 L654.27 481.72 L653.63 482.76 L653.4 483.79 L653.25 484.56 L652.82 485.33 L652.25 486.09 L651.67 486.86 L651.25 487.63 L651.1 488.39 L651.27 489.28 L651.73 490.18 L652.35 491.07 L652.98 491.96 L653.43 492.85 L653.6 493.74 L653.59 494.36 L653.55 494.98 L653.5 495.61 L653.45 496.23 L653.41 496.85 L653.4 497.47 L653.64 498.3 L654.3 499.13 L655.2 499.96 L656.1 500.79 L656.76 501.61 L657 502.44 L657.23 503.17 L657.85 503.89 L658.7 504.62 L659.55 505.34 L660.17 506.07 L660.4 506.8 L660.4 506.8 L660.63 506.07 L661.25 505.34 L662.1 504.62 L662.95 503.89 L663.57 503.17 L663.8 502.44 L664.04 501.61 L664.7 500.79 L665.6 499.96 L666.5 499.13 L667.16 498.3 L667.4 497.47 L667.39 496.85 L667.35 496.23 L667.3 495.61 L667.25 494.98 L667.21 494.36 L667.2 493.74 L667.37 492.85 L667.82 491.96 L668.45 491.07 L669.07 490.18 L669.53 489.28 L669.7 488.39 L669.55 487.63 L669.12 486.86 L668.55 486.09 L667.98 485.33 L667.55 484.56 L667.4 483.79 L667.17 482.76 L666.52 481.72 L665.65 480.69 L664.77 479.65 L664.13 478.61 L663.9 477.58 L663.67 476.85 L663.02 476.13 L662.15 475.4 L661.27 474.68 L660.63 473.95 L660.4 473.23 Z" fill="#d580f5" stroke="#222" stroke-width="0.35" stroke-linejoin="round"/>
<line x1="653.4" y1="488.77" x2="667.4" y2="488.77" stroke="#222" stroke-width="0.35" stroke-dasharray="1 0.7"/>
<circle cx="657.7" cy="479.63" r="1.4" fill="#000" stroke="none" stroke-width="0.5" />
<circle cx="663.1" cy="479.63" r="1.4" fill="#000" stroke="none" stroke-width="0.5" />
<circle cx="654.9" cy="485.97" r="1.4" fill="#000" stroke="none" stroke-width="0.5" />
<circle cx="660.4" cy="484.42" r="1.4" fill="#000" stroke="none" stroke-width="0.5" />
<circle cx="665.9" cy="487.83" r="1.4" fill="#000" stroke="none" stroke-width="0.5" />
<circle cx="660.4" cy="489.7" r="1.4" fill="#000" stroke="none" stroke-width="0.5" />
<circle cx="654.9" cy="493.43" r="1.4" fill="#000" stroke="none" stroke-width="0.5" />
<circle cx="657.7" cy="495.17" r="1.4" fill="#000" stroke="none" stroke-width="0.5" />
<circle cx="663.1" cy="495.17" r="1.4" fill="#000" stroke="none" stroke-width="0.5" />
<circle cx="657.7" cy="498.71" r="1.4" fill="#000" stroke="none" stroke-width="0.5" />
<circle cx="663.1" cy="498.71" r="1.4" fill="#000" stroke="none" stroke-width="0.5" />
<circle cx="665.9" cy="492.5" r="1.4" fill="#000" stroke="none" stroke-width="0.5" />
<line x1="660.4" y1="538.5" x2="660.4" y2="541.3" stroke="#8a8a8a" stroke-width="0.7" />
<path d="M620.2 518.9 V501.6 H639.8 V507" fill="none" stroke="#333" stroke-width="0.55" />
<text font-size="8.8" text-anchor="middle" font-weight="bold" x="630" y="503.9" >****</text>
<path d="M639.8 507 V463.3 H660.7 V472.4" fill="none" stroke="#333" stroke-width="0.55" />
<text font-size="8.8" text-anchor="middle" font-weight="bold" x="650.25" y="465.6" >****</text>
<text font-size="10.4" text-anchor="end" stroke="#000" stroke-width="0.18" transform="translate(622.8 546.1) rotate(-43)" >CD20<tspan font-size="6.45" dy="-3.12">L</tspan><tspan dy="3.12">&#8203;</tspan></text>
<text font-size="10.4" text-anchor="end" stroke="#000" stroke-width="0.18" transform="translate(642.9 546.1) rotate(-43)" >CD20<tspan font-size="6.45" dy="-3.12">M</tspan><tspan dy="3.12">&#8203;</tspan></text>
<text font-size="10.4" text-anchor="end" stroke="#000" stroke-width="0.18" transform="translate(663 546.1) rotate(-43)" >CD20<tspan font-size="6.45" dy="-3.12">H</tspan><tspan dy="3.12">&#8203;</tspan></text>
<text font-size="10.3" fill="#f02a2a" stroke="#f02a2a" stroke-width="0.18" x="61.9" y="656.2" >CD20R</text>
<clipPath id="cl1"><rect x="5.1" y="660.8" width="68" height="67.3"/></clipPath>
<rect x="5.1" y="660.8" width="68" height="67.3" fill="#060000" stroke="none" stroke-width="0.5" />
<g clip-path="url(#cl1)">
<path d="M14.24 717.83h0M57.04 677.97h0M38.79 691.05h0M49.41 713.88h0M11.48 662.71h0M61.93 689.93h0M56.94 660.94h0M35.39 709.36h0M20.66 724.42h0M66.4 662.86h0M6.83 697.24h0M68.96 686.46h0M19.83 689.21h0M7.07 675.72h0M34.88 694.17h0M20.95 676.34h0M19.98 691.73h0M24.81 662.25h0M62.06 698.25h0M48.78 673.31h0M72.59 718.67h0M13.32 683.19h0M54.16 708.66h0M68.78 689.21h0M61.54 705.91h0M25.73 700.34h0M65.11 717.75h0M39.46 700.44h0M7.45 677.14h0M59.32 688.68h0M16.86 697.73h0M52.91 706.19h0M30.58 690.34h0M39.67 713.19h0M40.52 687.27h0M38.4 662.79h0M8.06 708.14h0M71.96 700.72h0M31.86 672.26h0M39.25 726.89h0M57.5 697.12h0M63.6 676.43h0M40.04 724.9h0M44.39 691.7h0M23.41 697.68h0M70.18 661.18h0M58.39 716.02h0M65.36 710.64h0M60.12 695.71h0M43.27 689.48h0M8.92 719.35h0M43.86 674.25h0M39.42 693.44h0M29.36 684.09h0M41.72 702.76h0M46.75 691.63h0M7 676.25h0M17.15 700.13h0M63.65 714.53h0M59.3 715.75h0M22.46 717.45h0M50.87 666.4h0M6.23 661.78h0M56.48 677.6h0M12.55 702.85h0M28.52 665.48h0M15.95 696.29h0M16.53 679.17h0M53.49 691.4h0M27 692.68h0M6.71 686.82h0M33.72 673.46h0M12.5 721.36h0M39.79 674.87h0M46.28 715.79h0M6.52 662h0M15.06 709.18h0M16 708.22h0M51.22 697.46h0M20.1 726.46h0M59.35 695.57h0M20.28 704.44h0M31.95 699.55h0M26.94 703.26h0M9.1 680.9h0M70.92 719.72h0M25.93 718.58h0M26.2 724.01h0M55.68 688.81h0M22.26 661.37h0M64.85 663.35h0M60.82 725.56h0M43.88 672.34h0M64.11 726.34h0M52.97 695.05h0M30.8 684.15h0M19.09 706.17h0M34.54 673.86h0M12.2 705.62h0M25.23 694.44h0M27.22 719.46h0M66.28 662.02h0M18.76 682.86h0M72.22 713.48h0M28.16 675.14h0M50.96 717.18h0M68.49 683.94h0M65.1 707.04h0M38.05 727.12h0M21.06 709.62h0M10.86 672.22h0M67.05 675.13h0M56.72 701.19h0M62.3 685.57h0M28.24 680.4h0M64.08 701.45h0M69.99 720.51h0M14.3 697.89h0M12.19 663.43h0M10.08 719.09h0M58.69 716.56h0M28.28 702.2h0M58.27 686.24h0M43.91 675.86h0M10.66 678.75h0M65.67 698.79h0M68 691.61h0M23.95 713.77h0M61.39 661.63h0M50.69 666.97h0M12.93 720.36h0M7.82 676.93h0M72.29 689.13h0M12.96 672.06h0M21.52 710.87h0M12.09 722.09h0M30.82 726.1h0M66.93 680.59h0M22.33 692.9h0M11.91 704.68h0M7.79 661.51h0M71.92 680.69h0M45.67 691.07h0M26.4 665.04h0M67.21 726.07h0M71.05 668.29h0M19.73 702.38h0M71.74 697.34h0M51.9 705.34h0M22.72 697.25h0" fill="none" stroke="#8a0c08" stroke-width="0.6" stroke-linecap="round" stroke-opacity="0.75"/>
<path d="M33.07 720h0M26.38 678.78h0M28.47 716.73h0M33.11 709.22h0M28.99 685.02h0M47.92 691.88h0M51.41 706.37h0M56.45 681.99h0M49.27 676.98h0M60.03 705.05h0M20.22 689.55h0M37.61 699.24h0M56.18 696.18h0M28.1 681.85h0M36.43 683.37h0M26.09 696.9h0M15.61 686.24h0M53.62 703.11h0M49.16 713.49h0M29.95 714.93h0M23.37 710.71h0M18.61 682.03h0M37.76 707.05h0M38.07 689.7h0M34.89 681.06h0M60.57 692.54h0M35.2 719.33h0M51.42 711.96h0M26.75 677.55h0M33.76 703.37h0M46.35 693.02h0M24.35 681.09h0M41.29 708.09h0M29.01 675.03h0M56.41 692.11h0M51.21 677.77h0M40.75 687.32h0M14.16 688.22h0M47.11 693.7h0M25.24 688.99h0M20.05 708.6h0M18.64 681.4h0M13.02 693.55h0M45.75 681.45h0M53.6 695.66h0M18.7 708.54h0M35.49 672.12h0M16.28 696.31h0M26.17 679.18h0M24.2 680.62h0M42.28 673.12h0M35.9 716.49h0M28.4 692.55h0M16.27 693.87h0M13.52 694.18h0M20.96 707.51h0M40.63 706.27h0M36.99 702.18h0M22.77 693.04h0M36.98 685.24h0M28.52 687.48h0M47.85 714.69h0M32.16 705.85h0M18.08 704.52h0M54.57 692.36h0M34.71 680.81h0M39.04 716.55h0M55.78 701.97h0M38.75 699.85h0M47.27 672.87h0M40.34 717.85h0M27.69 689.61h0M28.54 712.52h0M43.26 695.1h0M49.03 707.54h0M23.92 678.67h0M21.19 676.95h0M38.06 701.46h0M25.32 687.14h0M49.73 683.85h0M33.08 674.57h0M37.97 682.99h0M51.25 714.51h0M42.88 694.8h0M30.36 694.12h0M43.79 673.97h0M42.73 671.75h0M53.3 707.56h0M59.34 693.64h0M32.46 678.01h0M37.64 677.92h0M34.74 701.21h0M14.19 698.4h0M60.47 690.84h0M19.02 692.41h0M42.07 675.11h0M22.2 714.21h0M23.93 705.26h0M30.79 678.05h0M43.99 709.85h0M45.23 697.78h0M58.11 705.53h0M22.31 712.6h0M32.87 718.73h0M53.43 677.26h0M29.68 678.83h0M43.93 675.19h0M37.37 673.75h0M22.01 696.62h0M47.49 704.61h0M37.33 671.11h0M21.05 686.97h0M15.9 689.24h0M32.13 712.46h0M21.66 676.16h0M23.86 689.03h0M60.1 685.68h0M57.39 680.49h0M25.19 706.91h0M22.79 711.13h0M43.59 706.42h0M26.45 687.97h0M36.92 713.37h0M32.04 680.03h0M16.8 697.22h0M50.26 697.41h0M53.25 690.4h0M41.5 688.83h0M56.63 694.79h0M23.96 715.67h0M52.18 706.45h0M34.72 712.58h0M51.61 677.74h0M50.8 703.42h0M32.94 712.73h0M21.78 693.15h0M51.45 694.6h0M38.65 681.07h0M62.91 696.68h0M21.7 691.01h0M43.92 712.79h0M55.89 690.55h0M29.43 688.59h0M28.29 714.12h0M17.41 690.1h0M16.31 685.35h0M32.34 683.49h0M44.2 676.57h0M19.49 680.55h0M29.51 677.55h0M53.96 683.01h0M41.3 711.35h0M37.77 708.41h0M23.7 710.01h0M15.67 688.76h0M33.84 686.33h0M45.51 688.66h0M27.34 687.42h0M61.25 687.89h0M24.24 708.41h0M16.55 700.95h0M16.6 706.83h0M33.26 691.66h0M61.98 692.74h0M42.05 683.95h0M31.58 703.22h0M50.14 687.97h0M26.31 712.32h0M38.58 689.56h0M28.18 704.99h0M18.43 703h0M31.92 694.58h0M45.93 688.54h0M23.29 696.47h0M41.51 694.7h0M58.14 691.32h0M21.23 699.51h0M20.77 702.13h0M47.16 700.15h0M51.09 715.45h0M23.61 679.08h0M45.77 672.14h0M41.44 671.81h0M46.12 712.18h0M17.92 705.28h0M34.6 674.95h0M39.33 686.95h0M23.68 707.72h0M35 711.4h0M21.41 691.59h0M29.25 702.62h0M31.62 702.95h0M50.03 676.84h0M37.61 706.47h0M26.94 692.63h0M50.98 681.28h0M29.26 702.41h0M37.46 680.11h0M30.23 690.32h0M33.31 715.45h0M34.2 681.19h0M24.75 698.42h0M21.4 684.26h0M37.62 701.39h0M28.81 716.35h0M32.31 689.37h0M29.1 694.87h0M46.07 690.86h0M24.71 679.43h0" fill="none" stroke="#b8140e" stroke-width="0.8" stroke-linecap="round" stroke-opacity="0.85"/>
<path d="M33.45 707.13h0M27.16 704.26h0M20.78 685.87h0M50.12 696.92h0M31.46 693.14h0M14.65 696.3h0M15.53 695.1h0M60.8 693.06h0M31.46 718.45h0M41.63 692.83h0M44.73 709.93h0M33.48 675.62h0M22.83 699.93h0M21.55 704.9h0M32.12 702.8h0M36.51 718.25h0M21.98 706.89h0M34.66 715.42h0M56.54 690.39h0M48.31 713.43h0M60.16 683.51h0M42.98 679.89h0M30.64 700.07h0M38.04 717.1h0M43.72 710.55h0M35.04 714.49h0M27.95 704.39h0M26.54 709.82h0M22.22 701.35h0M17.75 696.29h0M38.23 696.78h0M51.83 694.18h0M24.58 682.59h0M45.35 677.54h0M20.85 696.99h0M25.41 711.62h0M32.84 673.59h0M31.83 673.41h0M53.92 683.22h0M44.86 713.52h0M35.25 676.31h0M28.61 693.71h0M35.03 703.11h0M29.92 695.69h0M25.28 714.82h0M35.16 688.12h0M22.47 695.79h0M46.58 684.09h0M16.76 683.42h0M53.75 679.98h0M40.49 693.64h0M34.81 690.14h0M41.77 692.58h0M40.55 690.91h0M43.2 700.32h0M49.16 678.34h0M20.96 688.44h0M28.13 708.36h0M41.21 690.64h0M44.22 679.59h0M29.46 698.47h0M31.83 672.88h0M41.67 697.67h0M36.33 681.62h0M32.43 710.96h0M24.31 690.11h0M44.29 683.51h0M25.47 708.68h0M27.14 711.27h0M45.59 676.87h0M33.39 709.72h0M51.48 714.26h0M57.96 684.34h0M27.75 693.19h0M37 703.53h0M25.66 681.7h0M48.18 715.62h0M50.66 695.15h0M43.09 677.19h0M47.75 681.5h0M31.49 715.45h0M21.26 706.3h0M14.23 687.46h0M29.09 710.04h0M28 708.32h0M59.08 691.36h0M54.09 712.94h0M33.82 687.7h0M54.45 710.55h0M19.91 711.17h0M52.54 683.6h0M60.24 683.74h0M44.26 685.22h0M33.59 680.02h0M47 708.06h0M33.58 683.22h0M26.29 708.22h0M31.7 678.24h0M46.5 673.59h0M23.48 695.88h0M45.57 704.93h0M33.18 684.43h0M41.39 695.4h0M32.37 690.38h0M27.59 672.84h0M23.31 684.37h0M33.33 703.65h0M40.28 675.18h0M56.24 705.27h0M32.52 707.38h0M46.96 697.16h0M56.48 686.84h0M27.22 717.65h0M20.92 687.9h0M54.46 701.31h0M22.21 698.01h0M36.1 691.32h0M51.99 713.29h0M50.14 675.83h0M25.65 706.73h0M43.54 676.99h0M58.17 700.29h0M45.82 697.52h0M22.9 694.53h0M44.84 674.07h0M20.92 710.87h0M36.21 687.68h0M40.76 674.61h0M58.76 684.67h0M31.95 701.2h0M26.92 675.86h0M41.11 694.12h0M22.57 691.53h0M30.27 682.77h0M27.52 680.12h0M13.38 698.63h0M62.41 697.23h0M59.15 693.39h0M28.96 700.45h0M36.14 681.14h0M37.34 710.2h0M28.39 697.28h0M57.02 705.66h0M48.56 700.84h0M23.61 713.58h0M56.63 707.29h0M29.58 685.94h0M32.08 673.69h0M37.76 696.82h0M44.16 716.01h0M18.41 697.55h0" fill="none" stroke="#ea261a" stroke-width="1.1" stroke-linecap="round" stroke-opacity="0.95"/>
<path d="M11.23 694.81h0M58.38 710.15h0M43.44 720.64h0M63.36 688.03h0M21.49 715.55h0M63.95 692.17h0M13.21 702.02h0M63.4 702.57h0M64.26 693.69h0M44.87 671.33h0M62.61 684.24h0M59.45 681.21h0M15.74 681.1h0M43.47 670.89h0M14.96 709.1h0M56.66 712h0M13.51 687.07h0M16.01 682.54h0M13.56 704.02h0M43.44 720.35h0M52.82 715.97h0M48.83 671.87h0M20.43 676.19h0M35.26 721.9h0M32.66 720.77h0M27.59 719.25h0M16.77 681.95h0M62.05 704.29h0M64.31 692.16h0M63.9 696.84h0M59.55 708.4h0M12.49 696.85h0M64.09 698.81h0M30.28 670.77h0M63.32 687.17h0M13.01 699.95h0M26.74 672.87h0M14.09 704.18h0M14.42 705.24h0M63.46 696.65h0M15.86 681.21h0M64.19 693.44h0M54.69 713.34h0M40.43 719.78h0M30.06 670.63h0M45.88 720.21h0M17.52 711.47h0M36.83 669.72h0M20.82 713.63h0M27.36 718.93h0M58.83 708.29h0M37.47 669.96h0M58.19 710.97h0M11.29 693.37h0M62.81 696.74h0" fill="none" stroke="#d01c12" stroke-width="0.95" stroke-linecap="round" stroke-opacity="0.9"/>
<path d="M16.2 707.24h0M13.46 702.72h0M59.24 680.98h0M26.6 671.66h0M46.76 718.47h0M49.14 718.73h0M22.87 675.31h0M27.23 719.34h0M64.09 697.74h0M47.17 671.23h0M52.98 674.44h0M19.03 677.57h0M49.9 717.96h0M35.75 721.38h0M35.84 669.65h0M56.54 675.76h0M54.29 674.74h0M37.4 669.58h0M27.53 719.39h0M54.94 677.29h0M56.99 712.56h0M15.47 681.44h0M24.32 718.65h0M61.64 684.29h0M44.09 720.02h0M46.35 719.72h0M27.88 672.07h0M11.35 699.76h0M63.44 687.17h0M31.28 670.8h0M12.63 695.12h0M27.54 672.8h0M17.78 678.91h0M28.36 719.59h0M57.98 678.63h0M20.56 677.47h0M36.57 670.04h0M55.52 676.08h0M13.98 683.06h0M31 719.99h0M55.16 675.47h0M20.43 676.43h0M63.81 695.54h0M26.59 672.69h0M15.6 682.13h0M64.41 697.24h0M63.94 693.56h0M61.62 706.46h0M61.24 705.11h0M25.01 718.19h0M45.52 719.67h0M13.24 687.02h0M57.78 677.72h0M13.9 686.44h0M63.8 697.98h0" fill="none" stroke="#e0241c" stroke-width="1.1875" stroke-linecap="round" stroke-opacity="1"/>
</g>
<rect x="50.2" y="724.2" width="19.9" height="1.7" fill="#b0b0b0" stroke="none" stroke-width="0.5" />
<clipPath id="cl2"><rect x="77.1" y="660.8" width="67.8" height="67.3"/></clipPath>
<rect x="77.1" y="660.8" width="67.8" height="67.3" fill="#060000" stroke="none" stroke-width="0.5" />
<g clip-path="url(#cl2)">
<path d="M141.92 724.59h0M80.93 666.51h0M133.75 710.33h0M122.51 681.54h0M118.18 701.64h0M116.51 671.46h0M106.3 687.28h0M126.12 727.75h0M141.47 697.42h0M107.26 678.85h0M79.54 662.65h0M108.62 682.23h0M102.87 720.82h0M112.75 698.52h0M93.11 662.41h0M99.14 670h0M111.69 728.01h0M122.83 673.04h0M137.68 714.42h0M126.89 721.81h0M128.82 713.95h0M101.09 726.82h0M142.32 671.65h0M128.22 708.93h0M108.38 696.49h0M110.32 723.04h0M111.06 716.76h0M101.1 720.22h0M138.1 691.83h0M115.59 722.74h0M126.17 693.55h0M92.14 682.65h0M124.53 671.98h0M138.66 678.85h0M138.89 681.63h0M142.01 708.33h0M111.29 695.64h0M121.27 700.37h0M98.24 674.79h0M111.81 723.67h0M119.36 665.87h0M132.72 709.66h0M138.64 673.68h0M127.6 664.75h0M121.37 679.18h0M92.46 719.72h0M84.3 695.96h0M135 677.28h0M91.37 720.06h0M105.77 709.05h0M79.26 685.19h0M88.75 706.08h0M82.72 725.04h0M78.82 709.89h0M78.53 678.01h0M132.25 671.37h0M89.56 707.34h0M103.24 663.7h0M144.22 670.99h0M79.56 683.96h0M118.81 710.77h0M84.77 683.49h0M79.19 690.99h0M129.03 710.6h0M138.26 711.66h0M135.57 708.27h0M109.15 675.98h0M121.9 682.09h0M84.02 690.94h0M136.41 669.38h0M116.76 687.25h0M112 670.48h0M142.17 678.24h0M118.19 689.05h0M78.32 698.35h0M86.63 664.62h0M79.38 671.65h0M83.6 703.54h0M111.56 726.99h0M140.43 727.73h0M92.86 690.73h0M94.1 700.59h0M119.42 714.65h0M125.2 678.07h0M105.78 696.21h0M77.43 663.19h0M104.81 668.28h0M126.17 677.01h0M83.86 673.03h0M92.8 675.43h0M112.41 692.05h0M98.1 703.99h0M91.5 721.81h0M142.4 709.86h0M106.51 695.22h0M116.5 664.25h0M105.44 696.14h0M89.39 667.11h0M131.52 685.44h0M112.3 722.81h0M118.49 680.29h0M143.78 685.85h0M78.39 706.92h0M83.96 681.39h0M134.09 706.06h0M78.17 691.18h0M104.94 693.5h0M91.22 700.42h0M82.1 679.94h0M102.38 723.74h0M82.29 711.61h0M90.14 699.27h0M103.66 691.98h0M128.19 687.39h0M85.35 669h0M82.56 718.01h0M120.56 725.39h0M124.06 662.46h0M121.79 713.11h0M126.15 694.31h0M101.34 691.56h0M131.25 678.9h0M112.78 692.94h0M141.83 714.93h0M140.29 717.06h0M97.22 676.39h0M110.24 678.26h0M106.09 706.51h0M139.38 700.23h0M132.55 667.26h0M101.24 727.95h0M87.03 688.85h0M81.63 666.6h0M137.81 727.34h0M121.04 669.45h0M97.19 676.39h0M122.58 706.64h0M106.85 696.06h0M84.7 697.2h0M141.51 711.66h0M83.62 695.56h0M125.6 678.11h0M137.77 691.82h0M124.78 688h0M144.57 713.48h0M115.98 670.54h0M107.01 662.78h0M117.45 720.15h0M89.33 695.13h0M109.81 688.05h0" fill="none" stroke="#8a0c08" stroke-width="0.6" stroke-linecap="round" stroke-opacity="0.75"/>
<path d="M106.02 667.59h0M111.81 671.6h0M119.88 683.53h0M94.27 707.5h0M110.56 691.9h0M106.38 668.31h0M113.78 690.8h0M109.74 672.45h0M118.72 688.2h0M113.64 681.92h0M102.54 687.84h0M125.61 710.5h0M111.94 715.09h0M131.27 694.48h0M100.01 673.95h0M112.67 682.6h0M115.93 677.11h0M120.66 708.34h0M111.63 696.91h0M128.91 690.43h0M98.94 707.05h0M104.5 715.77h0M118.9 680.51h0M118.36 672.89h0M116.72 686.98h0M96.99 707.35h0M119.12 678.69h0M109.23 701.4h0M132.66 677.43h0M105.33 678.65h0M115.9 681.41h0M101.44 681.33h0M98.32 716.79h0M90.63 693.72h0M111.33 670.04h0M134.43 684.14h0M106.86 715.96h0M128.41 689.5h0M121.46 686.54h0M115.46 697.41h0M95.74 715.57h0M113.65 675.98h0M114.37 719.03h0M112.68 707.67h0M103.75 709.21h0M121.46 698h0M114.71 672.82h0M129.48 693.8h0M101.79 683.66h0M96.06 681.98h0M139.73 691.36h0M96.42 699.05h0M120.56 696.67h0M129.96 713.39h0M108.53 686.69h0M108.97 689.16h0M113.36 713.18h0M119.94 718.37h0M90.64 690.78h0M123.71 698.24h0M95.27 676.55h0M108.55 674.43h0M116.72 701.59h0M104.15 685.16h0M107.15 712.14h0M92.92 709.4h0M105.89 671.47h0M118.98 713.15h0M96.74 677.49h0M106.82 695.03h0M122.99 671.5h0M138.91 686.13h0M129 681.78h0M92.76 706.27h0M107.46 685.96h0M102.36 712.47h0M115.4 671.52h0M101.2 695.89h0M96.75 679.42h0M106.59 707.35h0M102.37 710.13h0M114.18 690.86h0M119.26 701.99h0M107.44 699.29h0M131.13 682.31h0M104.24 721h0M118.58 715.5h0M93.97 681.54h0M107.44 685.18h0M98.42 706.11h0M97.78 706.57h0M115.02 706.5h0M115.63 686.55h0M109.59 688.32h0M93.42 692.8h0M93.03 682.72h0M113.13 698.27h0M91.94 688.89h0M120.69 690.8h0M130.59 705.71h0M121.64 705.9h0M87.65 698.54h0M98.28 717.55h0M130.54 709.34h0M133.37 686.52h0M127.58 681.83h0M127.57 696.69h0M134.44 695.3h0M92.11 688.56h0M131.55 699.97h0M118.21 668.97h0M119.98 688.97h0M129.56 694.81h0M93.25 691.88h0M120.71 688.9h0M97.09 698.27h0M95.2 685.3h0M88.72 704.45h0M106.11 685.26h0M105.03 667.24h0M100.33 688.13h0M116.63 717h0M104.34 719.07h0M93.05 687.77h0M112.8 717.48h0M122.64 678.63h0M93.99 686.96h0M135.51 686.55h0M87.52 693.21h0M95.6 681.56h0M139.1 687.47h0M95.59 678.21h0M125.15 711.88h0M96.4 705.04h0M118.32 677.74h0M97.09 686.45h0M117.54 668.79h0M103.98 696.7h0M98.54 711.23h0M129.96 704.35h0M117 694.66h0M88.13 697.6h0M127.4 678.3h0M104.24 718.88h0M113.56 718.9h0M125.59 677.88h0M121.01 708.74h0M104.46 668.21h0M118.72 709.49h0M123.69 690.91h0M125.36 681.09h0M121.55 698.12h0M133.12 705.19h0M121.81 685.92h0M126.53 709.13h0M97.3 679.4h0M130.72 708.83h0M136.14 680.62h0M100.87 683.49h0M111.12 681.79h0M115.87 694.57h0M107.66 668.43h0M127.02 712.02h0M131.18 702.48h0M130.23 710.66h0M105.98 714.66h0M104.59 692.22h0M96.84 700.95h0M120 680.26h0M105.84 678.23h0M101.5 675.53h0M97.79 690.44h0M113.75 712.55h0M96.34 707.47h0M113.8 704.13h0M110.36 695.18h0M136.58 694.39h0M96.27 703.97h0M117.22 680.11h0M114.46 695.16h0M122.18 677.41h0M121.24 672.45h0M88.64 705.26h0M89.77 691.78h0M88.95 683.94h0M103.57 721.29h0M118.73 669.08h0M90.85 682.69h0M132.87 697.6h0M117.57 690.65h0M134 687.84h0M114.62 699.43h0M130.69 690.93h0M101.32 700.73h0M108.32 684.72h0M116.51 676.93h0M94.32 715.43h0M113.37 675.13h0M130.02 681.8h0M107.91 668.61h0M112.28 697.86h0M101.32 674.58h0M101.28 701.38h0M131.14 680.42h0M112.96 706.9h0M107.64 683.44h0M138.96 694.2h0M103.98 682.6h0M110.74 702.22h0M116.41 667.6h0M91.71 697.58h0M95.95 716.61h0M130.2 693.7h0M127.93 705.88h0M92.83 699.2h0" fill="none" stroke="#b8140e" stroke-width="0.8" stroke-linecap="round" stroke-opacity="0.85"/>
<path d="M87.44 698.7h0M119.34 719.3h0M105.41 679.67h0M108.05 694.02h0M118.01 669.38h0M87.49 687.6h0M118.5 673.36h0M114.27 712.45h0M107.86 721.56h0M120.91 709.6h0M96.45 673.86h0M122.73 701.97h0M100.79 707.57h0M107.72 716.4h0M101.74 719.49h0M119.77 703.76h0M100.67 700.86h0M91.27 704.63h0M88.17 690.38h0M118.91 690.05h0M113.12 691.64h0M105.65 703.82h0M124.29 709h0M124.05 708.95h0M118.82 700.18h0M95.41 686.68h0M114.89 666.96h0M131.5 698.02h0M123.59 696.99h0M99.87 678.95h0M98.79 697.42h0M122.23 673.46h0M108.82 720.92h0M87.09 689.79h0M95.77 700.09h0M99.55 696.4h0M99.16 687.17h0M93.41 678.54h0M106.28 679.89h0M119.85 681.15h0M120.49 685.06h0M120.2 669.2h0M113.55 706.66h0M96.54 706.01h0M119.18 701.65h0M107.03 668.51h0M91.61 706.26h0M122.41 674.05h0M116.86 690.88h0M123.76 699.52h0M108.17 716.71h0M123.17 705.87h0M96 698.03h0M121.32 674.51h0M97.78 671.99h0M96.44 713.75h0M104.11 678.79h0M122.43 716.1h0M128.28 684.77h0M111.05 687.87h0M115.79 714.93h0M109.69 675.15h0M92.54 693.61h0M127.11 671.4h0M115.48 714.56h0M104.88 703.48h0M95.2 678.06h0M117.69 715.83h0M132.19 706.26h0M137.48 695.83h0M95.9 685.77h0M116.6 680.13h0M114 699.09h0M114.53 683.61h0M97.74 674.15h0M116.49 691.8h0M104.22 676.68h0M97.28 715.42h0M91.26 683.33h0M108.22 701.58h0M103.64 680.83h0M134.13 687.6h0M113.6 681.2h0M87.68 687.36h0M123.62 673.81h0M122.29 702.37h0M111.27 714.97h0M135.27 683.17h0M117.26 701.26h0M103.3 670.19h0M108.21 704.54h0M111.02 708.34h0M88.62 691.34h0M115.07 667.01h0M92.45 690.48h0M126.07 681.62h0M105.8 685.8h0M87.57 692.85h0M133.46 704.61h0M116.63 717.58h0M111.96 708.83h0M117.27 708.36h0M116.63 689.93h0M106.03 716.4h0M133.21 689.56h0M114.18 695.52h0M115.93 690.9h0M135.96 682.34h0M125.85 697.08h0M120.98 685.21h0M115.45 680.83h0M101.17 694.7h0M92.61 685.01h0M126.34 698.12h0M114.59 715.53h0" fill="none" stroke="#ea261a" stroke-width="1.1" stroke-linecap="round" stroke-opacity="0.95"/>
<path d="M85.29 695.17h0M93.53 676.19h0M86.94 682.81h0M139.54 684.41h0M89.58 710.92h0M116.01 665.85h0M85.73 689.08h0M136.21 706.28h0M118.68 667.69h0M108.31 666.06h0M131.26 674.19h0M137.78 703.87h0M85.64 700.92h0M102.56 667.71h0M107.87 722.57h0M86.47 700.11h0M123.36 668.88h0M86.03 694.5h0M86.36 700.94h0M117.97 666.27h0M110.16 665.55h0M122.61 718.63h0M126.08 669.46h0M110.44 665.95h0M131.17 714.24h0M138.91 683.01h0M105.65 666.51h0M87.36 703.15h0M94.59 674.31h0M112.76 721.86h0M84.86 692.43h0M94.55 672.02h0M141.07 690.93h0M86.05 688.41h0M108.24 724.28h0M90.59 714.28h0M96.63 718.93h0M97.23 669.21h0M91.73 675.84h0M100.75 666.74h0M87.81 679.78h0M120.37 720.53h0M108.2 722.86h0M85.77 696.74h0M86.71 685.59h0M100.05 720.21h0M87.52 682.73h0M106.52 665.75h0M93.44 674.37h0M88.23 707.98h0M93.93 673.87h0M98.36 720.26h0M99.87 721.5h0M88.38 705.42h0M139.88 689.96h0M89.9 677.43h0M87.55 682.96h0M91.11 714.08h0M116.48 665.97h0M97.32 718.84h0M113.56 723.05h0M93.57 673.57h0M90.03 712.26h0M86.21 685.9h0M106.4 665h0M101.24 668.16h0M103.52 665.82h0M84.81 689.83h0M111.08 665.51h0M85.51 690h0M84.71 686.13h0M109.21 665.31h0M111.89 666.49h0M129.12 670.97h0M134 675.82h0M84.72 690.6h0M118.7 666.9h0M102.08 721.26h0M106.98 665.74h0M91.75 677.35h0M139.34 685.44h0M87.84 680.23h0M118.7 665.94h0M119.53 720.34h0M128.44 717.34h0M101.21 667.08h0M136.11 677.41h0M96.49 718.81h0M105.58 723.73h0M94.55 673.35h0M87.04 705.21h0M91.8 675.99h0M140.53 695.97h0M121.3 720.6h0M110.48 722.82h0M139.32 686.23h0M116.78 666.57h0M140.05 684.46h0M121.65 668.62h0M141.2 691.44h0M97.39 670.16h0M87.91 705.22h0M88.68 681.02h0M138.83 697.75h0M140.52 696.15h0M92.59 675.5h0M87.53 705.96h0M88.02 707.19h0M86.15 702.28h0M104.44 666.06h0M86.74 683.84h0M126.86 670.41h0M86.63 703.25h0M86.05 696.66h0M136.1 706.87h0M86.06 704.8h0M138.79 680.35h0M126.87 716.1h0M90.67 713.85h0M121.82 719.32h0M139.69 687.66h0M85.53 686.57h0M96.92 670.71h0M94.28 673.83h0M114.87 721.89h0M121.97 720.54h0M85.51 695.58h0M87.57 707.17h0M118.34 720.77h0M115.65 666.86h0M118.9 666.59h0M134.94 677.61h0M126.57 717.86h0M109.8 665.46h0M99.53 668h0M90.74 712.41h0M87.25 683.16h0M135.32 676.52h0M102.12 666.93h0M97.8 669.99h0M86.32 701.84h0M87.17 706.29h0M133.79 674.99h0M95.63 671.77h0M103.96 722.16h0M118.34 666.57h0M107.84 722.76h0M86.02 696.7h0M93.94 674.75h0M133.8 711.85h0M94.04 717.55h0M90.73 712.35h0M140.09 695.85h0M87.22 702.08h0M87.52 682.65h0M88.18 706.5h0M106.82 665.91h0M95.16 672.34h0M90.79 714.57h0M105.3 665.93h0M89.03 706.46h0" fill="none" stroke="#d01c12" stroke-width="1.2" stroke-linecap="round" stroke-opacity="0.9"/>
<path d="M93.75 717.37h0M132.08 674.02h0M119.54 720.85h0M136.63 679.83h0M121.65 667.86h0M140 688.48h0M99.46 669.77h0M103.65 722.7h0M90.49 713.14h0M141.49 691.52h0M94.67 673.33h0M124.55 668.87h0M92.05 714.8h0M87.42 705.87h0M84.96 688.52h0M91.86 675.81h0M137.63 703.55h0M137.67 704.93h0M91.63 677.13h0M87.62 705.74h0M107.23 664.51h0M92.59 675.27h0M134.62 709.44h0M105.08 665.41h0M103.12 667.81h0M136.91 679.07h0M104.15 721.49h0M89.58 679.43h0M122.55 668.44h0M113.67 665.15h0M90.59 713.5h0M101.08 667.36h0M99.31 668.75h0M84.82 691.55h0M117.7 721.13h0M122.68 719.22h0M96.25 669.83h0M102.14 667.35h0M102.47 720.99h0M101.89 668.38h0M89.09 678.91h0M110.94 665.03h0M123.46 667.79h0M129.49 715.2h0M85.4 695.37h0M101.04 667.47h0M109.2 664.43h0M85.43 688.76h0M128.22 716.66h0M119.13 721.03h0M115.76 665.85h0M85.97 685.21h0M115.34 666.2h0M99.78 669.24h0M104.28 722.73h0M138.95 698.21h0M95.04 717.05h0M140.45 695.33h0M85.6 696.68h0M114 722.07h0M109.38 724.22h0M99.69 668.22h0M96.9 670.13h0M110.42 723.7h0M86.37 691.58h0M97.03 670.52h0M123.44 719.74h0M93.65 673.82h0M104.01 722.22h0M85.14 688.19h0M87.78 701.99h0M85.06 689.69h0M109.46 723.39h0M102.24 666.5h0M85.79 697.51h0M86.31 685.93h0M108.51 722.16h0M140.5 693.17h0M101.29 667.7h0M85.24 689.09h0M136.95 678.01h0M98.1 669.66h0M100.88 721.89h0M121.22 719.36h0M101.35 721.2h0M137.29 702.96h0M85.71 693.33h0M113.73 665.89h0M85.54 697.57h0M86.57 699.78h0M139.65 699.1h0M138.28 700.29h0M136.96 703.63h0M93.18 674.62h0M84.35 692.95h0M139.3 682.83h0M90.56 676.86h0M123.38 718.45h0M98.19 720.15h0M88.35 678.55h0M99.17 669.15h0M131.12 673.54h0M127.28 716.39h0M115.91 666.35h0M110.46 665.62h0M95.49 717h0M85.23 695.76h0M98.09 720.16h0M86.65 683.5h0M104.03 722.69h0M100.67 667.77h0M130.5 671.23h0M132.89 676.11h0M114.42 721.81h0M121.6 668.59h0M135.7 678.64h0M116.35 666.9h0M85.43 690.68h0M137.15 680.48h0M127.81 717.22h0M84.83 687.48h0M89.96 711.4h0M122.94 720.19h0M86.42 698.04h0M89.5 679.47h0M88.6 680.7h0M135.29 677.09h0M132.62 713.64h0M96.4 719.02h0M85 692.73h0M91.99 713.56h0M87.39 682.66h0M93.98 673.27h0M112.05 664.74h0M89.97 677.55h0M85.11 691.41h0M85.62 699.53h0M91.74 715.59h0M117.57 720.87h0" fill="none" stroke="#f0302a" stroke-width="1.5" stroke-linecap="round" stroke-opacity="1"/>
<circle cx="114.4" cy="701.4" r="1.7" fill="#f23c2c" stroke="none" stroke-width="0.5" />
<circle cx="111.6" cy="704.8" r="1.3" fill="#f23c2c" stroke="none" stroke-width="0.5" />
<circle cx="116.8" cy="707.2" r="1.5" fill="#f23c2c" stroke="none" stroke-width="0.5" />
<circle cx="113.4" cy="708.8" r="1.2" fill="#f23c2c" stroke="none" stroke-width="0.5" />
<circle cx="110" cy="702" r="0.9" fill="#f23c2c" stroke="none" stroke-width="0.5" />
</g>
<clipPath id="cl3"><rect x="39.3" y="741.9" width="68" height="67.7"/></clipPath>
<rect x="39.3" y="741.9" width="68" height="67.7" fill="#060000" stroke="none" stroke-width="0.5" />
<g clip-path="url(#cl3)">
<path d="M55.48 778.74h0M64.46 782.79h0M81.85 746.34h0M40.2 798.6h0M56.94 757.76h0M107 773.74h0M96.18 774.15h0M82.76 752.1h0M82.47 800.67h0M74.88 792.08h0M84.96 746.23h0M90.86 781.92h0M59.79 744h0M98.16 773.91h0M88.18 801.4h0M87.86 804.26h0M66.16 796.12h0M69.53 805.24h0M99.06 748.5h0M48.55 756.59h0M104.95 771.43h0M81.91 762.28h0M73.79 768.02h0M63.16 781.51h0M79.03 803.11h0M85.67 804.79h0M97.54 808.99h0M84.95 752.94h0M97.82 807.21h0M100.82 780.43h0M87.84 756.19h0M95.85 780.73h0M58.68 746.2h0M97.37 808.91h0M45.32 796.1h0M67.21 752.11h0M59.28 793.95h0M98.65 744.89h0M81.09 744.94h0M88.15 764.31h0M99.2 808.29h0M73.67 809.5h0M60.36 747.11h0M80.08 744.02h0M52.72 769.52h0M80.81 752.47h0M42.19 800.65h0M60.64 806.8h0M100.27 767.48h0M70.61 777.11h0M83.08 782.23h0M77.33 783.88h0M103.26 776.23h0M68.62 790.67h0M55.46 762.28h0M105.79 777.18h0M76.59 742.68h0M67.53 781.16h0M40.66 783.59h0M82.29 745.97h0M81.96 773.47h0M85.49 765.77h0M87.37 791.86h0M40.81 746h0M85.27 807.12h0M56.38 772.79h0M79.6 763.57h0M64.05 763.07h0M64.4 782.22h0M59.73 767.43h0M91.81 743.72h0M78.01 791.67h0M60.38 756.97h0M93.96 758.06h0M52.04 771.37h0M86.77 748.79h0M61.19 764.5h0M95.98 771.58h0M97.48 753.36h0M62.2 785.92h0M99.47 772.44h0M54.6 750.09h0M75.31 754.82h0M94.16 798.66h0M51.78 760.76h0M94.19 785.36h0M94.13 765.28h0M48.12 761.66h0M93.28 760.26h0M62.85 770.12h0M67.84 769.62h0M101.9 752.46h0M39.62 805.76h0M99.14 808.71h0M68.84 806.23h0M102.36 756.94h0M90 798.54h0M84.38 777.04h0M58.95 764.99h0M54.77 746.51h0M79.33 761.33h0M94.39 744.95h0M100.75 788.86h0M102.12 802.6h0M100.48 780.96h0M40.19 792.36h0M50.98 762.2h0M84.38 777.44h0M67.44 805.47h0M80.93 765.01h0M56.47 800.23h0M71.75 794.86h0M63.23 755.26h0M75.66 797.2h0M50.95 795.5h0M101.98 796.47h0M95.3 742.41h0M82.05 800.29h0M42.7 760.27h0M57.56 777.6h0M68.06 773.92h0M92.1 742.02h0M43.03 750.49h0M47.77 746.53h0M105.58 799.75h0M45.16 775.89h0M60.78 763.2h0M63.19 785.7h0M79.19 766.33h0M52.29 764.16h0M47.72 779.51h0M87.99 767.64h0M44.73 753.99h0M64.68 782.82h0M92.52 767.64h0M93.78 784.07h0M68.65 767.11h0M73.04 789.49h0M67.89 788.89h0M70.64 758.49h0M75.74 788.96h0M44.17 770.66h0M68.26 801.45h0M102.98 767.24h0M100.35 795.45h0M57.13 773.32h0M47.67 796.96h0M84.34 801.97h0M93.19 787.09h0M89.19 780.07h0" fill="none" stroke="#8a0c08" stroke-width="0.6" stroke-linecap="round" stroke-opacity="0.75"/>
<path d="M81.34 780.39h0M76.24 779.7h0M92.13 793.29h0M88.68 751.03h0M76.02 770.37h0M65.22 794.65h0M67.51 779.74h0M91.51 772.66h0M86.58 795.82h0M93.14 789.09h0M56.44 773.67h0M69.68 758.7h0M76 764.86h0M87.45 752.64h0M51.5 778.51h0M55.36 790.02h0M69.98 753.41h0M73.75 788.16h0M79.73 797.34h0M89.97 769.45h0M75.09 760.2h0M75.11 747.8h0M60.57 794.92h0M63.77 770.8h0M66.68 767.06h0M69.19 767.69h0M84.24 788.29h0M57.85 763.62h0M94.51 785.31h0M72.7 793.41h0M57.82 787.67h0M81.14 793.11h0M84.26 752.32h0M83.16 749.48h0M59.28 789.88h0M56.73 755.23h0M69.26 774.7h0M63.61 761.06h0M88.17 758.02h0M83.93 749.07h0M60.69 790.68h0M63.51 777.52h0M72.43 761.23h0M74.4 790.63h0M63.7 751.11h0M92.8 772.53h0M67.24 796.48h0M86.5 783.44h0M72.91 751.65h0M63.1 782.67h0M70.59 754.48h0M76.47 802.33h0M82.86 773.19h0M80.2 780.69h0M58.08 768.68h0M55.33 760.45h0M86.22 773.07h0M85.07 755.37h0M85.59 756.15h0M67.17 776.43h0M72.78 757.55h0M95.57 765.5h0M95.36 773.86h0M57.24 771.63h0M77.01 757.46h0M87.43 768.29h0M77.85 783.94h0M68.99 795.39h0M59.75 782.59h0M88.05 796.08h0M100.81 771.6h0M55.17 780.41h0M49.44 781.81h0M70.45 789.06h0M84.04 776.33h0M98.09 772.48h0M59.05 759.24h0M75.67 750.35h0M76.17 778.98h0M61.5 752.87h0M60.45 764.8h0M80.06 786.52h0M63.42 791.02h0M89.67 754.16h0M70.81 772.51h0M66.53 761.11h0M95.98 758.47h0M70.88 803.41h0M83.51 785.98h0M91.07 785.16h0M86.28 755.78h0M88.57 776.2h0M84.07 768.92h0M83.8 800.2h0M98.92 783.77h0M99.7 765.16h0M74.82 792.96h0M89.84 777.86h0M56.82 771.24h0M80.73 764.24h0M91.49 773.27h0M76.76 777.85h0M82.06 747.64h0M61.94 766.25h0M52.77 759.15h0M65.75 764.06h0M56.36 781.42h0M94.08 755.23h0M51.88 787.53h0M59.03 792.17h0M93.46 779.41h0M51.59 770.5h0M70.63 767.02h0M60.79 789.28h0M71.67 787.78h0M73 777.67h0M56.6 774.34h0M52.24 784.54h0M51.51 788.37h0M65.77 791.64h0M92.56 767.54h0M96.16 773.14h0M78.92 790.94h0M87.57 790.82h0M59.77 795.34h0M55.51 793.16h0M77.85 794.78h0M74.51 757.87h0M96.22 784.02h0M71.2 759.94h0M66.67 771.05h0M85.98 759.32h0M93.47 788.91h0M66.02 801.01h0M48.25 768.46h0M80.34 793.27h0M89.97 787.58h0M83.12 772.21h0M85.77 772.87h0M98.21 773.43h0M81.52 770.53h0M89.63 773.13h0M57.87 774.75h0M73.78 755.66h0M84.77 778.95h0M80.29 800.39h0M98.35 768.15h0M70.43 779.96h0M89.2 799.42h0M52.99 769.38h0M79.79 784.67h0M48.25 783.45h0M82.87 774.09h0M66.13 795.3h0M61.65 769.57h0M56.65 762.06h0M95.93 785.04h0M94.94 791.15h0M60.99 777.49h0M96.86 776.39h0M79.42 772.19h0M71.04 785.41h0M73.75 755.13h0M65.7 758.27h0M81.37 775.98h0M90.33 767.42h0M73.7 792.95h0M75.8 797.88h0M69.43 778.09h0M74.51 758.58h0M81.58 797.13h0M73.2 766.81h0M57.84 778.06h0M60.72 757.12h0M83.46 801.53h0M82.12 786.07h0M86.49 770.51h0M59.6 774.98h0M96.12 765.74h0M89.58 798.86h0M68.57 778.69h0M72.96 791.06h0M69.99 767.98h0M61.44 785.66h0M70.59 773.67h0M85.68 785.88h0" fill="none" stroke="#b8140e" stroke-width="0.8" stroke-linecap="round" stroke-opacity="0.85"/>
<path d="M90.53 788.39h0M89.22 795.17h0M51.51 774h0M74.23 748.3h0M74.99 788h0M56.93 759.49h0M62.82 788.93h0M65.66 758.19h0M58.67 755.17h0M80.05 789.52h0M61.28 767.57h0M65.08 750.73h0M62.27 768.28h0M92.55 778.46h0M82.22 790.98h0M53.55 778.49h0M61.63 778.46h0M82.85 764.22h0M91.28 754.11h0M84.83 763.42h0M73.36 767.59h0M82.12 761.92h0M54.8 764.45h0M65.28 791.78h0M58.74 789.01h0M70.92 798.77h0M94.57 757.72h0M60.89 755.3h0M65.48 773.56h0M59.7 779.86h0M51.84 769.19h0M92.43 780.78h0M76.35 758.68h0M59.29 796.51h0M73.28 784.68h0M78.71 751.36h0M84.8 789.91h0M54.22 772.03h0M74.38 801.29h0M66.67 800.75h0M55.81 761.41h0M77.29 752.43h0M56.17 772.87h0M99.18 768.92h0M80.25 753.41h0M66 786.26h0M48.94 769.11h0M90.48 758.02h0M69.54 752.45h0M52.43 785.24h0M78.63 779.3h0M77.86 786.83h0M68.33 756.57h0M65.72 763.41h0M75.18 757.64h0M93.38 761.26h0M74.64 777.2h0M76.6 764.91h0M78.72 788.25h0M65.14 782.35h0M82.77 782.9h0M78.05 777.19h0M55.14 788.8h0M60.21 785.95h0M86.77 772.87h0M68.94 783.89h0M48.72 781.59h0M63.55 763.83h0M79.05 775.81h0M76.94 780.53h0M60.16 754.12h0M97.56 761.95h0M86.86 787.07h0M63.58 751.8h0M49.67 766.75h0M60.4 777.48h0M59.91 788.68h0M73.42 771.65h0M75.6 752.22h0M93.29 756.92h0M93.35 760.8h0M69.37 781.26h0M74.76 782.11h0M61.86 759h0M77.87 804.14h0M78.87 787.04h0M78.75 766.89h0M89.74 785.23h0M76.24 749.03h0M59.97 764.35h0M80.03 796.33h0M73.37 768.03h0M64.54 767.66h0M89.9 775.27h0M84.96 782.11h0M96.52 759.67h0M96.38 781.65h0M74.11 760.54h0M69.06 793.02h0M66.75 783.89h0M58.37 795.91h0M63.61 773.13h0M81.44 800.25h0M85.46 778.28h0M59.89 782.52h0M66.41 773.23h0M74.83 801.65h0M74.02 781.73h0M79.47 762.03h0M84.68 756.55h0M95.47 759.14h0M94.22 774.68h0M48.85 783.86h0M66.6 794.45h0M56.3 769.62h0M68.01 750.23h0M83.5 802.01h0M55.88 793.04h0M67.4 791.85h0M85.42 781.93h0M86.67 781.64h0M72.11 796.79h0M76.82 804.07h0M64.71 756.07h0M95.91 783.68h0M67.78 781.97h0M88.6 774.54h0M80.32 783.66h0M80.98 771.66h0M51.73 777.92h0M78.61 754.2h0M97.39 764.97h0M98.58 769.83h0M73.16 788.56h0M50.92 771.8h0M56.9 770.99h0M63.59 787.14h0M91.09 755.31h0M88.26 773.58h0M51.18 775.58h0M54.34 783.72h0M96.94 784.86h0M90.6 773.71h0M49.98 767.68h0M90.36 757.46h0M68.34 794.85h0M65.42 770.23h0M59.64 791.85h0M87.33 783.26h0M88.6 751.69h0M67.97 770.92h0M80.32 789.59h0M65.01 760.36h0M96.62 772.65h0M76.73 776.77h0M83.77 767.03h0M92.24 787.22h0M85.26 782.4h0M87.35 758.88h0M89.57 756.03h0M90.42 782.28h0M83.43 801.22h0M86.54 750.05h0M89.27 766.38h0M76.51 780.9h0M89.94 781.74h0M80.52 788.71h0M69.1 760.67h0M75.06 799.95h0M64.56 756.88h0M56.82 762.81h0M53.79 777.03h0M92.87 761.51h0M86 748.99h0M93.01 775.16h0M86.69 760.87h0M52.95 762.93h0M74.22 760.42h0M64.59 754.52h0M54.12 778.53h0M67.99 756.21h0M89.62 788.71h0M72.65 764.29h0M79.24 779.7h0M80.38 795.49h0M88.08 760.28h0M86.99 781.47h0M56.69 778.41h0M62.31 774.85h0M74.44 762.23h0M85.85 795.89h0M52.32 786.91h0M54.36 769.77h0M73.69 748.59h0M51.18 778.04h0M82.15 768.54h0M94.54 787.69h0M72.46 799.71h0M69.88 799.09h0M92.99 779.72h0M55.59 792.18h0M66.91 762.07h0M51.07 783.17h0M76.68 794.35h0M62.43 766.97h0M89.59 778.35h0M56.83 773.2h0M61.69 762.73h0M85.37 775.67h0M83.75 775.66h0M71.87 777.28h0M68.08 794.03h0M96.27 789.84h0M85.96 772.94h0M52.88 774.51h0M58.57 769.13h0M70.7 772.85h0M73.37 761.47h0M73.35 748.12h0M79.17 791.9h0M75.04 788.06h0M82.95 794.16h0M90.03 761.15h0M72.58 788.99h0M63.23 780.92h0M68.33 749.1h0M78.8 748.6h0M52.5 760.3h0M90.92 753.64h0M60.8 783.22h0M86.83 769.44h0M88.95 770.7h0M88.56 773.45h0M84.88 766.43h0M66.93 789.19h0M54.74 770.14h0M86.22 781.55h0M92.06 764.72h0M82.65 802.38h0M63.06 767.87h0M68.17 785.39h0M61.17 784.8h0M50.53 777.81h0M76.56 755.83h0" fill="none" stroke="#ea261a" stroke-width="1.1" stroke-linecap="round" stroke-opacity="0.95"/>
<path d="M87.86 801.22h0M101.63 767.84h0M94.23 793.96h0M97.41 757.72h0M46.99 784.66h0M46.29 773.75h0M53.54 755.35h0M99.61 784.39h0M97.92 761.11h0M77.29 746.28h0M60.07 752.13h0M94.18 795.32h0M66.74 804.19h0M99.94 760.84h0M76.53 806.25h0M45.77 776.54h0M70.64 747.28h0M90.18 750.35h0M91.13 798.22h0M61.37 750.95h0M70.23 804.61h0M94.78 753.54h0M82.31 804.92h0M81.16 804.54h0M93.05 750.32h0M101.43 783.06h0M82.2 747.45h0M95.9 794.46h0M94.86 754.15h0M92.75 752.3h0M96.86 792.52h0M101.93 778.01h0M99.65 765.59h0M58.34 799.25h0M49.95 761.87h0M96.61 792.14h0M99.56 785.97h0M47.71 783.69h0M101.89 779.1h0M69.3 805.81h0M98.97 788h0M102.25 774.5h0M89.07 750.81h0M102.79 769.72h0M96.08 756.13h0M102.31 769.86h0M86.8 747.81h0M68.71 805.37h0M91.39 751.19h0M62.01 751.76h0M66.76 749.52h0M95.93 792.85h0M76.69 745.95h0M47.27 769.7h0M77.9 806.2h0M89.1 749.83h0M71.31 748.23h0M55.44 755.18h0M89.02 801.06h0M100.73 781.13h0M95.23 754.64h0M82.73 746.95h0M101.56 777.72h0M86.86 748.63h0M97.34 759.47h0M64.75 748.19h0M94.91 752.79h0M96.73 793.89h0M101.2 782.32h0M95.52 793.33h0M76.03 806.15h0M71.3 745.81h0M96.55 791.93h0M95.41 794.17h0M102.34 775.89h0M102.66 774.14h0M96.87 790.33h0M95.93 794.51h0M101.41 771.8h0M92.85 752.72h0M97.79 758.84h0M67.51 747.83h0M46.97 770.28h0M100.63 767.15h0M62.32 802.06h0M91.42 750.41h0M94.2 797.54h0M72.02 804.95h0M74.42 746.57h0M52.32 795.7h0M68.08 749.47h0M98.23 788.69h0M85.49 747.84h0M90.61 750.22h0M87.63 748.26h0M93.93 753.37h0M71.43 747.46h0M51.27 793h0M85.36 746.5h0M101.05 767.26h0M85.16 803.92h0M58.43 798.91h0M102.19 780.34h0M101.63 777.66h0M95.99 756.73h0M100.76 777.75h0M98.97 761.19h0M67.73 748.44h0M86.21 802.47h0M87.29 801.82h0M92.84 753.7h0M100.17 785.09h0M93.86 795.01h0M93.54 752.94h0M56.49 797.63h0M100.81 776.14h0M92.92 752.37h0M71.64 804.82h0M93.38 753.34h0M55.19 755.1h0M100.52 784.21h0M78.6 746.04h0M95.87 755.81h0M100.55 783.61h0M101.54 772.8h0M76.28 746.91h0M47.5 766.34h0M65.08 748.62h0M97.14 789.89h0M100.26 779.75h0M95.08 794.43h0M94.05 752.87h0M50.32 760.56h0M85.41 747.9h0M100.91 782.97h0M60.31 750.77h0M85.09 747.84h0M100.2 783.96h0M100.17 762.93h0M75.59 746.13h0M47.92 764.77h0M80.84 746.63h0M95.37 794.14h0M91.29 799.61h0M102.61 768.32h0M49.33 761.14h0M79.9 805.66h0M98.76 760.65h0M47.95 764.1h0M95.82 754.3h0M94.75 796.49h0M54.52 796.71h0M102.96 777.03h0M48.02 784.19h0M77.2 806.09h0M79.54 746.23h0M100.12 784.4h0M101.95 771.32h0M93.19 798.34h0M94.31 795.21h0M94.67 795.36h0M80.11 746.3h0M49.44 790.9h0M64.03 749.26h0M100.83 769.03h0M101.33 780.09h0M100.26 779.99h0M93.62 751.37h0M92.74 752.35h0M46.94 772.08h0M95.49 755.17h0M97.51 759.13h0M96.6 756.4h0M46.66 773.28h0M48.09 787.12h0M99.14 785.15h0" fill="none" stroke="#d01c12" stroke-width="1.25" stroke-linecap="round" stroke-opacity="0.9"/>
<path d="M101.5 770.79h0M98.39 787.11h0M87.38 802.2h0M52.36 795.75h0M98.07 790.41h0M102.55 778.24h0M47.64 768.18h0M94.52 796.86h0M97.85 759.8h0M70.85 746.95h0M101.96 769.77h0M88 801.48h0M46.9 777.27h0M101.85 773.59h0M47.89 786.03h0M47.98 764.54h0M67.36 804.45h0M71.38 746.04h0M46.94 776.34h0M99.8 764.28h0M99.59 786.45h0M53.89 756.28h0M86.78 803.21h0M100.91 764.28h0M50.46 760.52h0M57.75 797.89h0M90.25 750.85h0M102.91 773.99h0M53.21 796.84h0M98.37 761.27h0M64.24 802.04h0M80.84 804.6h0M76.99 745.28h0M86.13 747.59h0M82.01 804.37h0M66.43 748.37h0M96.4 756.37h0M65.62 749.02h0M72.65 745.68h0M96.72 756.46h0M98.54 791.35h0M47.12 781.07h0M96.62 755.01h0M99.36 786.8h0M87.22 748.41h0M62.71 801.32h0M73.28 805.2h0M81.07 805.02h0M47.43 772.53h0M59.62 751.51h0M73.21 745.78h0M101.67 769.75h0M98.87 788.29h0M99.61 764.45h0M93.63 753.42h0M56.89 798.62h0M99.06 761.96h0M90.75 750.56h0M87.2 746.38h0M85.81 804.06h0M100.87 780.82h0M85.97 802.3h0M98.23 787.88h0M81.98 746.59h0M94.9 793.26h0M58.69 800.17h0M102.21 770.4h0M100.74 766.52h0M76.06 745.86h0M70.21 804.47h0M70.44 805.39h0M98.23 789.83h0M81.25 746.39h0M101.66 771.14h0M102.56 778.9h0M66.62 749.21h0M70.26 804.85h0M97.46 758.39h0M86.19 803.02h0M80.67 805.35h0M47.12 786.3h0M97.08 757.6h0M77.79 746.79h0M82.41 746.42h0M66.66 804.9h0M100.8 764.91h0M54.5 796.96h0M82.19 747.6h0M71.85 746.69h0M99.04 759.58h0M94.19 797.94h0M58.52 752.16h0M47.85 767.52h0M83.94 803.33h0M46.69 782.35h0M98.7 760.34h0M80.44 805.77h0M101.49 775.8h0M79.74 804.74h0M98.66 756.4h0M100.77 765.31h0M101.46 767.17h0M46.36 772.76h0M58.6 751.03h0M101.39 768.06h0M74.44 805.04h0M56.38 796.18h0M53.2 757.38h0M46.71 776.42h0M54.59 796.64h0M67.48 804.91h0M85.2 803.24h0M101.47 779.4h0M100.5 783.81h0M90.44 800.32h0M47.37 764.33h0M96.71 758.09h0M101.6 778.41h0M98.65 786.57h0M98.5 760.3h0M91.31 750.9h0M47.68 766.82h0M101.37 769.01h0M96.13 757.44h0M75.49 746.11h0M72.64 747.2h0M58.96 753.62h0M86.21 803.58h0M78 804.81h0M101.93 773.02h0M100.03 763.73h0M63.29 750.01h0M75.77 746.89h0M91.12 800.09h0M100.1 766.27h0M96.7 758.71h0M85.11 748.33h0M50.96 758.07h0M89.48 749.51h0M51.94 794.8h0M70.28 804.46h0M86.36 748.77h0M90.7 799.3h0M61.22 751.4h0M93.04 752.32h0M99.23 759.99h0M48.53 764.98h0M48.33 786.43h0M82.03 746.75h0M51.25 792.78h0M101.46 766.53h0M91.98 750.46h0M95.5 754.8h0M66.98 748.21h0M100.17 763.79h0M54.61 796.48h0M84.18 804.04h0M101.76 769.44h0M46.89 772.87h0M102.12 772.54h0M81.26 804.47h0M56.2 798.08h0M99.93 761.57h0M78.93 805.6h0M79.78 746.34h0M96.35 791.64h0M81.11 746.23h0M86.46 803.06h0M95.68 756.68h0M48.78 763.32h0M69.55 747.48h0M94.04 795.7h0M101.02 768.47h0M101.47 781.72h0M95.02 794.56h0M46.51 773.62h0M78.03 806.39h0M69.12 749h0M85.24 747.62h0M97.99 788.67h0M48.81 789.59h0M89.55 749.73h0M100.16 763.62h0M101.4 777.16h0" fill="none" stroke="#f4342a" stroke-width="1.5625" stroke-linecap="round" stroke-opacity="1"/>
</g>
<text font-size="10" stroke="#000" stroke-width="0.17" x="11.2" y="738.6" >K562-CD20<tspan font-size="6.6" dy="-3.6">L</tspan><tspan dy="3.6">&#8203;</tspan></text>
<text font-size="10" stroke="#000" stroke-width="0.17" x="80.1" y="738.6" >K562-CD20<tspan font-size="6.6" dy="-3.6">M</tspan><tspan dy="3.6">&#8203;</tspan></text>
<text font-size="10" stroke="#000" stroke-width="0.17" x="44.4" y="819.7" >K562-CD20<tspan font-size="6.6" dy="-3.6">H</tspan><tspan dy="3.6">&#8203;</tspan></text>
<line x1="172" y1="678.1" x2="172" y2="751.6" stroke="#8a8a8a" stroke-width="0.7" />
<line x1="171.7" y1="751.6" x2="244.1" y2="751.6" stroke="#8a8a8a" stroke-width="0.7" />
<line x1="169.4" y1="751.6" x2="172" y2="751.6" stroke="#8a8a8a" stroke-width="0.7" />
<text font-size="7.8" text-anchor="end" stroke="#000" stroke-width="0.13" x="169" y="754.4" >0</text>
<line x1="169.4" y1="727.2" x2="172" y2="727.2" stroke="#8a8a8a" stroke-width="0.7" />
<text font-size="7.8" text-anchor="end" stroke="#000" stroke-width="0.13" x="169" y="730" >40</text>
<line x1="169.4" y1="702.8" x2="172" y2="702.8" stroke="#8a8a8a" stroke-width="0.7" />
<text font-size="7.8" text-anchor="end" stroke="#000" stroke-width="0.13" x="169" y="705.6" >80</text>
<line x1="169.4" y1="678.4" x2="172" y2="678.4" stroke="#8a8a8a" stroke-width="0.7" />
<text font-size="7.8" text-anchor="end" stroke="#000" stroke-width="0.13" x="169" y="681.2" >120</text>
<line x1="181.4" y1="751.6" x2="181.4" y2="754.2" stroke="#8a8a8a" stroke-width="0.7" />
<text font-size="7.8" text-anchor="middle" stroke="#000" stroke-width="0.13" x="181.4" y="760.6" >1:1</text>
<line x1="199.6" y1="751.6" x2="199.6" y2="754.2" stroke="#8a8a8a" stroke-width="0.7" />
<text font-size="7.8" text-anchor="middle" stroke="#000" stroke-width="0.13" x="199.6" y="760.6" >1:2.5</text>
<line x1="217.6" y1="751.6" x2="217.6" y2="754.2" stroke="#8a8a8a" stroke-width="0.7" />
<text font-size="7.8" text-anchor="middle" stroke="#000" stroke-width="0.13" x="217.6" y="760.6" >1:5</text>
<line x1="235.7" y1="751.6" x2="235.7" y2="754.2" stroke="#8a8a8a" stroke-width="0.7" />
<text font-size="7.8" text-anchor="middle" stroke="#000" stroke-width="0.13" x="235.7" y="760.6" >1:10</text>
<text font-size="7.8" text-anchor="middle" stroke="#000" stroke-width="0.13" x="208.55" y="770.8" >T:E cell ratio</text>
<text font-size="7.9" stroke="#000" stroke-width="0.13" transform="translate(155.8 764.7) rotate(-90)" >% K562 CD20<tspan font-size="4.9" dy="-2.84">L</tspan><tspan dy="2.84">&#8203;</tspan> cell survival</text>
<path d="M181.4 694.75 H199.6 V700.48 H217.6 V711.34 H235.7 V718.05" fill="none" stroke="#555" stroke-width="0.9" stroke-dasharray="3.2 1.3"/>
<path d="M181.4 698.41 H199.6 V706.46 H217.6 V718.29 H235.7 V728.91" fill="none" stroke="#f08a24" stroke-width="0.9" stroke-dasharray="3.2 1.3"/>
<path d="M181.4 701.27 H199.6 V717.68 H217.6 V737.08 H235.7 V743.24" fill="none" stroke="#6fe06f" stroke-width="0.9" stroke-dasharray="3.2 1.3"/>
<path d="M181.4 710.91 H199.6 V735.01 H217.6 V745.68 H235.7 V750.56" fill="none" stroke="#2230f0" stroke-width="0.9" stroke-dasharray="3.2 1.3"/>
<line x1="181.4" y1="695.97" x2="181.4" y2="693.53" stroke="#555" stroke-width="0.45" />
<line x1="180.1" y1="693.53" x2="182.7" y2="693.53" stroke="#555" stroke-width="0.45" />
<line x1="180.1" y1="695.97" x2="182.7" y2="695.97" stroke="#555" stroke-width="0.45" />
<circle cx="181.4" cy="694.75" r="1.75" fill="#8a8a8a" stroke="#333" stroke-width="0.55" />
<line x1="199.6" y1="701.7" x2="199.6" y2="699.26" stroke="#555" stroke-width="0.45" />
<line x1="198.3" y1="699.26" x2="200.9" y2="699.26" stroke="#555" stroke-width="0.45" />
<line x1="198.3" y1="701.7" x2="200.9" y2="701.7" stroke="#555" stroke-width="0.45" />
<circle cx="199.6" cy="700.48" r="1.75" fill="#8a8a8a" stroke="#333" stroke-width="0.55" />
<line x1="217.6" y1="713.17" x2="217.6" y2="709.51" stroke="#555" stroke-width="0.45" />
<line x1="216.3" y1="709.51" x2="218.9" y2="709.51" stroke="#555" stroke-width="0.45" />
<line x1="216.3" y1="713.17" x2="218.9" y2="713.17" stroke="#555" stroke-width="0.45" />
<circle cx="217.6" cy="711.34" r="1.75" fill="#8a8a8a" stroke="#333" stroke-width="0.55" />
<line x1="235.7" y1="720.49" x2="235.7" y2="715.61" stroke="#555" stroke-width="0.45" />
<line x1="234.4" y1="715.61" x2="237" y2="715.61" stroke="#555" stroke-width="0.45" />
<line x1="234.4" y1="720.49" x2="237" y2="720.49" stroke="#555" stroke-width="0.45" />
<circle cx="235.7" cy="718.05" r="1.75" fill="#8a8a8a" stroke="#333" stroke-width="0.55" />
<line x1="181.4" y1="699.63" x2="181.4" y2="697.19" stroke="#555" stroke-width="0.45" />
<line x1="180.1" y1="697.19" x2="182.7" y2="697.19" stroke="#555" stroke-width="0.45" />
<line x1="180.1" y1="699.63" x2="182.7" y2="699.63" stroke="#555" stroke-width="0.45" />
<circle cx="181.4" cy="698.41" r="1.75" fill="#f08a24" stroke="#6a3a10" stroke-width="0.55" />
<line x1="199.6" y1="709.51" x2="199.6" y2="703.41" stroke="#555" stroke-width="0.45" />
<line x1="198.3" y1="703.41" x2="200.9" y2="703.41" stroke="#555" stroke-width="0.45" />
<line x1="198.3" y1="709.51" x2="200.9" y2="709.51" stroke="#555" stroke-width="0.45" />
<circle cx="199.6" cy="706.46" r="1.75" fill="#f08a24" stroke="#6a3a10" stroke-width="0.55" />
<line x1="217.6" y1="723.17" x2="217.6" y2="713.41" stroke="#555" stroke-width="0.45" />
<line x1="216.3" y1="713.41" x2="218.9" y2="713.41" stroke="#555" stroke-width="0.45" />
<line x1="216.3" y1="723.17" x2="218.9" y2="723.17" stroke="#555" stroke-width="0.45" />
<circle cx="217.6" cy="718.29" r="1.75" fill="#f08a24" stroke="#6a3a10" stroke-width="0.55" />
<line x1="235.7" y1="730.74" x2="235.7" y2="727.08" stroke="#555" stroke-width="0.45" />
<line x1="234.4" y1="727.08" x2="237" y2="727.08" stroke="#555" stroke-width="0.45" />
<line x1="234.4" y1="730.74" x2="237" y2="730.74" stroke="#555" stroke-width="0.45" />
<circle cx="235.7" cy="728.91" r="1.75" fill="#f08a24" stroke="#6a3a10" stroke-width="0.55" />
<line x1="181.4" y1="703.11" x2="181.4" y2="699.44" stroke="#555" stroke-width="0.45" />
<line x1="180.1" y1="699.44" x2="182.7" y2="699.44" stroke="#555" stroke-width="0.45" />
<line x1="180.1" y1="703.11" x2="182.7" y2="703.11" stroke="#555" stroke-width="0.45" />
<circle cx="181.4" cy="701.27" r="1.75" fill="#b4f2b4" stroke="#2fa02f" stroke-width="0.55" />
<line x1="199.6" y1="720.73" x2="199.6" y2="714.63" stroke="#555" stroke-width="0.45" />
<line x1="198.3" y1="714.63" x2="200.9" y2="714.63" stroke="#555" stroke-width="0.45" />
<line x1="198.3" y1="720.73" x2="200.9" y2="720.73" stroke="#555" stroke-width="0.45" />
<circle cx="199.6" cy="717.68" r="1.75" fill="#b4f2b4" stroke="#2fa02f" stroke-width="0.55" />
<line x1="217.6" y1="738.91" x2="217.6" y2="735.25" stroke="#555" stroke-width="0.45" />
<line x1="216.3" y1="735.25" x2="218.9" y2="735.25" stroke="#555" stroke-width="0.45" />
<line x1="216.3" y1="738.91" x2="218.9" y2="738.91" stroke="#555" stroke-width="0.45" />
<circle cx="217.6" cy="737.08" r="1.75" fill="#b4f2b4" stroke="#2fa02f" stroke-width="0.55" />
<line x1="235.7" y1="745.68" x2="235.7" y2="740.8" stroke="#555" stroke-width="0.45" />
<line x1="234.4" y1="740.8" x2="237" y2="740.8" stroke="#555" stroke-width="0.45" />
<line x1="234.4" y1="745.68" x2="237" y2="745.68" stroke="#555" stroke-width="0.45" />
<circle cx="235.7" cy="743.24" r="1.75" fill="#b4f2b4" stroke="#2fa02f" stroke-width="0.55" />
<line x1="181.4" y1="715.79" x2="181.4" y2="706.03" stroke="#555" stroke-width="0.45" />
<line x1="180.1" y1="706.03" x2="182.7" y2="706.03" stroke="#555" stroke-width="0.45" />
<line x1="180.1" y1="715.79" x2="182.7" y2="715.79" stroke="#555" stroke-width="0.45" />
<circle cx="181.4" cy="710.91" r="1.75" fill="#2020e6" stroke="#10106a" stroke-width="0.55" />
<line x1="199.6" y1="737.45" x2="199.6" y2="732.57" stroke="#555" stroke-width="0.45" />
<line x1="198.3" y1="732.57" x2="200.9" y2="732.57" stroke="#555" stroke-width="0.45" />
<line x1="198.3" y1="737.45" x2="200.9" y2="737.45" stroke="#555" stroke-width="0.45" />
<circle cx="199.6" cy="735.01" r="1.75" fill="#2020e6" stroke="#10106a" stroke-width="0.55" />
<line x1="217.6" y1="747.51" x2="217.6" y2="743.85" stroke="#555" stroke-width="0.45" />
<line x1="216.3" y1="743.85" x2="218.9" y2="743.85" stroke="#555" stroke-width="0.45" />
<line x1="216.3" y1="747.51" x2="218.9" y2="747.51" stroke="#555" stroke-width="0.45" />
<circle cx="217.6" cy="745.68" r="1.75" fill="#2020e6" stroke="#10106a" stroke-width="0.55" />
<line x1="235.7" y1="751.17" x2="235.7" y2="749.95" stroke="#555" stroke-width="0.45" />
<line x1="234.4" y1="749.95" x2="237" y2="749.95" stroke="#555" stroke-width="0.45" />
<line x1="234.4" y1="751.17" x2="237" y2="751.17" stroke="#555" stroke-width="0.45" />
<circle cx="235.7" cy="750.56" r="1.75" fill="#2020e6" stroke="#10106a" stroke-width="0.55" />
<line x1="173.5" y1="660.8" x2="181.1" y2="660.8" stroke="#555" stroke-width="0.9" stroke-dasharray="2.2 1.1"/>
<circle cx="177.3" cy="660.8" r="1.6" fill="#8a8a8a" stroke="#333" stroke-width="0.55" />
<text font-size="7.9" stroke="#000" stroke-width="0.13" x="183.8" y="663.1" >Rtx-m20</text>
<line x1="173.5" y1="669.4" x2="181.1" y2="669.4" stroke="#6fe06f" stroke-width="0.9" stroke-dasharray="2.2 1.1"/>
<circle cx="177.3" cy="669.4" r="1.6" fill="#b4f2b4" stroke="#2fa02f" stroke-width="0.55" />
<text font-size="7.9" stroke="#000" stroke-width="0.13" x="183.8" y="671.7" >AB21-m20</text>
<line x1="173.5" y1="678" x2="181.1" y2="678" stroke="#f08a24" stroke-width="0.9" stroke-dasharray="2.2 1.1"/>
<circle cx="177.3" cy="678" r="1.6" fill="#f08a24" stroke="#6a3a10" stroke-width="0.55" />
<text font-size="7.9" stroke="#000" stroke-width="0.13" x="183.8" y="680.3" >Rtx-b20/19-AKT3<tspan font-size="5.77" dy="-2.84">PROTAC</tspan><tspan dy="2.84">&#8203;</tspan></text>
<line x1="173.5" y1="686.7" x2="181.1" y2="686.7" stroke="#2230f0" stroke-width="0.9" stroke-dasharray="2.2 1.1"/>
<circle cx="177.3" cy="686.7" r="1.6" fill="#2020e6" stroke="#10106a" stroke-width="0.55" />
<text font-size="7.9" stroke="#000" stroke-width="0.13" x="183.8" y="689" >AB21-b20/19-AKT3<tspan font-size="5.77" dy="-2.84">PROTAC</tspan><tspan dy="2.84">&#8203;</tspan></text>
<line x1="305" y1="675.2" x2="305" y2="751" stroke="#8a8a8a" stroke-width="0.7" />
<line x1="304.7" y1="751" x2="379.5" y2="751" stroke="#8a8a8a" stroke-width="0.7" />
<line x1="302.4" y1="751" x2="305" y2="751" stroke="#8a8a8a" stroke-width="0.7" />
<text font-size="7.8" text-anchor="end" stroke="#000" stroke-width="0.13" x="302" y="753.8" >0</text>
<line x1="302.4" y1="725.83" x2="305" y2="725.83" stroke="#8a8a8a" stroke-width="0.7" />
<text font-size="7.8" text-anchor="end" stroke="#000" stroke-width="0.13" x="302" y="728.63" >40</text>
<line x1="302.4" y1="700.67" x2="305" y2="700.67" stroke="#8a8a8a" stroke-width="0.7" />
<text font-size="7.8" text-anchor="end" stroke="#000" stroke-width="0.13" x="302" y="703.47" >80</text>
<line x1="302.4" y1="675.5" x2="305" y2="675.5" stroke="#8a8a8a" stroke-width="0.7" />
<text font-size="7.8" text-anchor="end" stroke="#000" stroke-width="0.13" x="302" y="678.3" >120</text>
<line x1="315.3" y1="751" x2="315.3" y2="753.6" stroke="#8a8a8a" stroke-width="0.7" />
<text font-size="7.8" text-anchor="middle" stroke="#000" stroke-width="0.13" x="315.3" y="762.7" >1:1</text>
<line x1="334.2" y1="751" x2="334.2" y2="753.6" stroke="#8a8a8a" stroke-width="0.7" />
<text font-size="7.8" text-anchor="middle" stroke="#000" stroke-width="0.13" x="334.2" y="762.7" >1:2.5</text>
<line x1="352.8" y1="751" x2="352.8" y2="753.6" stroke="#8a8a8a" stroke-width="0.7" />
<text font-size="7.8" text-anchor="middle" stroke="#000" stroke-width="0.13" x="352.8" y="762.7" >1:5</text>
<line x1="371.8" y1="751" x2="371.8" y2="753.6" stroke="#8a8a8a" stroke-width="0.7" />
<text font-size="7.8" text-anchor="middle" stroke="#000" stroke-width="0.13" x="371.8" y="762.7" >1:10</text>
<text font-size="7.8" text-anchor="middle" stroke="#000" stroke-width="0.13" x="343.55" y="771.9" >T:E cell ratio</text>
<text font-size="8.3" stroke="#000" stroke-width="0.14" transform="translate(289.3 766.4) rotate(-90)" >% K562 CD20<tspan font-size="5.15" dy="-2.99">M</tspan><tspan dy="2.99">&#8203;</tspan> cell survival</text>
<path d="M315.3 696.7 H334.2 V712.05 H352.8 V729.61 H371.8 V741.12" fill="none" stroke="#77771c" stroke-width="0.9" stroke-dasharray="3.2 1.3"/>
<path d="M315.3 699.16 H334.2 V719.92 H352.8 V733.95 H371.8 V743.32" fill="none" stroke="#6fe06f" stroke-width="0.9" stroke-dasharray="3.2 1.3"/>
<path d="M315.3 704.44 H334.2 V723.19 H352.8 V734.01 H371.8 V747.73" fill="none" stroke="#f08a24" stroke-width="0.9" stroke-dasharray="3.2 1.3"/>
<path d="M315.3 706.58 H334.2 V728.04 H352.8 V741.12 H371.8 V748.36" fill="none" stroke="#2230f0" stroke-width="0.9" stroke-dasharray="3.2 1.3"/>
<line x1="315.3" y1="697.96" x2="315.3" y2="695.44" stroke="#555" stroke-width="0.45" />
<line x1="314" y1="695.44" x2="316.6" y2="695.44" stroke="#555" stroke-width="0.45" />
<line x1="314" y1="697.96" x2="316.6" y2="697.96" stroke="#555" stroke-width="0.45" />
<circle cx="315.3" cy="696.7" r="1.75" fill="#8a8a28" stroke="#3a3a10" stroke-width="0.55" />
<line x1="334.2" y1="713.31" x2="334.2" y2="710.8" stroke="#555" stroke-width="0.45" />
<line x1="332.9" y1="710.8" x2="335.5" y2="710.8" stroke="#555" stroke-width="0.45" />
<line x1="332.9" y1="713.31" x2="335.5" y2="713.31" stroke="#555" stroke-width="0.45" />
<circle cx="334.2" cy="712.05" r="1.75" fill="#8a8a28" stroke="#3a3a10" stroke-width="0.55" />
<line x1="352.8" y1="731.5" x2="352.8" y2="727.72" stroke="#555" stroke-width="0.45" />
<line x1="351.5" y1="727.72" x2="354.1" y2="727.72" stroke="#555" stroke-width="0.45" />
<line x1="351.5" y1="731.5" x2="354.1" y2="731.5" stroke="#555" stroke-width="0.45" />
<circle cx="352.8" cy="729.61" r="1.75" fill="#8a8a28" stroke="#3a3a10" stroke-width="0.55" />
<line x1="371.8" y1="743.01" x2="371.8" y2="739.23" stroke="#555" stroke-width="0.45" />
<line x1="370.5" y1="739.23" x2="373.1" y2="739.23" stroke="#555" stroke-width="0.45" />
<line x1="370.5" y1="743.01" x2="373.1" y2="743.01" stroke="#555" stroke-width="0.45" />
<circle cx="371.8" cy="741.12" r="1.75" fill="#8a8a28" stroke="#3a3a10" stroke-width="0.55" />
<line x1="315.3" y1="701.04" x2="315.3" y2="697.27" stroke="#555" stroke-width="0.45" />
<line x1="314" y1="697.27" x2="316.6" y2="697.27" stroke="#555" stroke-width="0.45" />
<line x1="314" y1="701.04" x2="316.6" y2="701.04" stroke="#555" stroke-width="0.45" />
<circle cx="315.3" cy="699.16" r="1.75" fill="#b4f2b4" stroke="#2fa02f" stroke-width="0.55" />
<line x1="334.2" y1="721.81" x2="334.2" y2="718.03" stroke="#555" stroke-width="0.45" />
<line x1="332.9" y1="718.03" x2="335.5" y2="718.03" stroke="#555" stroke-width="0.45" />
<line x1="332.9" y1="721.81" x2="335.5" y2="721.81" stroke="#555" stroke-width="0.45" />
<circle cx="334.2" cy="719.92" r="1.75" fill="#b4f2b4" stroke="#2fa02f" stroke-width="0.55" />
<line x1="352.8" y1="735.84" x2="352.8" y2="732.06" stroke="#555" stroke-width="0.45" />
<line x1="351.5" y1="732.06" x2="354.1" y2="732.06" stroke="#555" stroke-width="0.45" />
<line x1="351.5" y1="735.84" x2="354.1" y2="735.84" stroke="#555" stroke-width="0.45" />
<circle cx="352.8" cy="733.95" r="1.75" fill="#b4f2b4" stroke="#2fa02f" stroke-width="0.55" />
<line x1="371.8" y1="745.84" x2="371.8" y2="740.81" stroke="#555" stroke-width="0.45" />
<line x1="370.5" y1="740.81" x2="373.1" y2="740.81" stroke="#555" stroke-width="0.45" />
<line x1="370.5" y1="745.84" x2="373.1" y2="745.84" stroke="#555" stroke-width="0.45" />
<circle cx="371.8" cy="743.32" r="1.75" fill="#b4f2b4" stroke="#2fa02f" stroke-width="0.55" />
<line x1="315.3" y1="706.33" x2="315.3" y2="702.55" stroke="#555" stroke-width="0.45" />
<line x1="314" y1="702.55" x2="316.6" y2="702.55" stroke="#555" stroke-width="0.45" />
<line x1="314" y1="706.33" x2="316.6" y2="706.33" stroke="#555" stroke-width="0.45" />
<circle cx="315.3" cy="704.44" r="1.75" fill="#f08a24" stroke="#6a3a10" stroke-width="0.55" />
<line x1="334.2" y1="725.08" x2="334.2" y2="721.3" stroke="#555" stroke-width="0.45" />
<line x1="332.9" y1="721.3" x2="335.5" y2="721.3" stroke="#555" stroke-width="0.45" />
<line x1="332.9" y1="725.08" x2="335.5" y2="725.08" stroke="#555" stroke-width="0.45" />
<circle cx="334.2" cy="723.19" r="1.75" fill="#f08a24" stroke="#6a3a10" stroke-width="0.55" />
<line x1="352.8" y1="737.16" x2="352.8" y2="730.87" stroke="#555" stroke-width="0.45" />
<line x1="351.5" y1="730.87" x2="354.1" y2="730.87" stroke="#555" stroke-width="0.45" />
<line x1="351.5" y1="737.16" x2="354.1" y2="737.16" stroke="#555" stroke-width="0.45" />
<circle cx="352.8" cy="734.01" r="1.75" fill="#f08a24" stroke="#6a3a10" stroke-width="0.55" />
<line x1="371.8" y1="749.62" x2="371.8" y2="745.84" stroke="#555" stroke-width="0.45" />
<line x1="370.5" y1="745.84" x2="373.1" y2="745.84" stroke="#555" stroke-width="0.45" />
<line x1="370.5" y1="749.62" x2="373.1" y2="749.62" stroke="#555" stroke-width="0.45" />
<circle cx="371.8" cy="747.73" r="1.75" fill="#f08a24" stroke="#6a3a10" stroke-width="0.55" />
<line x1="315.3" y1="712.87" x2="315.3" y2="700.29" stroke="#555" stroke-width="0.45" />
<line x1="314" y1="700.29" x2="316.6" y2="700.29" stroke="#555" stroke-width="0.45" />
<line x1="314" y1="712.87" x2="316.6" y2="712.87" stroke="#555" stroke-width="0.45" />
<circle cx="315.3" cy="706.58" r="1.75" fill="#2020e6" stroke="#10106a" stroke-width="0.55" />
<line x1="334.2" y1="729.92" x2="334.2" y2="726.15" stroke="#555" stroke-width="0.45" />
<line x1="332.9" y1="726.15" x2="335.5" y2="726.15" stroke="#555" stroke-width="0.45" />
<line x1="332.9" y1="729.92" x2="335.5" y2="729.92" stroke="#555" stroke-width="0.45" />
<circle cx="334.2" cy="728.04" r="1.75" fill="#2020e6" stroke="#10106a" stroke-width="0.55" />
<line x1="352.8" y1="744.27" x2="352.8" y2="737.98" stroke="#555" stroke-width="0.45" />
<line x1="351.5" y1="737.98" x2="354.1" y2="737.98" stroke="#555" stroke-width="0.45" />
<line x1="351.5" y1="744.27" x2="354.1" y2="744.27" stroke="#555" stroke-width="0.45" />
<circle cx="352.8" cy="741.12" r="1.75" fill="#2020e6" stroke="#10106a" stroke-width="0.55" />
<line x1="371.8" y1="748.99" x2="371.8" y2="747.73" stroke="#555" stroke-width="0.45" />
<line x1="370.5" y1="747.73" x2="373.1" y2="747.73" stroke="#555" stroke-width="0.45" />
<line x1="370.5" y1="748.99" x2="373.1" y2="748.99" stroke="#555" stroke-width="0.45" />
<circle cx="371.8" cy="748.36" r="1.75" fill="#2020e6" stroke="#10106a" stroke-width="0.55" />
<line x1="307.8" y1="662.7" x2="315.4" y2="662.7" stroke="#77771c" stroke-width="0.9" stroke-dasharray="2.2 1.1"/>
<circle cx="311.6" cy="662.7" r="1.6" fill="#8a8a28" stroke="#3a3a10" stroke-width="0.55" />
<text font-size="8.2" stroke="#000" stroke-width="0.14" x="318.6" y="665" >Rtx-m20</text>
<line x1="307.8" y1="671" x2="315.4" y2="671" stroke="#6fe06f" stroke-width="0.9" stroke-dasharray="2.2 1.1"/>
<circle cx="311.6" cy="671" r="1.6" fill="#b4f2b4" stroke="#2fa02f" stroke-width="0.55" />
<text font-size="8.2" stroke="#000" stroke-width="0.14" x="318.6" y="673.3" >AB21-m20</text>
<line x1="307.8" y1="679.8" x2="315.4" y2="679.8" stroke="#f08a24" stroke-width="0.9" stroke-dasharray="2.2 1.1"/>
<circle cx="311.6" cy="679.8" r="1.6" fill="#f08a24" stroke="#6a3a10" stroke-width="0.55" />
<text font-size="8.2" stroke="#000" stroke-width="0.14" x="318.6" y="682.1" >Rtx-b20/19-NTP<tspan font-size="5.99" dy="-2.95">PROTAC</tspan><tspan dy="2.95">&#8203;</tspan></text>
<line x1="307.8" y1="688.5" x2="315.4" y2="688.5" stroke="#2230f0" stroke-width="0.9" stroke-dasharray="2.2 1.1"/>
<circle cx="311.6" cy="688.5" r="1.6" fill="#2020e6" stroke="#10106a" stroke-width="0.55" />
<text font-size="8.2" stroke="#000" stroke-width="0.14" x="318.6" y="690.8" >AB21-b20/19-AKT3<tspan font-size="5.99" dy="-2.95">PROTAC</tspan><tspan dy="2.95">&#8203;</tspan></text>
<line x1="440.5" y1="673.7" x2="440.5" y2="750.6" stroke="#8a8a8a" stroke-width="0.7" />
<line x1="440.2" y1="750.6" x2="518.2" y2="750.6" stroke="#8a8a8a" stroke-width="0.7" />
<line x1="437.9" y1="750.6" x2="440.5" y2="750.6" stroke="#8a8a8a" stroke-width="0.7" />
<text font-size="7.8" text-anchor="end" stroke="#000" stroke-width="0.13" x="437.5" y="753.4" >0</text>
<line x1="437.9" y1="725.07" x2="440.5" y2="725.07" stroke="#8a8a8a" stroke-width="0.7" />
<text font-size="7.8" text-anchor="end" stroke="#000" stroke-width="0.13" x="437.5" y="727.87" >40</text>
<line x1="437.9" y1="699.53" x2="440.5" y2="699.53" stroke="#8a8a8a" stroke-width="0.7" />
<text font-size="7.8" text-anchor="end" stroke="#000" stroke-width="0.13" x="437.5" y="702.33" >80</text>
<line x1="437.9" y1="674" x2="440.5" y2="674" stroke="#8a8a8a" stroke-width="0.7" />
<text font-size="7.8" text-anchor="end" stroke="#000" stroke-width="0.13" x="437.5" y="676.8" >120</text>
<line x1="451.5" y1="750.6" x2="451.5" y2="753.2" stroke="#8a8a8a" stroke-width="0.7" />
<text font-size="7.8" text-anchor="middle" stroke="#000" stroke-width="0.13" x="451.5" y="762.7" >1:1</text>
<line x1="470.5" y1="750.6" x2="470.5" y2="753.2" stroke="#8a8a8a" stroke-width="0.7" />
<text font-size="7.8" text-anchor="middle" stroke="#000" stroke-width="0.13" x="470.5" y="762.7" >1:2.5</text>
<line x1="489.3" y1="750.6" x2="489.3" y2="753.2" stroke="#8a8a8a" stroke-width="0.7" />
<text font-size="7.8" text-anchor="middle" stroke="#000" stroke-width="0.13" x="489.3" y="762.7" >1:5</text>
<line x1="508.8" y1="750.6" x2="508.8" y2="753.2" stroke="#8a8a8a" stroke-width="0.7" />
<text font-size="7.8" text-anchor="middle" stroke="#000" stroke-width="0.13" x="508.8" y="762.7" >1:10</text>
<text font-size="7.8" text-anchor="middle" stroke="#000" stroke-width="0.13" x="480.15" y="771.9" >T:E cell ratio</text>
<text font-size="8.3" stroke="#000" stroke-width="0.14" transform="translate(424.8 765.3) rotate(-90)" >% K562 CD20<tspan font-size="5.15" dy="-2.99">H</tspan><tspan dy="2.99">&#8203;</tspan> cell survival</text>
<path d="M451.5 706.17 H470.5 V713.39 H489.3 V729.6 H508.8 V742.3" fill="none" stroke="#555" stroke-width="0.9" stroke-dasharray="3.2 1.3"/>
<path d="M451.5 709.49 H470.5 V719.96 H489.3 V734 H508.8 V747.73" fill="none" stroke="#6fe06f" stroke-width="0.9" stroke-dasharray="3.2 1.3"/>
<path d="M451.5 711.66 H470.5 V728.07 H489.3 V744.03 H508.8 V748.43" fill="none" stroke="#f08a24" stroke-width="0.9" stroke-dasharray="3.2 1.3"/>
<path d="M451.5 718.68 H470.5 V734 H489.3 V744.47 H508.8 V749.96" fill="none" stroke="#2230f0" stroke-width="0.9" stroke-dasharray="3.2 1.3"/>
<line x1="451.5" y1="709.36" x2="451.5" y2="702.98" stroke="#555" stroke-width="0.45" />
<line x1="450.2" y1="702.98" x2="452.8" y2="702.98" stroke="#555" stroke-width="0.45" />
<line x1="450.2" y1="709.36" x2="452.8" y2="709.36" stroke="#555" stroke-width="0.45" />
<circle cx="451.5" cy="706.17" r="1.75" fill="#8a8a8a" stroke="#333" stroke-width="0.55" />
<line x1="470.5" y1="716.58" x2="470.5" y2="710.19" stroke="#555" stroke-width="0.45" />
<line x1="469.2" y1="710.19" x2="471.8" y2="710.19" stroke="#555" stroke-width="0.45" />
<line x1="469.2" y1="716.58" x2="471.8" y2="716.58" stroke="#555" stroke-width="0.45" />
<circle cx="470.5" cy="713.39" r="1.75" fill="#8a8a8a" stroke="#333" stroke-width="0.55" />
<line x1="489.3" y1="734.71" x2="489.3" y2="724.49" stroke="#555" stroke-width="0.45" />
<line x1="488" y1="724.49" x2="490.6" y2="724.49" stroke="#555" stroke-width="0.45" />
<line x1="488" y1="734.71" x2="490.6" y2="734.71" stroke="#555" stroke-width="0.45" />
<circle cx="489.3" cy="729.6" r="1.75" fill="#8a8a8a" stroke="#333" stroke-width="0.55" />
<line x1="508.8" y1="746.77" x2="508.8" y2="737.83" stroke="#555" stroke-width="0.45" />
<line x1="507.5" y1="737.83" x2="510.1" y2="737.83" stroke="#555" stroke-width="0.45" />
<line x1="507.5" y1="746.77" x2="510.1" y2="746.77" stroke="#555" stroke-width="0.45" />
<circle cx="508.8" cy="742.3" r="1.75" fill="#8a8a8a" stroke="#333" stroke-width="0.55" />
<line x1="451.5" y1="711.41" x2="451.5" y2="707.58" stroke="#555" stroke-width="0.45" />
<line x1="450.2" y1="707.58" x2="452.8" y2="707.58" stroke="#555" stroke-width="0.45" />
<line x1="450.2" y1="711.41" x2="452.8" y2="711.41" stroke="#555" stroke-width="0.45" />
<circle cx="451.5" cy="709.49" r="1.75" fill="#b4f2b4" stroke="#2fa02f" stroke-width="0.55" />
<line x1="470.5" y1="723.15" x2="470.5" y2="716.77" stroke="#555" stroke-width="0.45" />
<line x1="469.2" y1="716.77" x2="471.8" y2="716.77" stroke="#555" stroke-width="0.45" />
<line x1="469.2" y1="723.15" x2="471.8" y2="723.15" stroke="#555" stroke-width="0.45" />
<circle cx="470.5" cy="719.96" r="1.75" fill="#b4f2b4" stroke="#2fa02f" stroke-width="0.55" />
<line x1="489.3" y1="739.11" x2="489.3" y2="728.9" stroke="#555" stroke-width="0.45" />
<line x1="488" y1="728.9" x2="490.6" y2="728.9" stroke="#555" stroke-width="0.45" />
<line x1="488" y1="739.11" x2="490.6" y2="739.11" stroke="#555" stroke-width="0.45" />
<circle cx="489.3" cy="734" r="1.75" fill="#b4f2b4" stroke="#2fa02f" stroke-width="0.55" />
<line x1="508.8" y1="749.64" x2="508.8" y2="745.81" stroke="#555" stroke-width="0.45" />
<line x1="507.5" y1="745.81" x2="510.1" y2="745.81" stroke="#555" stroke-width="0.45" />
<line x1="507.5" y1="749.64" x2="510.1" y2="749.64" stroke="#555" stroke-width="0.45" />
<circle cx="508.8" cy="747.73" r="1.75" fill="#b4f2b4" stroke="#2fa02f" stroke-width="0.55" />
<line x1="451.5" y1="713.58" x2="451.5" y2="709.75" stroke="#555" stroke-width="0.45" />
<line x1="450.2" y1="709.75" x2="452.8" y2="709.75" stroke="#555" stroke-width="0.45" />
<line x1="450.2" y1="713.58" x2="452.8" y2="713.58" stroke="#555" stroke-width="0.45" />
<circle cx="451.5" cy="711.66" r="1.75" fill="#f08a24" stroke="#6a3a10" stroke-width="0.55" />
<line x1="470.5" y1="731.9" x2="470.5" y2="724.24" stroke="#555" stroke-width="0.45" />
<line x1="469.2" y1="724.24" x2="471.8" y2="724.24" stroke="#555" stroke-width="0.45" />
<line x1="469.2" y1="731.9" x2="471.8" y2="731.9" stroke="#555" stroke-width="0.45" />
<circle cx="470.5" cy="728.07" r="1.75" fill="#f08a24" stroke="#6a3a10" stroke-width="0.55" />
<line x1="489.3" y1="747.22" x2="489.3" y2="740.83" stroke="#555" stroke-width="0.45" />
<line x1="488" y1="740.83" x2="490.6" y2="740.83" stroke="#555" stroke-width="0.45" />
<line x1="488" y1="747.22" x2="490.6" y2="747.22" stroke="#555" stroke-width="0.45" />
<circle cx="489.3" cy="744.03" r="1.75" fill="#f08a24" stroke="#6a3a10" stroke-width="0.55" />
<line x1="508.8" y1="749.07" x2="508.8" y2="747.79" stroke="#555" stroke-width="0.45" />
<line x1="507.5" y1="747.79" x2="510.1" y2="747.79" stroke="#555" stroke-width="0.45" />
<line x1="507.5" y1="749.07" x2="510.1" y2="749.07" stroke="#555" stroke-width="0.45" />
<circle cx="508.8" cy="748.43" r="1.75" fill="#f08a24" stroke="#6a3a10" stroke-width="0.55" />
<line x1="451.5" y1="719.96" x2="451.5" y2="717.41" stroke="#555" stroke-width="0.45" />
<line x1="450.2" y1="717.41" x2="452.8" y2="717.41" stroke="#555" stroke-width="0.45" />
<line x1="450.2" y1="719.96" x2="452.8" y2="719.96" stroke="#555" stroke-width="0.45" />
<circle cx="451.5" cy="718.68" r="1.75" fill="#2020e6" stroke="#10106a" stroke-width="0.55" />
<line x1="470.5" y1="736.56" x2="470.5" y2="731.45" stroke="#555" stroke-width="0.45" />
<line x1="469.2" y1="731.45" x2="471.8" y2="731.45" stroke="#555" stroke-width="0.45" />
<line x1="469.2" y1="736.56" x2="471.8" y2="736.56" stroke="#555" stroke-width="0.45" />
<circle cx="470.5" cy="734" r="1.75" fill="#2020e6" stroke="#10106a" stroke-width="0.55" />
<line x1="489.3" y1="746.39" x2="489.3" y2="742.56" stroke="#555" stroke-width="0.45" />
<line x1="488" y1="742.56" x2="490.6" y2="742.56" stroke="#555" stroke-width="0.45" />
<line x1="488" y1="746.39" x2="490.6" y2="746.39" stroke="#555" stroke-width="0.45" />
<circle cx="489.3" cy="744.47" r="1.75" fill="#2020e6" stroke="#10106a" stroke-width="0.55" />
<line x1="508.8" y1="750.6" x2="508.8" y2="749.32" stroke="#555" stroke-width="0.45" />
<line x1="507.5" y1="749.32" x2="510.1" y2="749.32" stroke="#555" stroke-width="0.45" />
<line x1="507.5" y1="750.6" x2="510.1" y2="750.6" stroke="#555" stroke-width="0.45" />
<circle cx="508.8" cy="749.96" r="1.75" fill="#2020e6" stroke="#10106a" stroke-width="0.55" />
<line x1="442.8" y1="662.3" x2="450.4" y2="662.3" stroke="#555" stroke-width="0.9" stroke-dasharray="2.2 1.1"/>
<circle cx="446.6" cy="662.3" r="1.6" fill="#8a8a8a" stroke="#333" stroke-width="0.55" />
<text font-size="8.2" stroke="#000" stroke-width="0.14" x="454.1" y="664.6" >Rtx-m20</text>
<line x1="442.8" y1="671" x2="450.4" y2="671" stroke="#6fe06f" stroke-width="0.9" stroke-dasharray="2.2 1.1"/>
<circle cx="446.6" cy="671" r="1.6" fill="#b4f2b4" stroke="#2fa02f" stroke-width="0.55" />
<text font-size="8.2" stroke="#000" stroke-width="0.14" x="454.1" y="673.3" >AB21-m20</text>
<line x1="442.8" y1="680.4" x2="450.4" y2="680.4" stroke="#f08a24" stroke-width="0.9" stroke-dasharray="2.2 1.1"/>
<circle cx="446.6" cy="680.4" r="1.6" fill="#f08a24" stroke="#6a3a10" stroke-width="0.55" />
<text font-size="8.2" stroke="#000" stroke-width="0.14" x="454.1" y="682.7" >Rtx-b20/19-NTP<tspan font-size="5.99" dy="-2.95">PROTAC</tspan><tspan dy="2.95">&#8203;</tspan></text>
<line x1="442.8" y1="689.2" x2="450.4" y2="689.2" stroke="#2230f0" stroke-width="0.9" stroke-dasharray="2.2 1.1"/>
<circle cx="446.6" cy="689.2" r="1.6" fill="#2020e6" stroke="#10106a" stroke-width="0.55" />
<text font-size="8.2" stroke="#000" stroke-width="0.14" x="454.1" y="691.5" >AB21-b20/19-AKT3<tspan font-size="5.99" dy="-2.95">PROTAC</tspan><tspan dy="2.95">&#8203;</tspan></text>
<line x1="581.4" y1="676.2" x2="581.4" y2="750.5" stroke="#8a8a8a" stroke-width="0.7" />
<line x1="581.1" y1="750.5" x2="675.8" y2="750.5" stroke="#8a8a8a" stroke-width="0.7" />
<line x1="578.6" y1="750.5" x2="581.4" y2="750.5" stroke="#8a8a8a" stroke-width="0.7" />
<text font-size="9.2" text-anchor="end" stroke="#000" stroke-width="0.16" x="578.6" y="753.8" >0</text>
<line x1="578.6" y1="735.7" x2="581.4" y2="735.7" stroke="#8a8a8a" stroke-width="0.7" />
<text font-size="9.2" text-anchor="end" stroke="#000" stroke-width="0.16" x="578.6" y="739" >10</text>
<line x1="578.6" y1="720.9" x2="581.4" y2="720.9" stroke="#8a8a8a" stroke-width="0.7" />
<text font-size="9.2" text-anchor="end" stroke="#000" stroke-width="0.16" x="578.6" y="724.2" >20</text>
<line x1="578.6" y1="706.1" x2="581.4" y2="706.1" stroke="#8a8a8a" stroke-width="0.7" />
<text font-size="9.2" text-anchor="end" stroke="#000" stroke-width="0.16" x="578.6" y="709.4" >30</text>
<line x1="578.6" y1="691.3" x2="581.4" y2="691.3" stroke="#8a8a8a" stroke-width="0.7" />
<text font-size="9.2" text-anchor="end" stroke="#000" stroke-width="0.16" x="578.6" y="694.6" >40</text>
<line x1="578.6" y1="676.5" x2="581.4" y2="676.5" stroke="#8a8a8a" stroke-width="0.7" />
<text font-size="9.2" text-anchor="end" stroke="#000" stroke-width="0.16" x="578.6" y="679.8" >50</text>
<line x1="590.4" y1="750.5" x2="590.4" y2="753.3" stroke="#8a8a8a" stroke-width="0.7" />
<text font-size="9.2" text-anchor="middle" stroke="#000" stroke-width="0.16" x="590.4" y="761.7" >0</text>
<line x1="609.8" y1="750.5" x2="609.8" y2="753.3" stroke="#8a8a8a" stroke-width="0.7" />
<text font-size="9.2" text-anchor="middle" stroke="#000" stroke-width="0.16" x="609.8" y="761.7" >9</text>
<line x1="629" y1="750.5" x2="629" y2="753.3" stroke="#8a8a8a" stroke-width="0.7" />
<text font-size="9.2" text-anchor="middle" stroke="#000" stroke-width="0.16" x="629" y="761.7" >11</text>
<line x1="648.4" y1="750.5" x2="648.4" y2="753.3" stroke="#8a8a8a" stroke-width="0.7" />
<text font-size="9.2" text-anchor="middle" stroke="#000" stroke-width="0.16" x="648.4" y="761.7" >13</text>
<line x1="667.6" y1="750.5" x2="667.6" y2="753.3" stroke="#8a8a8a" stroke-width="0.7" />
<text font-size="9.2" text-anchor="middle" stroke="#000" stroke-width="0.16" x="667.6" y="761.7" >15</text>
<text font-size="8.4" text-anchor="middle" stroke="#000" stroke-width="0.14" x="629.2" y="772.5" >Days</text>
<text font-size="8.45" stroke="#000" stroke-width="0.14" transform="translate(565 748.4) rotate(-90)" >CAR T cells (5x10<tspan font-size="5.07" dy="-3.04">4</tspan><tspan dy="3.04">&#8203;</tspan>)</text>
<path d="M590.4 749.02 L609.8 730.08 L629 727.56 L648.4 736.29 L667.6 739.4 L667.6 742.36 L648.4 739.25 L629 730.52 L609.8 733.04 Z" fill="#bbbbbb" stroke="none" stroke-width="0.6" fill-opacity="0.6"/>
<path d="M590.4 749.02 L609.8 726.08 L629 717.35 L648.4 726.08 L667.6 732.44 L667.6 736.29 L648.4 729.93 L629 721.2 L609.8 729.93 Z" fill="#f6c48c" stroke="none" stroke-width="0.6" fill-opacity="0.6"/>
<path d="M590.4 749.02 L609.8 721.34 L629 702.25 L648.4 708.47 L667.6 719.42 L667.6 726.52 L648.4 715.57 L629 709.36 L609.8 728.45 Z" fill="#c6f2c6" stroke="none" stroke-width="0.6" fill-opacity="0.6"/>
<path d="M590.4 749.02 L609.8 705.36 L629 689.52 L648.4 696.63 L667.6 705.21 L667.6 708.76 L648.4 700.18 L629 693.08 L609.8 708.91 Z" fill="#b8bcf0" stroke="none" stroke-width="0.6" fill-opacity="0.6"/>
<path d="M590.4 749.02 L609.8 731.56 L629 729.04 L648.4 737.77 L667.6 740.88" fill="none" stroke="#555" stroke-width="1.0" stroke-linejoin="round"/>
<path d="M590.4 749.02 L609.8 728 L629 719.27 L648.4 728 L667.6 734.37" fill="none" stroke="#f08a24" stroke-width="1.0" stroke-linejoin="round"/>
<path d="M590.4 749.02 L609.8 724.9 L629 705.8 L648.4 712.02 L667.6 722.97" fill="none" stroke="#6fe06f" stroke-width="1.0" stroke-linejoin="round"/>
<path d="M590.4 749.02 L609.8 707.14 L629 691.3 L648.4 698.4 L667.6 706.99" fill="none" stroke="#2230f0" stroke-width="1.0" stroke-linejoin="round"/>
<circle cx="590.4" cy="749.02" r="1.8" fill="#8a8a8a" stroke="#333" stroke-width="0.55" />
<circle cx="609.8" cy="731.56" r="1.8" fill="#8a8a8a" stroke="#333" stroke-width="0.55" />
<circle cx="629" cy="729.04" r="1.8" fill="#8a8a8a" stroke="#333" stroke-width="0.55" />
<circle cx="648.4" cy="737.77" r="1.8" fill="#8a8a8a" stroke="#333" stroke-width="0.55" />
<circle cx="667.6" cy="740.88" r="1.8" fill="#8a8a8a" stroke="#333" stroke-width="0.55" />
<circle cx="590.4" cy="749.02" r="1.8" fill="#f08a24" stroke="#6a3a10" stroke-width="0.55" />
<circle cx="609.8" cy="728" r="1.8" fill="#f08a24" stroke="#6a3a10" stroke-width="0.55" />
<circle cx="629" cy="719.27" r="1.8" fill="#f08a24" stroke="#6a3a10" stroke-width="0.55" />
<circle cx="648.4" cy="728" r="1.8" fill="#f08a24" stroke="#6a3a10" stroke-width="0.55" />
<circle cx="667.6" cy="734.37" r="1.8" fill="#f08a24" stroke="#6a3a10" stroke-width="0.55" />
<circle cx="590.4" cy="749.02" r="1.8" fill="#b4f2b4" stroke="#2fa02f" stroke-width="0.55" />
<circle cx="609.8" cy="724.9" r="1.8" fill="#b4f2b4" stroke="#2fa02f" stroke-width="0.55" />
<circle cx="629" cy="705.8" r="1.8" fill="#b4f2b4" stroke="#2fa02f" stroke-width="0.55" />
<circle cx="648.4" cy="712.02" r="1.8" fill="#b4f2b4" stroke="#2fa02f" stroke-width="0.55" />
<circle cx="667.6" cy="722.97" r="1.8" fill="#b4f2b4" stroke="#2fa02f" stroke-width="0.55" />
<circle cx="590.4" cy="749.02" r="1.8" fill="#2020e6" stroke="#10106a" stroke-width="0.55" />
<circle cx="609.8" cy="707.14" r="1.8" fill="#2020e6" stroke="#10106a" stroke-width="0.55" />
<circle cx="629" cy="691.3" r="1.8" fill="#2020e6" stroke="#10106a" stroke-width="0.55" />
<circle cx="648.4" cy="698.4" r="1.8" fill="#2020e6" stroke="#10106a" stroke-width="0.55" />
<circle cx="667.6" cy="706.99" r="1.8" fill="#2020e6" stroke="#10106a" stroke-width="0.55" />
<line x1="583.8" y1="645.6" x2="591" y2="645.6" stroke="#555" stroke-width="1.0" />
<circle cx="587.4" cy="645.6" r="1.7" fill="#8a8a8a" stroke="#333" stroke-width="0.55" />
<text font-size="8.4" stroke="#000" stroke-width="0.14" x="594.7" y="648.3" >Rtx-m20</text>
<line x1="583.8" y1="655.4" x2="591" y2="655.4" stroke="#6fe06f" stroke-width="1.0" />
<circle cx="587.4" cy="655.4" r="1.7" fill="#b4f2b4" stroke="#2fa02f" stroke-width="0.55" />
<text font-size="8.4" stroke="#000" stroke-width="0.14" x="594.7" y="658.1" >AB21-m20</text>
<line x1="583.8" y1="665.7" x2="591" y2="665.7" stroke="#f08a24" stroke-width="1.0" />
<circle cx="587.4" cy="665.7" r="1.7" fill="#f08a24" stroke="#6a3a10" stroke-width="0.55" />
<text font-size="8.4" stroke="#000" stroke-width="0.14" x="594.7" y="668.7" >Rtx-AKT3<tspan font-size="6.05" dy="-3.02">PROTAC</tspan><tspan dy="3.02">&#8203;</tspan></text>
<line x1="583.8" y1="677.3" x2="591" y2="677.3" stroke="#2230f0" stroke-width="1.0" />
<circle cx="587.4" cy="677.3" r="1.7" fill="#2020e6" stroke="#10106a" stroke-width="0.55" />
<text font-size="8.4" stroke="#000" stroke-width="0.14" x="594.7" y="680.4" >AB21-AKT3<tspan font-size="6.05" dy="-3.02">PROTAC</tspan><tspan dy="3.02">&#8203;</tspan></text>
<path d="M664.1 661.6 H668.6 V681 H664.1" fill="none" stroke="#333" stroke-width="0.55" />
<text font-size="8.7" stroke="#000" stroke-width="0.15" transform="translate(676.5 684) rotate(-90)" >b20/19</text>
<path d="M670.7 707.6 H674.8 V735.1 H670.7" fill="none" stroke="#333" stroke-width="0.5" />
<text font-size="7.4" text-anchor="middle" font-weight="bold" transform="translate(672.4 714.5) rotate(90)" >****</text>
<path d="M670.7 723.3 H678 V740.9 H670.7" fill="none" stroke="#333" stroke-width="0.5" />
<text font-size="7.4" text-anchor="middle" font-weight="bold" transform="translate(675.8 733) rotate(90)" >****</text>
<text font-size="19.5" stroke="#000" stroke-width="0.33" transform="translate(14.5 15.9) scale(1 1.05)" >a</text>
<text font-size="19.5" stroke="#000" stroke-width="0.33" transform="translate(155.2 16.6) scale(1 1.05)" >b</text>
<text font-size="19.5" stroke="#000" stroke-width="0.33" transform="translate(453.6 14.9) scale(1 1.05)" >c</text>
<text font-size="19.5" stroke="#000" stroke-width="0.33" transform="translate(599.7 15.6) scale(1 1.05)" >d</text>
<text font-size="19.5" stroke="#000" stroke-width="0.33" transform="translate(6.9 231.6) scale(1 1.05)" >e</text>
<text font-size="19.5" stroke="#000" stroke-width="0.33" transform="translate(337 237.4) scale(1 1.05)" >f</text>
<text font-size="19.5" stroke="#000" stroke-width="0.33" transform="translate(479.9 231.3) scale(1 1.05)" >g</text>
<text font-size="19.5" stroke="#000" stroke-width="0.33" transform="translate(587.1 228.9) scale(1 1.05)" >h</text>
<text font-size="19.5" stroke="#000" stroke-width="0.33" transform="translate(9 453.9) scale(1 1.05)" >i</text>
<text font-size="19.5" stroke="#000" stroke-width="0.33" transform="translate(109.2 453.9) scale(1 1.05)" >j</text>
<text font-size="19.5" stroke="#000" stroke-width="0.33" transform="translate(212.7 453.9) scale(1 1.05)" >k</text>
<text font-size="19.5" stroke="#000" stroke-width="0.33" transform="translate(339.8 453.9) scale(1 1.05)" >l</text>
<text font-size="19.5" stroke="#000" stroke-width="0.33" transform="translate(435.7 453.9) scale(1 1.05)" >m</text>
<text font-size="19.5" stroke="#000" stroke-width="0.33" transform="translate(562.5 453.9) scale(1 1.05)" >n</text>
<text font-size="19.5" stroke="#000" stroke-width="0.33" transform="translate(0.5 651) scale(1 1.05)" >o</text>
<text font-size="19.5" stroke="#000" stroke-width="0.33" transform="translate(147.8 651) scale(1 1.05)" >p</text>
<text font-size="19.5" stroke="#000" stroke-width="0.33" transform="translate(268.1 652.1) scale(1 1.05)" >q</text>
<text font-size="19.5" stroke="#000" stroke-width="0.33" transform="translate(406.7 652.5) scale(1 1.05)" >r</text>
<text font-size="19.5" stroke="#000" stroke-width="0.33" transform="translate(552.7 651.8) scale(1 1.05)" >s</text>
</svg>
</body></html>
